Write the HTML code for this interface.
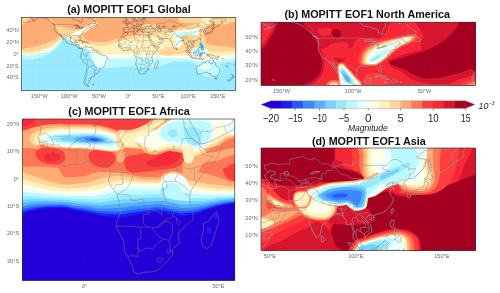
<!DOCTYPE html><html><head><meta charset="utf-8"><title>MOPITT EOF1</title>
<style>html,body{margin:0;padding:0;background:#fff}svg{display:block}text{font-family:'Liberation Sans', sans-serif}</style></head><body>
<svg width="500" height="293" viewBox="0 0 500 293">
<rect width="500" height="293" fill="#fff"/>
<defs>
<clipPath id="cpa"><rect x="21.5" y="17.5" width="214.3" height="72.9"/></clipPath>
<clipPath id="cpb"><rect x="261.0" y="22.2" width="214.6" height="63.1"/></clipPath>
<clipPath id="cpc"><rect x="22.4" y="119.0" width="212.4" height="161.3"/></clipPath>
<clipPath id="cpd"><rect x="261.0" y="148.0" width="214.6" height="102.4"/></clipPath>
</defs>
<g clip-path="url(#cpa)">
<rect x="19" y="15" width="219" height="78" fill="#99eaff"/>
<path d="M18.4 66.2C20.3 60.9 25.3 63.3 29.6 63C33.9 62.8 39.5 63.8 44 64.6C48.6 65.4 52.9 66.2 56.9 67.8C60.9 69.4 64.9 71.8 68.1 74.2C71.3 76.6 74 78.8 76.1 82.3C78.2 85.7 90.5 92.9 80.9 95.1C71.3 97.2 28.8 99.9 18.4 95.1C8 90.3 16.5 71.6 18.4 66.2Z" fill="#99eaff" />
<path d="M114 77.4C116.7 74 123.4 74.6 130.1 74.2C136.7 73.8 146.9 74.5 154.1 75C161.3 75.6 170.1 74.1 173.3 77.4C176.5 80.8 183.2 92.1 173.3 95.1C163.5 98 123.9 98 114 95.1C104.2 92.1 111.4 80.9 114 77.4Z" fill="#99eaff" />
<path d="M160 67.8C162.1 63 168.5 66.1 172.8 66.2C177.1 66.4 182.2 67.3 185.6 68.6C189.1 70 191.8 72 193.7 74.2C195.5 76.5 194.5 80.4 196.9 82.3C199.3 84.1 203 85.2 208.1 85.5C213.2 85.7 222.5 84.9 227.3 83.9C232.1 82.8 235.3 77.2 236.9 79.1C238.5 80.9 249.7 92.4 236.9 95.1C224.1 97.7 172.8 99.6 160 95.1C147.2 90.5 157.9 72.6 160 67.8Z" fill="#99eaff" />
<path d="M18.5 10C-18.2 18.2 18 50.8 18.5 59C19 67.2 19.6 58.9 21.5 59C23.4 59.1 26.9 59.7 30 59.5C33.1 59.3 36.7 59 40 58C43.3 57 47 55.4 50 53.5C53 51.6 55.8 48.9 58 46.5C60.2 44.1 61.9 40.8 63 39C64.1 37.2 63.6 35.5 64.4 35.5C65.2 35.5 66.7 37.9 68 39C69.3 40.1 70.7 40.9 72 42C73.3 43.1 74.5 44.5 76 45.5C77.5 46.5 79.3 47.2 81 48C82.7 48.8 84.5 48.7 86 50C87.5 51.3 88.5 53.5 90 56C91.5 58.5 93.3 63 95 65C96.7 67 97.5 67.5 100 68C102.5 68.5 106.7 68.2 110 68C113.3 67.8 116.7 67.2 120 67C123.3 66.8 126.7 66.5 130 66.5C133.3 66.5 136.7 66.8 140 67C143.3 67.2 146.7 68.2 150 68C153.3 67.8 156.7 66.9 160 66C163.3 65.1 166.7 63.2 170 62.5C173.3 61.8 176.7 61.6 180 61.5C183.3 61.4 186.7 61.5 190 62C193.3 62.5 196.7 64.1 200 64.5C203.3 64.9 206.7 64.7 210 64.5C213.3 64.3 216.7 63.9 220 63.5C223.3 63.1 227.3 62.4 230 62C232.7 61.6 234.5 61.2 236 61C237.5 60.8 238.5 69.5 239 61C239.5 52.5 275.8 18.5 239 10C202.2 1.5 55.2 1.8 18.5 10Z" fill="#bcf9ff" />
<path d="M18.5 10C-18.2 17.4 18 47.2 18.5 54.6C19 62 19.6 54.4 21.5 54.6C23.4 54.8 26.9 55.8 30 55.6C33.1 55.4 36.7 54.4 40 53.6C43.3 52.8 47 52.5 50 51C53 49.5 55.8 46.4 58 44.3C60.2 42.2 61.9 39.9 63 38.4C64.1 36.9 63.6 35 64.4 35C65.2 35 66.7 37.2 68 38.2C69.3 39.2 70.7 40.1 72 41.2C73.3 42.3 74.5 43.7 76 44.7C77.5 45.7 79.3 46.3 81 47C82.7 47.7 84.5 48.1 86 49C87.5 49.9 88.5 51.2 90 52.5C91.5 53.8 93.3 56.1 95 57C96.7 57.9 97.5 57.8 100 58C102.5 58.2 106.7 58.4 110 58.5C113.3 58.6 116.7 58.5 120 58.5C123.3 58.5 126.7 58.4 130 58.5C133.3 58.6 136.7 58.9 140 59C143.3 59.1 146.7 59.1 150 59C153.3 58.9 156.7 58.6 160 58.5C163.3 58.4 166.7 58.5 170 58.5C173.3 58.5 176.7 58.3 180 58.5C183.3 58.7 186.7 58.9 190 59.5C193.3 60.1 196.7 61.5 200 62C203.3 62.5 206.7 62.7 210 62.5C213.3 62.3 216.7 61.6 220 61C223.3 60.4 227.3 59.5 230 59C232.7 58.5 234.5 58.2 236 58C237.5 57.8 238.5 66 239 58C239.5 50 275.8 18 239 10C202.2 2 55.2 2.6 18.5 10Z" fill="#eaffff" />
<path d="M18.5 10C-18.2 17.4 18 46.8 18.5 54.1C19 61.5 19.6 53.9 21.5 54.1C23.4 54.3 26.9 55.3 30 55.1C33.1 54.9 36.7 53.9 40 53.1C43.3 52.3 47 51.8 50 50.3C53 48.8 55.8 45.8 58 43.8C60.2 41.8 61.9 39.5 63 38C64.1 36.5 63.6 34.8 64.4 34.7C65.2 34.6 66.7 36.6 68 37.6C69.3 38.6 70.7 39.5 72 40.6C73.3 41.7 74.5 43.1 76 44C77.5 44.9 79.3 45.5 81 46.2C82.7 46.9 84.5 47.3 86 48C87.5 48.7 88.5 49.4 90 50.5C91.5 51.6 93.3 53.6 95 54.5C96.7 55.4 97.5 55.7 100 56C102.5 56.3 106.7 56.4 110 56.5C113.3 56.6 116.7 56.6 120 56.5C123.3 56.4 126.7 56 130 56C133.3 56 136.7 56.7 140 56.8C143.3 56.9 146.7 56.8 150 56.8C153.3 56.8 156.7 56.5 160 56.5C163.3 56.5 166.7 56.9 170 57C173.3 57.1 176.7 57 180 57.2C183.3 57.4 186.7 57.5 190 58C193.3 58.5 196.7 59.6 200 60C203.3 60.4 206.7 60.8 210 60.5C213.3 60.2 216.7 59.1 220 58.5C223.3 57.9 227.3 57.4 230 57C232.7 56.6 234.5 56.2 236 56C237.5 55.8 238.5 63.7 239 56C239.5 48.3 275.8 17.7 239 10C202.2 2.3 55.2 2.6 18.5 10Z" fill="#ffffea" />
<path d="M18.5 10C-18.2 17.3 18 46.6 18.5 53.9C19 61.2 19.6 53.8 21.5 53.9C23.4 54 26.4 54.6 29.6 54.3C32.8 54 37.3 52.9 40.8 51.9C44.3 50.9 47.4 49.8 50.4 48.3C53.4 46.8 56.4 44.8 58.5 43C60.6 41.2 62 39.1 63 37.6C64 36.1 63.6 34.4 64.4 34.3C65.2 34.2 66.7 36 68 37C69.3 38 70.7 39 72 40C73.3 41 74.5 42.2 76 43C77.5 43.8 79.3 44.4 81 45C82.7 45.6 84.5 46 86 46.5C87.5 47 88.5 47.1 90 48C91.5 48.9 93.3 51 95 52C96.7 53 97.5 53.6 100 54C102.5 54.4 106.7 54.4 110 54.5C113.3 54.6 116.7 54.6 120 54.5C123.3 54.4 126.7 54 130 54C133.3 54 136.7 54.4 140 54.5C143.3 54.6 146.7 54.4 150 54.5C153.3 54.6 156.7 54.8 160 55C163.3 55.2 166.7 55.8 170 56C173.3 56.2 176.7 56.3 180 56.4C183.3 56.5 186.7 56.2 190 56.5C193.3 56.8 196.7 57.8 200 58C203.3 58.2 206.7 57.8 210 57.5C213.3 57.2 216.7 56.3 220 56C223.3 55.7 227.3 55.7 230 55.5C232.7 55.3 234.5 55.1 236 55C237.5 54.9 238.5 62.5 239 55C239.5 47.5 275.8 17.5 239 10C202.2 2.5 55.2 2.7 18.5 10Z" fill="#fff1bc" />
<path d="M18.5 10C-18.2 16.9 18 44.6 18.5 51.5C19 58.4 19.6 51.4 21.5 51.5C23.4 51.6 26.7 52.5 29.6 52.2C32.6 51.9 36 50.8 39.2 49.9C42.4 49 45.8 48.3 48.8 47C51.8 45.7 54.7 43.6 56.9 42C59.1 40.4 60.8 38.8 62 37.5C63.2 36.2 63.2 34.2 64 34C64.8 33.8 65.8 35.2 67 36C68.2 36.8 69.7 38.1 71 39C72.3 39.9 73.5 40.8 75 41.5C76.5 42.2 78.2 42.7 80 43C81.8 43.3 84.3 43.2 86 43.5C87.7 43.8 87.7 44.1 90 44.6C92.3 45.1 96.4 46.3 99.6 46.3C102.8 46.3 106 45.4 109.2 44.6C112.4 43.8 115.6 42.2 118.8 41.4C122 40.5 125.3 40.1 128.5 39.5C131.7 38.9 135.1 38.2 138 38C140.9 37.8 143.2 37.7 146 38C148.8 38.3 152.3 39 155 40C157.7 41 160.2 42.3 162 44C163.8 45.7 164.7 48.4 166 50C167.3 51.6 167.7 52.8 170 53.5C172.3 54.2 176.7 54.1 180 54C183.3 53.9 187 53.3 190 53C193 52.7 195.5 52.3 198 52C200.5 51.7 202.2 51.1 205 51C207.8 50.9 211.7 51.4 215 51.5C218.3 51.6 221.5 51.8 225 51.8C228.5 51.8 233.7 51.5 236 51.5C238.3 51.5 238.5 58.4 239 51.5C239.5 44.6 275.8 16.9 239 10C202.2 3.1 55.2 3.1 18.5 10Z" fill="#ffd699" />
<path d="M18.4 13.4C24.1 7.9 46.9 11.9 52.9 13.4C58.8 14.9 53.5 20.3 54 22.2C54.4 24.1 55 23.7 55.6 24.6C56.2 25.6 56.9 26.8 57.7 27.8C58.4 28.9 59.4 30 60.1 31C60.7 32.1 61.7 33.2 61.3 34.2C60.9 35.3 59.2 36.4 57.7 37.4C56.1 38.5 54.1 39.6 52.1 40.6C50 41.7 47.8 42.7 45.6 43.5C43.5 44.3 41.4 44.9 39.2 45.4C37.1 46 35 46.7 32.8 47.1C30.7 47.5 28.8 48 26.4 47.9C24 47.7 19.7 52 18.4 46.2C17.1 40.5 12.7 18.9 18.4 13.4Z" fill="#ffac75" />
<path d="M18.4 13.4C20.3 11.5 28 12.2 29.6 13.4C31.2 14.6 28.9 18.9 28 20.6C27.1 22.3 25.6 23.1 24 23.8C22.4 24.5 19.3 26.4 18.4 24.6C17.5 22.9 16.5 15.3 18.4 13.4Z" fill="#ffd699" />
<path d="M50 16.6C51.8 15.5 61.2 15.7 63.2 16.6C65.2 17.5 63 20.7 62 22C61 23.3 58.8 24.2 57.2 24.4C55.6 24.6 53.6 24.5 52.4 23.2C51.2 21.9 48.2 17.7 50 16.6Z" fill="#ffd699" />
<path d="M52 14C59.3 12.3 92.5 12.7 100 14C107.5 15.3 98.7 20.1 97 22C95.3 23.9 92.2 24.4 90 25.5C87.8 26.6 86 27.5 84 28.5C82 29.5 79.7 30.6 78 31.5C76.3 32.4 75.7 34.2 74 34C72.3 33.8 70.3 31 68 30C65.7 29 62 29 60 28C58 27 57.3 26.3 56 24C54.7 21.7 44.7 15.7 52 14Z" fill="#ffac75" />
<path d="M97 14C111 12.3 166.8 12.7 180 14C193.2 15.3 177.7 20.2 176 22C174.3 23.8 172.1 23.8 170 24.6C167.9 25.4 165.5 26.9 163.7 27C161.8 27.1 160.5 25.5 158.9 25.4C157.3 25.3 155.3 25.7 154 26.2C152.7 26.7 152.2 27.9 150.9 28.6C149.6 29.3 147.6 29.5 146 30.2C144.4 30.9 143.2 31.8 141.3 32.6C139.5 33.4 137.3 34.3 134.9 35C132.5 35.7 129.5 36.1 126.9 36.6C124.3 37.1 121.4 37.3 119.3 37.8C117.2 38.3 116.4 38.8 114.5 39.4C112.6 40 110.4 41 108 41.4C105.6 41.8 102.7 42 100 42C97.3 42 94.3 41.9 92 41.5C89.7 41.1 87.5 40.3 86 39.5C84.5 38.7 83.8 37.6 83 36.5C82.2 35.4 80.8 34 81 33C81.2 32 82.5 31.4 84 30.5C85.5 29.6 88 28.6 90 27.5C92 26.4 94.8 26.2 96 24C97.2 21.8 83 15.7 97 14Z" fill="#ffac75" />
<path d="M56 25.6C57.4 25.5 61.4 26.8 64.4 27.4C67.4 28 71.8 28.7 74 29.2C76.3 29.7 78.2 29.4 77.9 30.4C77.6 31.4 74.6 34.3 72.2 35.4C69.8 36.6 65.5 37.5 63.4 37.1C61.4 36.7 61 34.5 59.8 33C58.6 31.6 56.9 29.5 56.2 28.2C55.6 27 54.6 25.7 56 25.6Z" fill="#ffd699" />
<path d="M72.6 35.4C73.3 34.6 76.1 34 77.6 34C79.1 34 80.8 34.5 81.5 35.4C82.1 36.4 82.2 38.9 81.5 39.8C80.7 40.6 78.4 40.7 77 40.6C75.7 40.5 74.1 39.9 73.4 39C72.7 38.2 71.9 36.3 72.6 35.4Z" fill="#ffd699" />
<path d="M70.6 34.6C71.1 33.2 74.8 31.6 77 30.3C79.3 29 82.6 27.8 84.2 26.9C85.9 26.1 85.1 25.9 86.9 25C88.8 24.1 93.6 21.8 95.3 21.8C97.1 21.8 98.2 23.8 97.3 24.9C96.5 26 92 27.5 90.2 28.5C88.5 29.6 88.3 30.3 86.7 31.4C85.1 32.5 82.7 33.9 80.6 35C78.5 36.2 75.9 38.6 74.2 38.6C72.5 38.5 70.1 36 70.6 34.6Z" fill="#ffd699" />
<path d="M71.1 34.9C71.6 33.7 75.1 32.1 77.3 30.8C79.6 29.6 82.9 28.4 84.5 27.5C86.2 26.6 85.4 26.4 87.2 25.5C89 24.7 93.9 22.6 95.5 22.4C97.1 22.2 97.9 23.5 96.9 24.4C96 25.3 91.7 27 89.9 28C88.2 29.1 88 29.8 86.4 30.9C84.7 32 82.4 33.3 80.3 34.5C78.3 35.7 75.6 37.9 74.1 38C72.6 38 70.6 36.1 71.1 34.9Z" fill="#fff1bc" />
<path d="M71.6 35.2C72.2 34.2 75.4 32.6 77.6 31.4C79.8 30.2 83.2 28.9 84.8 28C86.5 27.1 85.7 26.9 87.5 26.1C89.3 25.2 94.1 23.3 95.6 23C97.1 22.6 97.6 23.2 96.6 23.9C95.6 24.7 91.4 26.4 89.6 27.5C87.9 28.6 87.6 29.3 86 30.4C84.4 31.5 82 32.8 80 34C78 35.2 75.4 37.2 74 37.4C72.6 37.6 71 36.2 71.6 35.2Z" fill="#ffffea" />
<path d="M73.4 35C74.1 34.2 76.9 32.8 78.8 31.8C80.7 30.8 83.5 29.6 84.8 29C86.1 28.3 86.5 27.9 86.6 28C86.8 28.1 86.9 28.8 85.8 29.7C84.7 30.5 81.9 32 80 33C78.2 34.1 75.7 35.8 74.6 36.2C73.5 36.5 72.7 35.7 73.4 35Z" fill="#eaffff" />
<path d="M142.9 24.6C144.4 23.8 148.5 23.8 150.9 23.8C153.3 23.9 156.1 23.7 157.3 24.9C158.5 26.1 158.9 29.7 158.1 31C157.3 32.4 154.6 32.7 152.5 32.9C150.4 33.2 147 33 145.3 32.3C143.6 31.6 142.5 29.9 142.1 28.6C141.7 27.3 141.4 25.4 142.9 24.6Z" fill="#ffd699" />
<path d="M156.8 13.4C163.6 11 191 12.1 197.7 13.4C204.3 14.7 197.8 19.5 196.9 21.4C195.9 23.3 194.2 24 192.1 24.9C189.9 25.9 187 26.4 184 27C181.1 27.6 177.6 28.4 174.4 28.6C171.2 28.9 167.7 28.8 164.8 28.6C161.9 28.5 158.1 30.4 156.8 27.8C155.5 25.3 150 15.8 156.8 13.4Z" fill="#ffac75" />
<path d="M161 12.8C167.6 10.6 194.4 11.7 200.6 12.8C206.8 13.9 200.2 17.6 198.4 19.4C196.6 21.2 193.3 22.8 189.6 23.8C185.9 24.8 181.2 25.2 176.4 25.6C171.6 25.9 163.6 28.1 161 26C158.4 23.9 154.4 15 161 12.8Z" fill="#ffac75" />
<path d="M200.1 15.8C201.5 15 206.2 15.1 208.1 15.8C210 16.5 211.6 18.3 211.6 19.8C211.6 21.3 209.7 24.1 208.1 24.9C206.5 25.8 203.5 25.7 202 24.9C200.5 24.2 199.6 22.1 199.3 20.6C198.9 19.1 198.6 16.6 200.1 15.8Z" fill="#fff1bc" />
<path d="M179.2 15.8C182.4 14.7 196.7 14.6 200.1 15.8C203.4 17 200.9 21.6 199.3 23C197.7 24.4 193.5 24.3 190.4 24.3C187.4 24.2 182.7 24.1 180.8 22.7C179 21.3 176 16.9 179.2 15.8Z" fill="#ffd699" />
<path d="M212.9 13.4C216.6 11.7 232.9 11.7 236.9 13.4C240.9 15.1 239.1 21.9 236.9 23.8C234.8 25.7 227.8 24.9 224.1 24.9C220.4 24.9 216.4 25.7 214.5 23.8C212.6 21.9 209.1 15.1 212.9 13.4Z" fill="#ffd699" />
<path d="M204.9 31C205.7 28.9 206.5 27.4 208.1 26.2C209.7 25 211.8 24.1 214.5 23.8C217.2 23.5 220.4 24.8 224.1 24.6C227.8 24.4 234.8 19.2 236.9 22.7C239.1 26.2 238.5 41.8 236.9 45.8C235.3 49.7 230.5 46.4 227.3 46.4C224.1 46.4 220.9 46.1 217.7 45.8C214.5 45.4 210.5 45.3 208.1 44.2C205.7 43 203.8 41.2 203.3 39C202.7 36.8 204.1 33.2 204.9 31Z" fill="#ffac75" />
<path d="M168.5 34.1C170 32 176.9 30.8 180.5 30C184.2 29.2 187.4 29.6 190.2 29.2C193 28.8 195.3 27.2 197.2 27.6C199.2 28 202 30.1 201.8 31.4C201.7 32.8 198.5 34.8 196.2 35.9C193.9 37.1 190.6 37.6 188 38.4C185.3 39.2 182.2 39.6 180.3 40.7C178.4 41.8 177.9 44.7 176.5 45C175 45.2 172.6 44.2 171.3 42.3C170 40.5 166.9 36.1 168.5 34.1Z" fill="#fff1bc" />
<path d="M169 34.5C170.5 32.7 177.1 31.5 180.7 30.7C184.2 30 187.6 30.3 190.3 29.9C193.1 29.5 195.4 28.1 197.2 28.3C199 28.5 201.4 30.1 201.2 31.3C200.9 32.4 198.1 34.2 195.9 35.3C193.7 36.4 190.5 36.9 187.8 37.7C185.1 38.5 181.9 39 179.9 40.1C178 41.1 177.6 44 176.3 44.3C174.9 44.6 173.1 43.6 171.9 41.9C170.7 40.3 167.5 36.4 169 34.5Z" fill="#ffffea" />
<path d="M169.6 35C171 33.4 177.4 32.2 180.8 31.5C184.3 30.8 187.7 31.1 190.4 30.7C193.2 30.3 195.5 29 197.2 29.1C198.8 29.2 200.7 30.1 200.4 31C200.1 31.9 197.7 33.6 195.6 34.6C193.4 35.5 190.2 36.2 187.6 37C184.9 37.8 181.5 38.3 179.6 39.4C177.6 40.5 177.2 43.2 176 43.5C174.9 43.9 173.6 42.9 172.5 41.4C171.4 40 168.2 36.7 169.6 35Z" fill="#eaffff" />
<path d="M173.6 35.5C174.9 34.3 178.8 33.3 181.6 32.6C184.4 32 188 32 190.4 31.7C192.9 31.3 195.3 30.4 196.5 30.4C197.8 30.3 198.5 30.8 198.1 31.3C197.8 31.9 196.3 33.1 194.5 33.9C192.6 34.7 189.5 35.3 186.9 36C184.4 36.7 181 37.3 179.2 38.2C177.4 39.1 176.9 41.2 176 41.4C175.2 41.7 174.5 40.8 174.1 39.8C173.7 38.9 172.4 36.7 173.6 35.5Z" fill="#bcf9ff" />
<path d="M168.8 36.6C169.7 35.2 173.9 35.4 176 35.8C178.2 36.2 180.8 37.3 181.6 39C182.4 40.8 181.8 44.8 180.8 46.2C179.9 47.7 177.8 48.1 176 47.9C174.3 47.6 171.6 46.5 170.4 44.6C169.2 42.8 167.9 38.1 168.8 36.6Z" fill="#ffffea" />
<path d="M170.9 37.4C171.6 36.3 174.5 36.5 176 36.8C177.5 37.1 179.5 38.1 180 39.4C180.6 40.7 179.9 43.5 179.2 44.6C178.6 45.8 177.2 46.4 176 46.2C174.8 46.1 172.9 45 172 43.5C171.2 42.1 170.2 38.6 170.9 37.4Z" fill="#eaffff" />
<path d="M148.9 41.4C149.8 40.1 152.8 38.2 156.6 37C160.5 35.8 168.9 34.4 172 34.4C175.1 34.4 175.7 35.9 175.3 37C174.9 38.1 172.6 39.9 169.8 41C167.1 42 161.9 42.5 158.8 43.2C155.7 43.8 152.8 45 151.1 44.7C149.5 44.4 148 42.7 148.9 41.4Z" fill="#fff1bc" />
<path d="M150 36C151.5 34.5 156.7 34 160 34C163.3 34 167.3 35 170 36C172.7 37 175.3 38.4 176 40C176.7 41.6 175.7 44.3 174 45.5C172.3 46.7 168.7 46.9 166 47C163.3 47.1 160.5 46.7 158 46C155.5 45.3 152.3 44.7 151 43C149.7 41.3 148.5 37.5 150 36Z" fill="#fff1bc" />
<path d="M140 42C141.3 40.3 145.8 39.7 148 40C150.2 40.3 152.3 42.3 153 44C153.7 45.7 153.2 48.5 152 50C150.8 51.5 148 53 146 53C144 53 141 51.8 140 50C139 48.2 138.7 43.7 140 42Z" fill="#ffffea" />
<path d="M127 44.5C127.8 43.5 131.4 43.2 133 43.5C134.6 43.8 136.2 45 136.5 46C136.8 47 136.4 48.9 135 49.5C133.6 50.1 129.3 50.3 128 49.5C126.7 48.7 126.2 45.5 127 44.5Z" fill="#eaffff" />
<path d="M184 35C185.9 33.6 191.8 34.6 195.3 35C198.7 35.4 203.1 35.4 204.9 37.4C206.6 39.4 206.7 44.9 205.7 47.1C204.6 49.2 201.3 50.1 198.5 50.6C195.7 51.1 191.2 51.1 188.8 49.9C186.4 48.8 184.8 46.3 184 43.8C183.2 41.4 182.2 36.5 184 35Z" fill="#ffd699" />
<path d="M191.5 50C192.1 48.8 194.2 48 196 47.5C197.8 47 200.2 46.7 202 47C203.8 47.3 206 48.4 207 49.5C208 50.6 208.5 52.3 208 53.5C207.5 54.7 205.8 56 204 56.5C202.2 57 198.9 57.1 197 56.8C195.1 56.5 193.4 55.6 192.5 54.5C191.6 53.4 190.9 51.2 191.5 50Z" fill="#eaffff" />
<path d="M193 50.5C193.5 49.5 195.5 48.8 197 48.5C198.5 48.2 200.7 48.1 202 48.5C203.3 48.9 204.6 50 205 51C205.4 52 205.5 53.7 204.5 54.5C203.5 55.3 200.8 56 199 56C197.2 56 195 55.4 194 54.5C193 53.6 192.5 51.5 193 50.5Z" fill="#bcf9ff" />
<path d="M199.4 43C199.9 42.2 201.7 41.9 202.5 42.3C203.3 42.7 203.8 44.4 204 45.5C204.2 46.6 204.1 48.5 203.6 49.2C203.1 50 201.7 50.4 201 50C200.3 49.6 199.7 48.2 199.4 47C199.1 45.8 198.9 43.8 199.4 43Z" fill="#99eaff" />
<path d="M200.4 44.3C200.7 43.6 202.1 43.7 202.5 44.2C202.9 44.8 203.2 46.9 202.9 47.6C202.6 48.3 201.2 48.8 200.8 48.2C200.4 47.7 200.1 45 200.4 44.3Z" fill="#75d3ff" />
<path d="M119.6 41C121.5 39.3 127.5 39.7 131.7 39.4C135.8 39 140.7 38.6 144.5 39C148.2 39.5 152.4 40 154.1 42.2C155.8 44.5 156.8 50.7 154.9 52.7C153 54.7 147 54.1 142.9 54.3C138.7 54.4 133.8 54.3 130.1 53.5C126.3 52.7 122.2 51.5 120.4 49.5C118.7 47.4 117.8 42.6 119.6 41Z" fill="#fff1bc" />
<path d="M122.1 44.3C124.3 43.8 133.9 43.5 136.5 43.8C139 44.2 139.5 45.9 137.3 46.4C135 46.9 125.4 47.1 122.9 46.7C120.3 46.4 119.8 44.8 122.1 44.3Z" fill="#ffffea" />
<path d="M159.7 49.9C161.8 48.8 171.1 47 173.3 47.9C175.6 48.7 175.5 53.9 173.3 55.1C171.2 56.2 162.8 55.6 160.5 54.7C158.2 53.9 157.6 51.1 159.7 49.9Z" fill="#ffd699" />
<path d="M93 55C94.1 54.1 97.7 54.2 100 54.5C102.3 54.8 105.8 55.6 107 57C108.2 58.4 108.2 61.2 107.5 63C106.8 64.8 104.8 67 103 67.5C101.2 68 98.6 67.2 97 66C95.4 64.8 94.2 61.8 93.5 60C92.8 58.2 91.9 55.9 93 55Z" fill="#eaffff" />
<path d="M138.1 57.6C140.4 56.6 150.1 56.2 152.5 57.3C154.9 58.3 153.5 62.3 152.2 63.8C150.8 65.4 146.8 66.7 144.5 66.6C142.2 66.4 139.5 64.5 138.4 63C137.3 61.5 135.7 58.5 138.1 57.6Z" fill="#bcf9ff" />
<path d="M196.9 63.8C198.8 62.6 204.3 61.4 208.1 61.4C211.8 61.4 217.4 61.7 219.3 63.8C221.2 66 221 72 219.6 74.2C218.3 76.5 214.5 77.4 211.3 77.4C208 77.4 202.5 75.7 200.1 74.2C197.6 72.8 197.1 70.4 196.5 68.6C196 66.9 194.9 65 196.9 63.8Z" fill="#bcf9ff" />
<path d="M200.1 65.4C201.3 64.7 206.2 64 208.1 64.3C209.9 64.6 211.5 66.2 211.3 67C211 67.9 208.2 69.2 206.5 69.4C204.7 69.7 201.9 69.3 200.9 68.6C199.8 68 198.9 66.2 200.1 65.4Z" fill="#eaffff" />
<path d="M29.8 13.1L32.2 15.5L30.4 16.7L31 17.9L32.2 18.8L34.6 19.7L32.2 20.9L34.6 20.3L37 19.1L38.2 17.6L40.5 17.6L42.9 17.9L45.3 18.1L47.7 19.1L49.5 20.3L50.7 21.5L52.4 23L54.5 24.7L54.8 26.2L54.6 28L54.8 29.8L55.7 31.3L56.6 32.8L58.1 33.4L59 34.3L60.2 35.8L60.8 36.9L62 38.1L63.1 39.9L63.4 39.8L62.6 38.1L61.4 36.3L60.4 34.9L61.4 35.2L62 36.3L63.1 37.5L63.7 38.4L64.9 39.3L65.8 40.8L66.1 42L67.9 43L70.3 44.1L72.1 44.1L73.3 44.7L74.5 45.3L76.2 45.9L76.8 46.2L77.6 47.1L78.6 47.9L79.2 48.7L80.4 49.1L81 49.1L81.3 48.2L82.2 48.5L82.6 48.8L82.6 48.5L81.6 47.9L80.4 48.2L79.2 47.4L78.9 45.9L79 44.7L77.4 44.2L75.9 44.2L76.2 42.9L76.5 41.1L75 41.1L74.5 42.3L72.7 42.7L71.5 42L70.6 40.5L70.6 38.7L70.9 37.2L72.1 36.2L73.3 35.9L75 36.2L75.6 35.6L77.4 35.6L78.6 35.8L79.4 36.9L79.9 38.1L80.4 38.6L80.9 38.4L81 37.5L80.2 35.5L81 34.3L82.5 33.1L83.6 32.6L83.4 31.6L83.7 31L84.6 29.8L85.8 29.2L86.9 28.8L86.7 28L88.7 26.8L89.9 27.7L92.3 26.5L90.5 25.9L89.9 25L88.1 24.4L90.5 23.9L93.5 23.6L95.3 22.7L95.6 21.8L94.1 21.2L92.3 20L91.7 18.8L90.2 17.6L88.1 18.5L86.9 17.3L85.2 16.7L82.2 16.4L82.2 17.9L82.8 19.4L81.6 20.9L81.3 23L79.8 22.4L79.5 20.9L77.4 20.4L75.6 19.7L73.6 19.4L72.4 18.5L72.7 16.7M93.5 25.3L95.3 25.8L97.1 25.8L97.1 24.7L95.6 23.9L95 23L94.1 24.1L93.5 25.3M100 16.7L101.8 17.9L103 17.9L103.6 16.7M78 40.5L79.8 39.9L81.6 40.1L83.4 41.1L84.5 41.6L82.5 41.8L81.9 40.9L79.8 40.3L78.6 40.6L78 40.5M84.3 42.7L85.5 41.8L86.9 41.8L87.9 42.5L86.7 42.8L85.8 42.9L84.3 42.7M82 42.7L83.2 42.8L82.5 43L82 42.7M88.6 42.7L89.5 42.7L89 42.9L88.6 42.7M52.3 23.4L54.2 23.9L55.1 24.7L53.9 24.6L52.3 23.4M73.9 25.8L76.2 24.7L78 25.3L78.2 25.9L76.8 25.9L75 25.8L73.9 25.8M76.4 28.7L77.1 28.6L77.7 26.8L78.3 26.3L79.5 26.5L80.1 27.1L79.2 27.7L78.9 26.9L77.1 26.3L76.4 27.4L76.4 28.7M79 28.7L81.6 28.1L81.6 27.7L83.2 27.5L82.8 27.9L81 28.4L79 28.7M82.6 48.8L83.7 47.2L85.2 46.9L86.1 46.3L86.4 47.4L87.5 46.8L89.3 47.4L91.1 47.2L92.3 47.9L93.5 48.8L94.7 50L96.5 50.1L98 50.9L98.8 52.7L98.8 53.6L100 54.2L101.8 54.8L103.6 55.3L105.4 55.7L106.6 56.6L107.8 57.2L107.8 59L106.6 60.4L105.4 61.9L105.4 64.3L104.2 66.7L102.4 67.3L100.6 68.2L99.7 69.7L98.8 71.5L97.4 73.2L96.5 74.2L94.7 74.1L93.8 73.8L94.7 75.3L94.1 76.5L91.7 76.8L91.4 78L89.9 78L90.5 79.2L89.6 80.4L88.4 81.3L89.3 82.2L88.1 83.6L87.5 84.5L87.8 85.1L89.3 86.2L88.1 86.6L86.4 86L84.6 84.8L83.7 82.8L84.3 80.4L85.2 78.6L84.7 76.8L84.9 75.6L86.1 73.2L86.1 70.9L86.7 68.5L86.8 65.5L86.7 64.3L85.5 63.4L83.4 61.9L82.7 60.7L81.6 58.7L80.4 57.2L80.3 56.2L81 55.4L80.5 54.5L81 53.3L81.6 52.7L82.5 51.2L82.5 49.4L82.6 48.8M92.3 84.2L94.1 84.1L93.5 84.7L92.3 84.2M125 32.3L127.4 32.7L129.2 31.9L131.6 31.7L134.5 31.5L135.1 32.8L134.5 33.4L135.1 33.8L137.5 34.4L139.9 35.5L140.5 34.6L142.3 34.1L143.5 34.7L145.9 35.2L147.6 35L148.8 35L147.9 35.9L148.8 37.2L149.7 39.3L150.6 41.1L150.8 42.6L151.8 44.4L153 45.3L154.2 46.2L154.4 46.8L155.4 47.4L157.2 46.9L158.9 46.5L159.1 47.4L157.8 49.4L156.9 50.9L154.8 52.7L153.3 54.7L152.4 56L151.8 57.5L152.1 59L152.7 60.7L152.7 62.5L150.6 64.2L149.4 65.5L149.7 67.6L148.2 68.8L148.1 70.3L147 71.5L145.3 73.2L143.8 73.8L141.7 73.9L140.5 74.3L139.5 73.8L139.3 72.6L138.4 70.9L137.5 69.4L137.2 67L135.7 64.3L135.7 63.1L136.6 61L136.3 59L135.7 56.9L134.5 55.4L134 54.1L134.3 52.7L134.4 51.5L133.7 50.9L132.5 51L131.3 49.9L129.8 49.9L128 50.5L126.8 50.6L125.6 50.6L124.1 51L122.9 50L121.5 49L120.7 48.1L119.7 47.1L118.6 46.2L118.6 45L118.2 44.9L118.8 43.8L119 42.3L118.5 41.1L119.1 39.6L120 38.1L120.9 37.1L122.1 36.5L122.8 35.8L122.9 34.6L123.8 33.7L124.7 33.1L125 32.3M157.9 60.7L158.5 62.8L158.1 64L157.5 65.8L156.7 68.2L155.7 68.8L154.8 68.2L154.5 66.7L155 65.2L155.1 63.3L156.3 62.8L157.2 61.6L157.9 60.7M123.2 28L123.4 29.2L122.9 30.6L123.4 31.6L124.9 31.9L125.4 32.2L127.4 31.8L128.6 30.6L128.4 30.1L129.1 29.2L130.5 28.6L131 27.7L132.2 28L133.7 27.2L134.7 27.5L135.9 28.8L136.9 29.3L138 29.8L138.1 31L138.8 30.4L138.5 29.6L139.6 29.7L138.1 28.7L136.7 27.7L135.9 27.2L136 26.5L136.8 26.5L137.5 27L138.7 28L140.1 28.7L140.2 29.6L141.1 30.7L141.7 31.8L142.3 31.9L142.4 31L142.9 31L142.2 29.8L142.9 29.5L144.1 29.3L144.2 29.8L144.7 31.3L145.3 31.8L146.7 31.9L147.9 32.2L150 31.8L150 32.8L149.7 34L149.1 34.9L148.8 35M147.9 35.9L149.4 36L149.4 36.9L150.6 38.7L151.8 40.8L153 42.9L154 44.7L154.4 46L155.4 46L157.2 45.3L159.5 44.1L161.3 43.2L162.5 42.3L164.2 40.2L163.5 39.5L162.2 39L162.1 38L161 39.2L159.3 39.3L159.2 38.1L158.5 37.8L157.5 36L158.6 35.8L158.9 36.9L160.1 37.7L161.9 37.5L162.5 38.4L165.2 38.6L168.2 38.5L168.8 39.3L169.4 39.8L170.2 41.1L171.7 41.1L171.9 42.3L172.2 44.1L172.9 45.9L173.8 47.7L174.7 48.8L175.1 48.2L175.7 47.5L176.2 45.6L176.3 44.4L177.6 43.7L179.2 42L180.4 40.8L181.6 40.5L182.4 40.2L183 40.2L183.5 41.2L184.7 42.6L184.7 44.1L185.4 44.2L186.6 43.8L186.8 45L187.2 46.5L187.1 48.2L187.1 48.8L188.3 50L188.9 51.8L190.1 52.8L190.6 52.7L190.1 51.2L189.4 49.9L188.2 48.5L188.1 46.2L188.6 45.7L189.6 46.5L191 47.4L191.2 48.4L192.1 47.5L193.5 46.8L193.6 45.6L193.3 44.4L192.3 43.2L191.5 42.3L192.1 41.2L193 40.7L194.1 40.9L194.2 41.5L194.4 40.9L196.1 40.3L197.6 39.9L199.1 38.8L200 37.5L201.1 36L201.1 35.2L200.3 34.3L199.7 32.9L200.3 32.1L201.5 31.6L200.6 31.2L199.4 31.5L198.7 30.5L199.5 30.1L200.9 29.3L200.7 30.4L201.4 29.8L202.6 29.8L203.1 31L203.9 31.6L203.7 33.1L204.8 32.9L205.6 32.2L205.6 31.3L204.8 30.4L204.5 29.8L205.8 28.9L206.4 28.3L207.7 28.1L209.2 27.1L210.7 25.6L212.1 23.9L212.2 22.7L212.7 21.9L211.3 21.5L210.1 21.5L209.1 21L210.4 20L211.9 18.8L213.7 18.3L215.5 18.3L217.8 18.2L219 18.5L220.2 18.2L221.7 17L223.8 16.8L225.6 16.4L225.8 17L226.2 17.9L225 19.1L225.6 20.3L225 21L223.8 21.9L222.7 22.4L221.8 23.3L221.3 21.5L221.2 20L222 19.1L223.8 17.6L226.2 16.4L229.8 17.9L232.7 16.7L235.7 14.9M123.2 28L125.6 27.7L127.5 27.8L127.9 26.2L127.1 25.3L125.8 24.8L127.7 24.6L127.8 24L128.7 24.1L129.6 23.4L130.7 23L131.3 22.4L131.6 21.9L132.8 21.7L133.8 21.6L133.5 20.6L133.5 19.7L134.8 19.3L134.8 20.3L134.4 20.9L135.1 21.5L136 21.2L137 21.5L139.3 21L140.4 21.2L141.1 20.6L141.1 19.7L142.6 19.7L143.1 18.9L142.6 18.3L144.7 18.2L146.2 17.9L145.3 17.6L142.9 17.9L141.7 17.6L141.4 16.7M131.6 16.7L131.6 18.5L131.9 18.8L132.8 19.1L133.7 18.9L134.8 18.3L135.3 18.8L136 20.1L136.3 20.6L137.1 20.6L138.1 20.1L138.5 19.3L139.6 18.2L139 17.3L139.3 16.4M125.3 23.9L126.8 23.4L129.4 23.1L128.9 23L129.6 22.2L128.8 22.1L128.5 21.5L127.7 20.9L127.4 20.3L126.5 20.3L127.4 19.3L126.2 19.3L126.8 18.7L125.6 18.7L125 19.5L125.3 20.3L125.7 20.9L126.8 21.5L126.8 21.9L125.9 21.9L126.1 22.2L125.5 22.8L126.8 23L126.1 23.1L125.3 23.9M125 22.7L125 21.5L124.9 20.8L123.7 20.9L122.6 21.5L122.8 22.7L123.5 23L125 22.7M145.3 29.1L145.9 29.1L147 29.1L148.2 28.6L149.4 28.6L150.3 29L151.5 29.2L153.3 28.9L153.3 28.2L152.1 27.5L150.9 26.8L150.5 26.6L151.5 25.6L149.4 26.1L148.5 26.2L148.5 27.1L147.9 26.6L147 25.9L146.4 26.5L145.7 27.4L145.3 28.3L145.3 29.1M157.8 25.9L158.9 25.6L160.1 25.9L160.1 26.8L158.9 27.1L158.5 28L159.5 28.3L160.1 29.2L160 29.8L160.7 30.4L160.6 31.6L159.2 31.8L158.1 31.3L157.8 30.4L158.1 29.5L156.9 28L156.6 27.1L157.8 25.9M163.4 25.9L164.6 25.9L164.9 26.8L164 27.5L163.3 27.1L163.4 25.9M172.3 26.5L173.8 25.9L175.6 25.9L174.4 26.2L172.9 26.8L172.3 26.5M136 31L137.8 30.9L137.6 31.7L136 31.2L136 31M133.5 29.2L134.4 29.2L134.3 30.3L133.7 30.4L133.5 29.2M133.8 28.3L134.3 28.1L134.1 28.9L133.8 28.6L133.8 28.3M142.6 32.5L144.2 32.7L143.2 32.8L142.6 32.5M147.8 32.8L149.1 32.4L148.5 33L147.8 32.8M206.1 35L206.8 34.9L207.1 33.7L208.3 33L209.2 33L209.4 33.7L210.1 33L211.3 32.8L212.4 32.4L212.5 31L213.1 30.1L212.7 29L212.1 29.2L211.9 29.9L211.6 30.9L210.2 31.6L209.5 32.2L207.7 32.5L206.5 33.2L205.9 33.8L206.1 35M211.9 28.9L212.8 28.3L214 28.6L215.2 27.8L214.5 27.4L213.1 26.5L212.8 27.7L212 28L211.9 28.9M213.1 26.2L213.9 25.9L213.7 24.4L214.6 24.4L213.7 22.7L213.7 21.3L213.2 21.8L213.1 23.9L213.1 26.2M200.1 39.9L200.6 38.6L201.1 38.7L200.9 39.6L200.5 40.5L200.1 39.9M193.3 42.2L194.1 41.6L194.6 41.9L194.2 42.6L193.5 42.7L193.3 42.2M176.1 47.8L176.8 48.4L177.3 49.4L176.8 50L176.2 49.9L176.1 48.8L176.1 47.8M200.3 42.6L201.3 42.6L201.2 43.8L200.9 44.7L201.5 45.3L202.4 45.9L202.1 46.1L201.2 45.4L200.5 45.3L200.2 44.7L200 44L200.3 42.6M201.2 49.4L202.1 48.5L203 47.8L203.7 48.5L203.7 49.7L203.3 50.1L202.4 49.7L201.8 49.1L201.2 49.4M202.7 46.2L203.3 46.5L203.4 47.1L203 47.5L202.7 47.1L202.7 46.2M198.3 48.5L199.7 47.4L199.7 46.9L198.8 47.9L198.3 48.5M201.2 46.6L201.8 46.8L202 47.9L201.5 47.9L201.2 47.4L201.2 46.6M193.5 52.5L194.6 52.6L195.8 51.7L197 50.6L198 49.4L198.8 50L199.4 50.6L198.8 51.2L198.7 52.4L199.3 53L198.5 53.6L197.9 54.8L197.6 56L196.7 56L195.8 55.5L194.9 55.4L194.1 54.5L193.5 53.6L193.5 52.5M185.3 50.3L186.6 50.5L188.1 52.1L189 52.6L190.2 53.6L190.8 54.8L191.7 55.4L191.6 57.1L190.8 57.1L189.3 56L188.4 54.8L187.5 53.3L186.6 52.1L185.3 50.3M191.2 57.6L192 57.2L193.2 57.5L194.6 57.5L195.8 57.8L196.7 58.2L196.6 58.8L194.6 58.5L192.9 58.2L192 57.9L191.2 57.6M199.7 54.1L200 53.1L200.6 52.8L201.8 53.1L203 52.6L202.7 53.4L200.6 53.4L200.2 54.1L200.9 54.2L202 54.1L201.2 54.7L201.1 55.4L201.5 56.3L200.9 56.5L200.5 55.4L200.2 55.4L200.2 56.9L199.7 56.9L199.7 55.7L199.3 55.3L199.7 54.1M206.5 54.1L208.3 54.1L208.9 55.6L210.4 54.6L212.5 55.1L214.6 56L215.5 56.9L216.4 57.2L216.2 57.8L217.3 59L218.1 59.8L216.7 59.7L215.8 58.8L214.3 58.2L213.7 59L212.5 59.1L211.3 58.4L210.7 58.6L211 57.6L210.4 56.7L208.9 56.2L207.7 56L207.1 55.3L208.2 55L207.1 54.8L206.5 54.1M202.1 59.7L203 59L204.2 58.6L203.3 59.3L202.1 59.7M197.6 58.7L198.8 58.5L200 58.7L201.8 58.5L200 58.9L198.2 59L197.6 58.7M204.5 52.4L204.8 53L205.2 53.4L204.6 53.9L204.5 52.4M217 56.9L218.1 56.9L219 56.1L219.2 56.6L218.4 57.3L217.3 57.3L217 56.9M196.1 66.7L196.5 69.1L196.1 69.4L197 71.5L197.4 72.6L197 74L198.8 74.4L200 73.8L202.1 73.8L203.6 72.8L205.4 72.5L206.8 72.3L208.3 73.1L209.2 74.3L209.5 73.8L210.4 73.2L210.6 74.7L211.6 75L212.5 76.3L214.3 76.5L215.6 76.8L216.7 76.1L217.8 75.8L218.4 73.8L219.3 72.9L219.9 70.9L219.8 69.1L218.4 67.8L217.6 66.9L216.7 65.5L215.6 64.9L215.2 62.5L214.1 62.1L213.4 60L212.9 61.3L212.8 62.8L212.2 64L210.7 63.4L209.5 62.8L209.2 62.2L209.9 60.9L208.9 60.7L207.7 60.4L206.5 60.9L205.8 62.4L204.9 62.4L204 61.9L203 62.8L202.1 63.9L201.3 64.3L200.6 65.2L198.8 65.7L197.3 66.3L196.1 66.7M214.7 77.8L215.8 78L216.8 77.9L216.7 79.2L215.8 79.5L215.1 78.9L214.7 77.8M231.4 74.1L232.3 74.7L233 75.3L233.3 76L234.5 76L234.7 76.5L233.9 77.1L233.4 78L232.7 78.3L232.6 77.4L232 77L232.5 76.2L232.4 75.3L231.5 74.4L231.4 74.1M231.4 77.7L232.1 78.3L231.4 79.5L230.5 80L230.2 80.9L229.2 81.3L228.3 81.1L227.7 80.8L228.6 79.9L230 79.2L230.6 78.5L231.4 77.7M226.2 65.6L227.7 66.7L228 66.9L226.8 66.3L226.2 65.6M35.8 41.6L36.4 41.8L36.1 42.3L35.8 42L35.8 41.6M22.7 22.8L25.1 22.5L27.5 22.2L29.2 21.8L31 21.1M215.5 27.1L216.7 26.5L217.8 26.1L219 25.3L220.2 24.4L221.4 23.6M234.1 64L234.9 64L234.7 64.4L234.1 64.3L234.1 64M221.4 57.8L222.6 58.4L223.8 59.1L224.7 59.7M227.7 62.5L228.1 62.8L228.3 63.4L228.7 64.1" fill="none" stroke="#3d3d3d" stroke-width="0.42" stroke-opacity="0.85" stroke-linejoin="round"/>
<path d="M55.4 24.4L72.1 24.4L75.6 25L78.3 25.9L79.5 26.6L79.5 28.6L81.6 28L83.1 27.4L84 26.8L86.1 26.8L87.5 25.5L88.3 25.6L88.7 26.8M44.7 17.9L44.7 12.5M59 34.3L60.4 34.3L62.6 35L64.3 34.9L65.2 34.7L66.4 36L67.3 36.3L68.2 35.9L69.4 37.2L70.8 38.2M73.7 45L74.5 44.1L74.5 43L75.6 42.9L76.1 42.6M76.1 44.3L75.5 45L76.4 45.6L76.8 45.9M76.5 45.9L78 45L79.1 44.7M77.6 47L78.8 47.1M79.3 48.8L79.5 47.9M127.4 32.7L127.7 34.3L126.5 35.2L125.3 35.9L123.4 36.5L123.4 37.4M120.9 37.1L123.4 37.1L123.4 38.1L121.5 38.1L121.5 39.6L120.9 39.9L120.9 40.9L118.5 40.9M123.4 37.4L125.7 38.7L124.7 38.7L125.3 43.8L125.4 44.4L122.9 44.4L121.8 44.4L121.3 44.8L120 43.7L118.8 44M125.7 38.7L129.3 41.1L130.5 41.8L130.5 42.3L131.1 42.2L131.1 43.8L130.7 44.4L128.9 44.7L128.3 44.7L127.4 45.2L126.5 45.7L126 46L125.4 46.6L125.3 47.4L123.8 47.5L123.4 47.1L122.9 46.3L121.8 46.3L121.3 44.8M130.5 41.8L132.2 42L133.1 41.2L135.7 39.6M133.7 31.6L133.5 33.1L133.1 33.5L134 34.6L134.3 35.6L134.5 37.5L134.3 38.1L134.5 39L135.7 39.6L137 40.2L137.5 39.9L142.9 42L142.9 41.7L143.5 41.7L143.5 34.8M143.5 40.5L147.3 40.5L148.4 40.5L150.6 40.5M137.5 39.9L137.8 41.1L137.9 42.6L137.8 43.5L136.7 45L136.6 45.4L137 45.9L137 46.2M142.9 42L142.9 44.3L142.2 44.4L141.9 45.9L142.2 47.1L142 47.1M130.7 46.6L131 45.6L132.5 45.4L133.4 45.7L134.5 45.7L136 45.7L136.7 45.4M125.3 47.4L126.9 47.9L126.9 47.1L128.3 47.1L129.1 47.1L129.5 46.8L130 46.5L129.9 46.1L129.1 45.7L128.7 44.7M126.9 47.9L126.7 49.6L126.9 50.6M129.1 47.1L128.9 48.5L129.3 50M130.7 46.6L130.3 48.2L130.2 49.8M123.8 47.5L123.7 49.1L124.1 50L124.1 51M120.7 48.2L122.1 47.7L122.5 48.5L121.8 49.5M118.6 45.5L119.7 45.4L120.4 45.6L119.7 45.7L118.6 45.8M118.7 46.2L120.4 46L121.8 46.3M119.7 47.1L120.4 46.6L120.4 46M133.7 50.8L134.1 49.7L135.1 49.6L135.9 48.5L136.8 47.1L137 46.2L137.3 46M137.3 46L137.5 47.7L136.9 47.8L137.8 49.1L137.2 50L137.3 50.9L138.2 52.3M134.4 52.2L136.5 52.3L138.2 52.3M135.2 55.9L135.6 55L137.2 54.8L136.9 52.8L136.5 52.3M135.9 57.1L136.9 56.5L138.1 55.7L139.1 53.9L139.7 51.5L139.6 50.9L140.2 50.6L142 51.2L143.5 50.6L144.9 50.6M137.8 49.1L139.6 48.8L141.1 47.9L142 47.1L142.6 48.2L143.2 48.5L144.9 50.6M143.2 48.5L144.1 47.5L145.3 48L147 47.8L148.2 47.2L148.4 46.5L148.8 47.9L148.2 49L150 50.9M144.9 50.6L146.4 51.3L147 51.5L148.8 51.1L150 50.9M150.3 45.1L150.1 46.2L149.4 47.2L148.8 47.9M150.3 45.1L151.2 44.8L152.4 45L153.8 46.2L154.2 46M154.2 46.8L154.1 47.1L154.8 48.2L156.6 48.8L157.2 48.8L155.4 50.6L153.6 51.1L153 51.3M150 50.9L150.3 51L151.2 51.5L152.1 51.5L153 51.3L153 54.1L153.3 54.6M148.8 54.2L151 55.4L151.9 56.4M147 51.5L147.2 52.3L146.3 53.1L146.2 54.4L146.7 54.3L148.8 54.2L148.8 53.5L149.4 52.5L148.8 51.1M146.2 54.4L145.9 55.2L146 56.2L146.9 55.6L146.9 55L146.7 54.3M146 56.2L146.3 57.5L146.9 58.5L148.2 59.2L148.8 59.3L149.2 60.4L151.1 60.4L152.6 59.8M148.2 59.2L148.4 61L148.1 61.7L149.1 62.2L149.9 63.1L149.5 63.8L149.1 63.1L149.1 62.2M146.9 58.5L145.6 58.7L145.6 60.1L145.9 61.6L144.8 60.6L143.7 60.4L142.9 60.1L142.9 61.3L141.7 61.3L141.7 63.2L142.5 64.1L143.7 64.2L144.7 64.3L145.8 63.1L146.7 62.9L146.6 62.4L148.4 61.9M135.9 57.1L136.3 57.1L138.5 57.1L139.1 58.4L140.1 58.4L141.6 57.9L141.7 60.1L142.9 60.1M135.6 63.9L136.9 64L139.6 64L141.1 64.3L142.5 64.1M141.1 64.3L141.1 66.7L140.5 66.7L140.5 70.5L138.7 70.3L138.4 70.6M143.7 64.2L144.2 65.3L145.1 66.2L146.1 66.8L144.7 67.6L143.8 68.8L142.3 68.7L141 69.5L140.5 68.4M144.7 64.3L146.7 62.9L148.2 63.5L148.1 65.2L147.9 66.3L147.2 66.9L146.1 66.8M147.2 66.9L147.6 68.2L147.6 69L147.7 69.5L148.2 69.6M144.7 71.2L145.4 70.7L146.1 71.1L145.5 71.8L144.9 71.6L144.7 71.2M147 69.1L147.6 69.1L147.7 69.5L147.2 69.8L146.9 69.5L147 69.1M150 31.8L151.2 31.7L153.8 31.5L155.3 31.5L154.9 30.2L154.5 29.1L153.3 28.9M153.8 31.5L153 33.1L151.7 33.7L151.9 34.4L153.6 35.1L155.2 36.2L156.3 36.3L157.2 35.8L157.5 35.8M155.3 31.5L156 32.3L155.7 33.4L157 34.7L157.2 35.8M149.9 33.8L150.5 34.4L151.7 33.7M149.4 36.1L150 36.2L150.9 35.8L151.2 34.9L150.6 34.9L151.9 34.4M154.1 43.8L154.8 43.2L156.6 43.5L157.8 42.5L159.5 42.3L160.2 43.7M159.5 42.3L161.3 41.7L161.7 40.5L161.4 40.1L162.1 38.8M159.3 39.2L159.9 40L161.4 40.1M165.2 38.6L166.2 37.4L164.9 35.9L164.8 33.7L165 32.4L164.6 31.8L162.6 30.9L160.7 31.3M164.9 35.9L168 35.8L169.8 34.6L170.2 33.4L171.1 31.9L173.2 31.5M165 32.4L167 32L168.2 31.3L170 31.3L171.2 30.8L171.1 31.7L173.2 31.5M169.2 39.4L170.8 39L170 37.5L171.7 36.3L172.9 35.2L172.7 34L174.9 32.5L173.2 31.5M174.9 32.5L175.6 34.3L176.8 35.6L176.3 36.5M176.3 36.5L178 37.2L181 37.9L181 37L179.5 36.8L177.4 35.6L176.8 35.6M181.5 37.4L182 37.7L183.3 37.7L183.2 37.1L182.1 36.8L181.5 37.4M181 37L181.5 37.4M183.2 37.1L184.8 36.2L185.8 36.1L186.5 36.8M181 37.9L181.1 39L181.6 40.5L183.5 41.2L183.5 39.5L182.9 39.3L183.6 38.7L182 38.5L182 37.9L181 37.9M183.5 41.2L184.1 39.3L185.1 37.8L186.5 36.8L187.3 37.2L187.3 38.7L186.7 39.3L187.8 40L188.8 40.8L188.2 41.5L186.9 41.9L186.8 42.9L187.3 43.9L187 44.7L187.6 46.2L187.3 47.5M188.8 40.8L189.3 40.3L189.9 41.1L190.8 41.5L190.4 42.1L191.5 43.1L192.6 44.7L192.6 45L191.7 45.1L191.2 45.1L191.4 44.3L190.9 43.2L189.3 42.8L188.7 43.2L188.8 42L188.2 41.5M191.2 45.1L189.6 45.2L189.8 46.6M192.6 45L192.6 46.3L191.6 46.7L190.8 47.4M189.3 40.3L191 40L192.1 40L192.9 40.8M188.2 49.8L188.8 50.2L189.3 49.9M193.8 52.4L195.1 53L196.7 52.8L197.5 51L198.5 51.1M212.5 55.1L212.5 59M180.8 24.3L182.7 26.7L185.4 27.3L186 28.2L189 28.3L191.1 28.8L194.1 28.2L195.2 27.6L195.1 26.8L197.4 26.6L198 26.1L199.9 25.8L198.7 25.2L197.3 25.1L198 24M180.8 24.3L183.3 23.4L186.9 23.9L187.1 22.8L189.4 23.1L189.5 23.6L192.3 23.9L196.6 23.7L198 24M198 24L199.9 22.7L200.5 21.9L202.1 21.8L203.6 22.3L204.5 24L206.4 24.5L206.3 25.2L208.7 24.8L207.8 26.8L206.7 26.9L206.7 27.7L206.4 28.3M202.6 29.8L204.1 28.7L204.9 29L205.8 28.4L206.4 28.3M203.6 31.2L205 30.6M157.8 25.9L157.2 25.2L156.3 24.8L156.6 24.3L156.6 23.7L159.2 23L161.3 23.4L163.5 23.3L165.2 23.3L165.2 21.8L167.9 21.1L169.7 20.7L170.8 21.4L172.3 21.8L174.1 21.4L176.2 23.3L178.3 23.3L179.5 24.1L180.5 24.3L180.8 24.3M180.5 24.3L179.6 25.5L178 25.5L177.6 26.5L176.1 26.9L176.4 28.5L175.3 28.9L174.4 29.2L172.5 30.1L172.5 30.6L173.2 31.5M159.8 28.7L161.9 29L161.9 26.8L163.5 26.5L164.9 27.2L166.7 27.7L167.9 28.4L168.2 29.1L169.7 29L170.8 28.5L172.3 28.3L172.8 27.9L174.4 28.1L176.4 28.5M160.1 28.7L161.1 28.6L161.9 29L162.5 29L163.5 28.2L164.3 28.5L165.4 29.1L167 30.5L168.2 31.3M168.2 29.1L169.1 29.7L170.5 29.7L170.6 30L168.7 30.2L169.3 30.9L169.1 31.6M170.6 30L172.5 30.1M170.8 28.5L170.4 29L172 29.3L171.2 29.7L170.5 29.7M145.3 17.6L145 19.4L145.4 20.2L147 20.9L147 22.1L147.9 22.5L149 22.8L149.7 23.6L151.2 23.9L152.4 24.1L152.2 25.2L151.3 25.6M152.4 27.7L154.2 28.3L156.3 28.7L157.5 28.7M156.3 28.7L155.4 29.1L154.5 29.1L155.3 30L156.3 30.5L157.7 30.8M123.4 28.7L124.9 28.8L124.4 30L124.2 31.5M127.5 27.8L129 28.2L130.5 28.4M130.1 23.2L131.1 23.9L132.3 24.1L133.5 24.4L133.1 25.3L132.2 26.1L132.8 26.3L132.5 26.8L133.1 27.5M132.8 21.9L132.8 22.7L132.2 23.3L132.3 24.1M133.1 25.3L134.3 25.3L134.8 25.7L135.8 25.6L136.8 25.9L138.2 25.7L138.8 25L137.5 24.4L136.3 24.7L136.3 25.3L134.7 25.4M132.8 26.3L133.7 26L134.8 25.7M137 21.5L137.3 23.3L135.9 23.7L136.8 24.6M137.3 23.3L138.7 23.7L139.9 24.1L142 24.4L142.9 23.4L142.6 22.3L142.6 21.5L140.4 21.2M138.7 24.6L139.8 24.1L142 24.4L141.8 24.8L139.8 25.2L138.8 25M141.8 24.8L141.1 26.1L140.7 26.2L139.8 26.3L138.4 25.9M141.8 24.8L143.4 25.2L144.4 24.9L145.4 25.9L145.4 26.5L146.3 26.7M142.1 27.3L143.8 27.6L144.8 27.4L145.6 27.6M136.8 26.5L137.7 26.5L138.4 25.9M139.8 26.3L139.9 26.9L140.2 27.7L140.7 28.1L141.6 28.4L141.9 28.4L142.1 27.3L141.3 26.9L140.7 26.2M140.5 30L141.1 29.3L142.3 29L144.1 29L144.3 28.8L145.3 28.6M142.6 22.9L145 23L146.7 23.1L147.5 22.6M142.9 23.4L142 24.4M141.1 20.2L143.5 20.1L144.4 20.5L145.4 20.2M143.1 19.1L144.1 19.2L145 19.4M142.6 21.5L143.8 21.3L144.4 20.5M135.4 18.5L136 17.3L135.9 16.7M133.7 31.6L133.5 33.1L133.1 33.5L134 34.6L134.3 35.6L135.4 33.8M86.2 46.6L85.3 47.9L85.8 49.4L88.4 49.9L88.6 52.4L88.8 52.9M88.8 52.9L90.5 52.4L90.2 51.2L92.5 50.5M92.9 48.5L92.1 50L92.5 50.5L93 52.8L94.1 52.7L95 52.5M94.6 50.1L94.5 51.6L95 52.5L96.5 52.3L96.2 50.3M96.5 52.3L97.4 52.3L97.8 51.2M88.8 52.9L86.9 53.6L87 56.1M81.7 52.8L83.7 53.6L83.9 53.7L85.2 55L86.9 55.2L87 56.1M80.8 55.6L81.6 56.6L82 55.6L83.7 54.5L83.9 53.7M87 56.1L85.2 56.9L84.6 58.1L85.3 59.3L86.7 59.3L86.6 60.1L87.2 60.1M87.2 60.1L87.7 61L87.5 62.8L87.2 64L88 64.9L88.7 67.2L89.9 66.7L91.4 66.9L91.7 65.5L94 65.4L94.4 64.3L92.9 63.2L92.6 61.8L89.9 60.7L89.7 59.4L87.2 60.1M88.7 67.2L87.8 69.4L86.9 71.5L86.9 73.8L86.4 76.2L85.9 78.6L85.9 81L85.3 83.3L85.8 84.5L87.8 84.8M91.4 66.9L93.8 69.8L95.3 69.8L96.1 68.8L96.3 67.9L95.4 66.9L94.1 66.7L94 65.4M94 73.4L94.3 71.6L95.6 72L96.8 73.7M94.3 71.6L95.3 70.5L96.6 69.7L96.1 68.8" fill="none" stroke="#3d3d3d" stroke-width="0.3" stroke-opacity="0.7" stroke-linejoin="round"/>
<path d="M39.3 17.5V90.4M69.1 17.5V90.4M98.8 17.5V90.4M128.6 17.5V90.4M158.3 17.5V90.4M188.1 17.5V90.4M217.8 17.5V90.4M21.5 29.8H235.8M21.5 41.7H235.8M21.5 53.6H235.8M21.5 65.5H235.8M21.5 77.4H235.8" fill="none" stroke="#888" stroke-opacity="0.3" stroke-width="0.35" stroke-dasharray="0.5 0.9"/>
</g>
<rect x="21.5" y="17.5" width="214.3" height="72.9" fill="none" stroke="#222" stroke-width="0.6"/>
<g clip-path="url(#cpb)">
<rect x="259" y="20" width="219" height="68" fill="#f72735"/>
<path d="M309.6 18.4C321.4 16.5 370.5 16.5 383.3 18.4C396.2 20.3 386.9 26.4 386.5 29.6C386.1 32.8 383.6 36 380.9 37.6C378.3 39.3 373.9 39.3 370.5 39.6C367.2 39.8 363.6 38.6 360.9 38.9C358.2 39.3 356.1 40.2 354.5 41.6C352.9 43.1 353.7 46.3 351.3 47.6C348.9 48.8 343.8 49.2 340.1 49.2C336.3 49.2 332.1 47.7 328.8 47.6C325.6 47.5 322.8 49.1 320.8 48.5C318.8 47.9 317.6 45.9 316.8 44C316 42.2 316.7 40 316 37.6C315.4 35.2 313.9 32.8 312.8 29.6C311.8 26.4 297.9 20.3 309.6 18.4Z" fill="#d8152f" />
<path d="M334.5 54.5C335.5 53.1 339.8 52.5 341.7 52.9C343.5 53.3 345.7 55.3 345.7 56.9C345.7 58.4 343.3 61.3 341.7 62C340 62.7 336.8 62.1 335.6 60.9C334.4 59.6 333.4 55.8 334.5 54.5Z" fill="#d8152f" />
<path d="M417.9 17.7C425.4 15.7 459.1 15.7 465.5 17.7C471.9 19.6 459.3 25.6 456.2 29.3C453.1 33 450.4 36.8 446.9 39.7C443.4 42.6 439.2 44.6 435.3 46.7C431.4 48.7 426.1 52.6 423.7 52C421.3 51.4 421 45.8 420.9 43.2C420.8 40.6 423.3 38.6 423.2 36.2C423.1 33.9 421.1 32.4 420.2 29.3C419.3 26.2 410.4 19.6 417.9 17.7Z" fill="#d8152f" />
<path d="M318.4 28.8C320.2 27.9 327.5 27.2 329.6 28C331.8 28.8 332.2 32.3 331.2 33.6C330.3 35 326.1 36 324 36C322 36 319.8 34.8 318.9 33.6C318 32.4 316.6 29.7 318.4 28.8Z" fill="#f72735" />
<path d="M331.2 44C334.7 42.7 343.7 41.1 346.5 42.4C349.3 43.8 348.6 49.4 348.1 52.1C347.5 54.7 345.7 57.5 343.3 58.5C340.9 59.4 336.9 57.1 333.7 57.7C330.4 58.2 326 62.2 324 61.7C322 61.1 321.4 56.3 321.6 54.5C321.9 52.6 324 52.2 325.6 50.4C327.2 48.7 327.8 45.4 331.2 44Z" fill="#f72735" />
<path d="M355.3 40.8C357.3 38.4 363.4 37.9 367.3 37.6C371.2 37.4 376.4 37.6 378.5 39.2C380.6 40.8 381.8 45.1 380 47.2C378.1 49.4 370.5 50.2 367.3 52.1C364.1 53.9 362.9 58.5 360.9 58.5C358.9 58.5 356.2 55 355.3 52.1C354.4 49.1 353.3 43.2 355.3 40.8Z" fill="#f72735" />
<path d="M332.1 30.4C333 29.4 337.8 29.1 339.3 29.9C340.7 30.7 341.1 33.9 340.9 35.2C340.6 36.6 338.9 37.8 337.7 37.9C336.4 38.1 334.3 37.3 333.3 36C332.4 34.8 331.1 31.4 332.1 30.4Z" fill="#a50021" />
<path d="M276.9 15.6C272.1 17.9 274.1 25.5 272.6 29C271.1 32.5 269.6 33.9 267.8 36.6C266.1 39.3 264.3 42.7 262.1 45.2C259.9 47.7 255.6 43.5 254.4 51.6C253.3 59.7 248 86.7 255.2 93.8C262.3 101 289.1 95.6 297.4 94.6C305.6 93.5 302.2 89.2 304.5 87.6C306.9 86 308.9 86.2 311.3 84.7C313.8 83.2 316.9 81.2 319 78.7C321.1 76.2 323.2 72.8 324 69.7C324.9 66.5 324.4 62.7 324.1 59.7C323.8 56.6 322.7 54.1 322 51.4C321.3 48.6 320.9 45.7 319.9 43.1C319 40.5 317.7 38.1 316.2 35.7C314.7 33.2 312.7 30.6 311.1 28.4C309.4 26.2 307.7 24.7 306.2 22.6C304.6 20.4 306.5 16.6 301.6 15.5C296.7 14.3 281.7 13.4 276.9 15.6Z" fill="#d8152f" />
<path d="M278 18C273.7 20 276.3 26.7 275 30C273.7 33.3 271.8 35.2 270 38C268.2 40.8 266.2 44.7 264 47C261.8 49.3 258.2 44.5 257 52C255.8 59.5 250.3 85.3 257 92C263.7 98.7 289.3 93.1 297 92C304.7 90.9 300.8 87.1 303 85.5C305.2 83.9 307.7 83.9 310 82.5C312.3 81.1 315.1 79.2 317 77C318.9 74.8 320.8 71.8 321.5 69C322.2 66.2 321.8 62.8 321.5 60C321.2 57.2 320.2 54.7 319.5 52C318.8 49.3 318.4 46.5 317.5 44C316.6 41.5 315.4 39.3 314 37C312.6 34.7 310.7 32.2 309 30C307.3 27.8 305.3 26 304 24C302.7 22 305.3 19 301 18C296.7 17 282.3 16 278 18Z" fill="#a50021" />
<path d="M388.5 60.4C390.1 58.4 397.8 56.8 402.1 55.3C406.3 53.9 409.9 53 413.7 51.8C417.6 50.7 421.7 49.7 425.1 48.4C428.5 47.1 431.1 45.6 434.1 43.9C437.1 42.2 440.5 40.4 443.1 38.3C445.7 36.2 447.1 33.2 449.8 31.6C452.5 29.9 457.6 30.8 459.3 28.3C461.1 25.8 456.7 18.3 460.5 16.6C464.2 14.9 478.1 9 481.7 18C485.2 27 483.6 61.7 481.8 70.6C479.9 79.4 473.8 70.7 470.4 71.3C467 72 465.3 73.6 461.5 74.7C457.7 75.9 451.8 77.3 447.4 78.3C443.1 79.3 439.6 80.2 435.5 80.6C431.5 81 427 81.2 423.3 80.6C419.6 80 417 78.5 413.4 77C409.9 75.4 405.3 72.7 401.8 71.2C398.3 69.6 394.6 69.4 392.4 67.6C390.2 65.8 386.9 62.5 388.5 60.4Z" fill="#d8152f" />
<path d="M396 64C395 66.7 401 71.3 404 74C407 76.7 409.7 78.3 414 80C418.3 81.7 424.3 83.3 430 84C435.7 84.7 442.7 84.2 448 84C453.3 83.8 458.3 83.2 462 82.5C465.7 81.8 467.3 81.1 470 80C472.7 78.9 476.7 78.3 478 76C479.3 73.7 484.3 68.7 478 66C471.7 63.3 451.3 61.3 440 60C428.7 58.7 417.3 57.3 410 58C402.7 58.7 397 61.3 396 64Z" fill="#d8152f" />
<path d="M390 62.2C391.6 60.9 398.7 58.9 402.8 57.6C406.9 56.2 410.5 55.3 414.4 54.1C418.3 53 422.5 52 426 50.6C429.5 49.3 432.2 47.7 435.3 46C438.4 44.3 441.9 42.3 444.6 40.2C447.3 38.1 449.4 35.4 451.5 33.2C453.7 31 455.7 29.4 457.3 27C459 24.6 457.6 20.2 461.3 18.8C465 17.5 476.4 10.3 479.4 18.8C482.4 27.4 480.9 61.8 479.4 70.1C477.8 78.5 473.2 68.6 470.1 69C467 69.4 464.7 71.3 460.8 72.4C457 73.6 451.2 75 446.9 75.9C442.6 76.9 439.2 77.9 435.3 78.3C431.4 78.6 427.2 78.8 423.7 78.3C420.2 77.7 417.9 76.3 414.4 74.8C410.9 73.2 406.3 70.5 402.8 69C399.3 67.4 395.7 66.6 393.5 65.5C391.4 64.4 388.5 63.6 390 62.2Z" fill="#a50021" />
<path d="M444.6 89.6C440.7 88.2 452.3 82.9 456.2 80.8C460.1 78.7 463.9 77.9 467.8 76.9C471.7 75.8 477.5 72.4 479.4 74.5C481.3 76.7 485.2 87.1 479.4 89.6C473.6 92.1 448.5 91.1 444.6 89.6Z" fill="#f72735" />
<path d="M453.9 89.6C451.2 88.4 460.2 83.9 463.1 82.2C466.1 80.5 468.6 80.1 471.3 79.4C474 78.7 478 76.3 479.4 78C480.7 79.7 483.6 87.7 479.4 89.6C475.1 91.6 456.6 90.9 453.9 89.6Z" fill="#ff3d3d" />
<path d="M462 89.6C460.1 88.7 465.9 85.1 467.8 83.8C469.7 82.5 471.7 82.2 473.6 81.7C475.5 81.2 478.4 79.5 479.4 80.8C480.4 82.1 482.3 88.2 479.4 89.6C476.5 91.1 463.9 90.6 462 89.6Z" fill="#ff7856" />
<path d="M467.8 89.6C466.4 88.8 470 86.1 471.3 85C472.5 83.9 473.9 83.5 475.2 83.1C476.6 82.7 478.7 81.6 479.4 82.7C480.1 83.7 481.3 88.5 479.4 89.6C477.5 90.8 469.1 90.4 467.8 89.6Z" fill="#ffac75" />
<path d="M365.7 74.5C367.6 71.8 373.8 73 377.3 73.4C380.8 73.8 384.6 74.2 386.6 76.9C388.5 79.6 392.4 87.5 388.9 89.6C385.4 91.7 369.5 92.1 365.7 89.6C361.8 87.1 363.7 77.2 365.7 74.5Z" fill="#ff3d3d" />
<path d="M357.6 62.1C357.9 59.8 359 53.9 360.8 50.8C362.7 47.8 365.6 45.5 368.8 43.6C372.1 41.8 376.1 40.7 380.1 39.6C384.1 38.5 388.9 38 392.9 37.2C396.9 36.4 400.6 35.3 404.1 34.8C407.6 34.3 411.3 33.7 413.7 34C416.1 34.3 418.3 35.2 418.5 36.4C418.8 37.6 417.2 39.9 415.3 41.2C413.5 42.6 409.7 43.4 407.3 44.4C404.9 45.5 403 46.3 400.9 47.6C398.8 49 396.6 50.7 394.5 52.4C392.4 54.2 390.2 56.3 388.1 58C385.9 59.8 383.8 61.5 381.7 62.9C379.5 64.2 377.9 65.5 375.3 66.1C372.6 66.6 368.3 66.3 365.6 66.1C363 65.8 360.6 65.1 359.2 64.5C357.9 63.8 357.4 64.3 357.6 62.1Z" fill="#ff3d3d" />
<path d="M360.5 61.7C360.8 59.8 361.6 54.8 363.2 52.1C364.9 49.4 367.6 47.4 370.4 45.7C373.3 44 376.5 43 380.1 41.9C383.7 40.7 388.2 39.9 392.1 39C396 38.1 400 37.1 403.3 36.4C406.6 35.8 410 35.1 412.1 35.1C414.2 35.2 415.8 35.8 416 36.7C416.1 37.7 414.7 39.7 413.1 40.9C411.4 42.1 408.3 43 406 44.1C403.8 45.2 401.7 46 399.6 47.3C397.6 48.6 395.7 50.1 393.7 51.8C391.7 53.5 389.8 55.5 387.8 57.2C385.7 59 383.5 60.7 381.3 62.1C379.2 63.4 377.5 64.7 375.1 65.3C372.7 65.8 369.2 65.5 366.9 65.3C364.7 65 362.7 64.6 361.6 64C360.6 63.4 360.2 63.7 360.5 61.7Z" fill="#ff7856" />
<path d="M362.4 61.2C362.7 59.4 363.5 55.1 365 52.8C366.5 50.4 368.9 48.6 371.4 47C373.9 45.4 376.8 44.3 380.1 43.1C383.3 42 387.4 41.1 391 40.1C394.6 39.1 398.4 37.9 401.7 37.2C405 36.5 408.5 36 410.5 35.9C412.6 35.9 413.9 36.3 414 37.1C414.2 37.8 413 39.4 411.5 40.6C409.9 41.8 406.9 43 404.7 44.1C402.6 45.2 400.3 46.1 398.3 47.3C396.4 48.5 394.7 49.8 392.9 51.3C391.1 52.9 389.4 54.9 387.4 56.6C385.5 58.3 383.3 60.2 381.2 61.6C379.1 62.9 377.2 64.2 374.9 64.8C372.7 65.3 369.8 65 367.9 64.8C366 64.6 364.3 64.2 363.4 63.7C362.5 63.1 362.2 63.1 362.4 61.2Z" fill="#ffac75" />
<path d="M364 60.8C364.3 59.1 365.1 55.5 366.4 53.4C367.8 51.3 369.8 49.6 372.1 48.1C374.3 46.6 377.1 45.6 380.1 44.4C383.1 43.2 386.7 42.1 390 41.1C393.3 40 397 38.8 400.1 38C403.2 37.2 406.5 36.5 408.6 36.4C410.6 36.3 412.2 36.7 412.4 37.4C412.6 38.1 411.4 39.4 409.9 40.6C408.4 41.7 405.7 43 403.5 44.3C401.2 45.5 398.5 46.7 396.4 47.9C394.3 49.2 392.5 50.5 391 51.8C389.4 53.1 388.6 54.4 387 56C385.3 57.5 383 59.7 381 61.1C379 62.5 377 63.8 374.9 64.3C372.9 64.8 370.2 64.5 368.5 64.3C366.8 64.1 365.6 63.8 364.8 63.2C364.1 62.6 363.8 62.4 364 60.8Z" fill="#ffd699" />
<path d="M365.6 60.4C365.9 59 366.5 55.9 367.7 54C368.9 52.2 370.8 50.6 372.9 49.2C374.9 47.8 377.3 46.9 380.1 45.7C382.9 44.5 386.5 43.3 389.7 42.2C392.9 41.1 396.4 39.8 399.3 39C402.2 38.1 405.3 37.2 407.3 37.1C409.3 36.9 410.9 37.3 411.2 37.9C411.4 38.4 410.1 39.5 408.6 40.6C407.1 41.7 404.4 43.1 402.2 44.4C399.9 45.8 397.3 47.3 395.1 48.8C393 50.2 390.8 51.8 389.4 52.9C387.9 54 388.1 54.1 386.6 55.3C385.2 56.6 382.8 59 380.9 60.4C378.9 61.9 376.8 63.3 374.8 63.8C372.8 64.4 370.4 64 369 63.8C367.6 63.6 366.7 63.3 366.1 62.7C365.6 62.1 365.4 61.9 365.6 60.4Z" fill="#fff1bc" />
<path d="M366.9 60C367.2 58.7 368 56 369.2 54.4C370.3 52.7 371.8 51.4 373.7 50.2C375.5 49 377.5 48.1 380.1 47C382.6 45.9 385.9 44.6 388.9 43.5C391.8 42.3 395.2 41.1 397.7 40.3C400.2 39.4 402.5 38.7 404.1 38.3C405.7 38 407.2 37.9 407.3 38.3C407.4 38.8 406.2 40.3 404.9 41.2C403.6 42.2 401.5 42.9 399.6 44.1C397.7 45.3 395.6 47 393.7 48.6C391.8 50.1 390.3 51.5 388.1 53.4C385.9 55.3 382.8 58.3 380.5 60C378.3 61.7 376.5 62.9 374.6 63.5C372.7 64.1 370.6 63.7 369.3 63.5C368.1 63.3 367.6 62.6 367.2 62.1C366.8 61.5 366.6 61.2 366.9 60Z" fill="#ffffea" />
<path d="M368 59.6C368.4 58.1 370 55.8 372.1 54C374.1 52.3 377.4 50.7 380.1 49.2C382.7 47.8 385.4 46.4 388.1 45.2C390.7 44 393.8 42.9 396.1 42C398.3 41.1 400.9 39.7 401.5 39.9C402.2 40.2 401.4 42.2 399.9 43.6C398.5 45 395.1 46.7 392.9 48.4C390.6 50.2 388.6 52.2 386.5 54C384.3 55.9 382.1 58.1 380.1 59.6C378.1 61.2 376.2 62.6 374.5 63.2C372.7 63.8 370.7 63.8 369.6 63.2C368.6 62.6 367.6 61.2 368 59.6Z" fill="#eaffff" />
<path d="M370.1 59C371.1 57.9 374.1 56.1 376.5 54.7C379 53.3 382.8 51.4 384.9 50.5C386.9 49.7 388.5 49 388.7 49.6C388.9 50.1 387.6 52.6 386.2 54C384.7 55.5 382 56.9 380.1 58.2C378.1 59.5 376.1 61 374.5 61.6C372.9 62.1 371.2 62 370.4 61.6C369.7 61.1 369.1 60.2 370.1 59Z" fill="#bcf9ff" />
<path d="M371.4 59.2C372.2 58.4 374.5 57.2 376.1 56.4C377.6 55.6 380.5 54.1 380.9 54.4C381.3 54.6 379.6 57 378.5 58C377.3 59.1 375.1 60.3 374 60.8C372.8 61.2 372 61 371.6 60.8C371.1 60.5 370.7 59.9 371.4 59.2Z" fill="#99eaff" />
<path d="M337.5 65C338.5 63.6 341.7 62.5 343.3 62.8C344.9 63.1 346 65.5 347.3 66.8C348.6 68.1 350 69.4 351.2 70.7C352.4 72 353.5 73.5 354.5 74.7C355.6 75.9 356.2 76.7 357.2 77.9C358.3 79 360.2 79.8 360.7 81.5C361.2 83.3 364.1 87.2 360.5 88.4C356.8 89.5 342.5 89.6 338.8 88.4C335.2 87.2 338.5 83 338.4 81.2C338.2 79.3 338.3 78.9 338.1 77.3C337.9 75.7 337.4 73.6 337.3 71.6C337.1 69.5 336.5 66.5 337.5 65Z" fill="#ff3d3d" />
<path d="M337.9 65.2C338.8 63.8 341.6 63 343 63.4C344.5 63.7 345.6 65.9 346.9 67.2C348.2 68.5 349.6 69.8 350.8 71.1C352 72.4 353.1 73.8 354.1 75C355.1 76.2 355.8 77.1 356.8 78.3C357.9 79.4 359.7 80.2 360.3 81.8C360.9 83.5 363.9 87.1 360.4 88.1C356.8 89.1 342.5 89.2 338.9 88.1C335.3 86.9 338.9 83 338.8 81.2C338.8 79.4 338.7 78.8 338.5 77.2C338.3 75.6 337.8 73.6 337.7 71.6C337.6 69.6 337 66.6 337.9 65.2Z" fill="#ff7856" />
<path d="M338.4 65.4C339.2 64.1 341.4 63.5 342.8 63.9C344.1 64.2 345.2 66.3 346.5 67.6C347.7 68.8 349.2 70.2 350.4 71.5C351.6 72.8 352.7 74.2 353.7 75.4C354.7 76.6 355.4 77.5 356.4 78.6C357.4 79.8 359.2 80.6 359.8 82.1C360.5 83.7 363.8 86.9 360.3 87.8C356.9 88.7 342.5 88.9 339 87.8C335.5 86.7 339.3 83 339.3 81.3C339.3 79.5 339.1 78.8 339 77.2C338.8 75.5 338.2 73.5 338.1 71.6C338 69.6 337.6 66.7 338.4 65.4Z" fill="#ffac75" />
<path d="M338.9 65.6C339.5 64.4 341.3 64 342.5 64.4C343.7 64.8 344.8 66.7 346.1 68C347.3 69.2 348.8 70.6 350 71.9C351.2 73.1 352.3 74.6 353.3 75.7C354.3 76.9 355 77.9 356 79C357 80.1 358.7 81 359.4 82.4C360.1 83.9 363.7 86.7 360.3 87.5C356.9 88.3 342.5 88.5 339.1 87.5C335.7 86.5 339.7 83 339.8 81.3C339.8 79.6 339.6 78.7 339.4 77.1C339.2 75.5 338.7 73.5 338.6 71.5C338.5 69.6 338.2 66.8 338.9 65.6Z" fill="#ffd699" />
<path d="M339.3 65.8C339.9 64.7 341.2 64.5 342.3 64.9C343.3 65.4 344.5 67.1 345.7 68.4C346.9 69.6 348.4 70.9 349.6 72.2C350.8 73.5 351.9 74.9 352.9 76.1C353.9 77.3 354.6 78.3 355.6 79.4C356.6 80.5 358.2 81.4 358.9 82.7C359.7 84.1 363.5 86.5 360.2 87.2C356.9 87.9 342.5 88.2 339.2 87.2C335.8 86.2 340.1 83 340.2 81.4C340.3 79.7 340 78.7 339.8 77.1C339.6 75.4 339.1 73.4 339 71.5C338.9 69.6 338.8 66.9 339.3 65.8Z" fill="#fff1bc" />
<path d="M339.8 66C340.2 65 341.1 65 342 65.5C342.9 65.9 344.1 67.6 345.3 68.8C346.5 69.9 348 71.3 349.2 72.6C350.3 73.9 351.4 75.3 352.5 76.5C353.5 77.6 354.2 78.7 355.2 79.8C356.2 80.9 357.7 81.9 358.5 83.1C359.3 84.2 363.4 86.3 360.2 86.9C356.9 87.5 342.5 87.8 339.3 86.9C336 86 340.5 83.1 340.7 81.4C340.8 79.8 340.4 78.7 340.2 77C340 75.4 339.5 73.3 339.5 71.5C339.4 69.7 339.4 67 339.8 66Z" fill="#eaffff" />
<path d="M340.5 67.7C340.7 66.9 341.4 66.9 342.2 67.3C343.1 67.8 344.3 69.2 345.5 70.4C346.7 71.6 348.2 73.1 349.3 74.4C350.4 75.6 351.3 77 352.1 78.1C353 79.2 354.2 80.2 354.3 81.2C354.5 82.1 354.1 83.4 353 83.8C351.9 84.3 349.1 84.2 347.5 83.8C345.9 83.4 344.6 82.5 343.7 81.4C342.7 80.3 342.3 78.6 341.8 77C341.3 75.4 340.9 73.6 340.7 72.1C340.5 70.5 340.2 68.4 340.5 67.7Z" fill="#bcf9ff" />
<path d="M341.1 68.8C341.4 68.3 342.2 68.4 343.1 69.1C344 69.7 345.3 71.3 346.4 72.6C347.5 73.9 349 75.5 349.9 76.8C350.8 78.1 351.9 79.5 351.9 80.5C351.9 81.5 350.8 82.7 349.9 82.9C349 83.2 347.4 82.7 346.4 82C345.4 81.2 344.6 79.8 344 78.7C343.3 77.5 342.9 76 342.4 74.8C342 73.6 341.6 72.5 341.3 71.5C341.1 70.5 340.8 69.2 341.1 68.8Z" fill="#99eaff" />
<path d="M341.8 70.4C341.9 69.8 342.7 70.3 343.5 70.8C344.3 71.4 345.6 72.8 346.6 73.9C347.7 75.1 349.2 76.5 349.9 77.7C350.7 78.8 351.3 79.9 351.2 80.7C351.2 81.5 350.3 82.4 349.5 82.5C348.7 82.6 347.3 82.1 346.4 81.4C345.5 80.7 344.6 79.2 344 78.1C343.3 77 342.9 75.9 342.6 74.6C342.2 73.3 341.6 71 341.8 70.4Z" fill="#75d3ff" />
<path d="M344.4 74.6C344.7 74.2 346.1 75 347 75.7C347.8 76.4 349.1 77.8 349.5 78.7C349.9 79.5 349.8 80.7 349.5 81C349.1 81.3 348 81 347.3 80.5C346.6 80 345.8 79.1 345.3 78.1C344.8 77.1 344.1 75 344.4 74.6Z" fill="#56b0ff" />
<path d="M325.3 89.6C323.4 88.4 326.1 83.8 327.6 82.2C329.2 80.6 332.6 79.9 334.6 79.9C336.6 79.9 338.9 80.6 339.7 82.2C340.5 83.8 341.6 88.4 339.2 89.6C336.8 90.9 327.2 90.9 325.3 89.6Z" fill="#ff7856" />
<path d="M328.8 89.6C327.6 88.6 329.4 84.8 330.4 83.6C331.5 82.4 333.8 82.1 335 82.2C336.3 82.3 337.6 82.8 338.1 84.1C338.5 85.3 339.1 88.7 337.6 89.6C336.1 90.6 330 90.6 328.8 89.6Z" fill="#ffd699" />
<path d="M258.6 11L264.3 16.7L260.1 19.5L261.5 22.4L264.3 24.5L270.1 26.7L264.3 29.6L270.1 28.1L275.8 25.3L278.6 21.7L284.4 21.7L290.1 22.4L295.8 22.8L301.5 25.3L305.8 28.1L308.7 31L313 34.6L318 38.8L318.7 42.4L318.3 46.7L318.7 51L320.8 54.6L323 58.2L326.5 59.6L328.7 61.7L331.6 65.3L333 68.2L335.8 71L338.7 75.3L339.4 75L337.3 71L334.4 66.7L332 63.2L334.4 63.9L335.8 66.7L338.7 69.6L340.1 71.7L343 73.9L345.1 77.5L345.9 80.3L350.1 82.7L355.9 85.3L360.1 85.3L363 86.8L365.9 88.2L370.2 89.6L371.6 90.3L373.4 92.5M377.3 93.2L376.6 89.6L376.9 86.8L373 85.6L369.4 85.6L370.2 82.5L370.9 78.2L367.3 78.2L365.9 81L361.6 82L358.7 80.3L356.6 76.7L356.6 72.5L357.3 68.9L360.1 66.4L363 65.7L367.3 66.4L368.7 65L373 64.9L375.9 65.3L377.7 68.2L379 71L380.2 72.2L381.3 71.7L381.6 69.6L379.7 64.6L381.6 61.7L385.2 58.9L387.9 57.7L387.3 55.3L388 53.9L390.2 51L393 49.6L395.9 48.6L395.2 46.7L400.2 43.9L403.1 46L408.8 43.1L404.5 41.7L403.1 39.6L398.8 38.1L404.5 36.7L411.6 36L415.9 33.8L416.6 31.7L413.1 30.3L408.8 27.4L407.3 24.5L403.8 21.7L398.8 23.8L395.9 21L391.6 19.5L384.5 18.8L384.5 22.4L385.9 26L383 29.6L382.3 34.6L378.7 33.1L378 29.6L373 28.4L368.7 26.7L363.7 26L360.9 23.8L361.6 19.5M411.6 40.1L415.9 41.3L420.2 41.4L420.2 38.8L416.6 36.7L415.2 34.6L413.1 37.4L411.6 40.1M427.4 19.5L431.6 22.4L434.5 22.4L435.9 19.5M374.4 76.7L378.7 75.3L383 75.7L387.3 78.2L389.9 79.3L385.2 79.7L383.7 77.7L378.7 76.3L375.9 77L374.4 76.7M389.6 81.9L392.3 79.9L395.9 79.9L398.2 81.6L395.2 82.2L393 82.5L389.6 81.9M384 82L386.9 82.3L385.2 82.7L384 82M399.9 81.9L402 82L400.9 82.6L399.9 81.9M312.5 35.7L317.2 36.7L319.4 38.8L316.5 38.4L312.5 35.7M364.4 41.3L370.2 38.8L374.4 40.3L374.9 41.7L371.6 41.7L367.3 41.3L364.4 41.3M370.4 48.4L372.3 48.1L373.7 43.9L375.2 42.7L378 43.1L379.5 44.6L377.3 46L376.6 44.1L372.3 42.7L370.4 45.3L370.4 48.4M376.9 48.4L383 47L383 46L386.9 45.6L385.9 46.4L381.6 47.7L376.9 48.4M391.6 92L393.8 90.6L394.5 93.2M474.6 92.5L472 90.3L472 87.5L471 87.2L472.4 84.6L472.8 81L471.7 78.2L473.1 74.6L475.3 71L477.4 68.4L480.3 67L482 65.3M272.9 79.3L274.4 79.9L273.6 81L272.9 80.3L272.9 79.3M252.9 32.7L257.2 31.7L261.5 30.1" fill="none" stroke="#979797" stroke-width="0.7" stroke-linejoin="round"/>
<path d="M320.1 38.1L360.1 38.1L368.7 39.6L375.2 41.7L378 43.4L378 48.1L383 46.7L386.6 45.3L388.8 43.9L393.8 43.9L397.3 40.6L399 41L400.2 43.9M294.4 22.4L294.4 9.5M328.7 61.7L332 61.7L337.3 63.4L341.6 63.2L343.7 62.7L346.6 66L348.7 66.7L350.9 65.6L353.7 68.9L357 71.2M364.2 87.5L365.9 85.3L365.9 82.7L368.7 82.6L369.7 81.7M369.7 85.7L368.3 87.6L370.6 89L371.6 89.6M370.9 89.6L374.4 87.5L377 86.8M477.4 68.6L483.6 68.6L483.6 71L478.8 71L478.8 74.6L477.4 75.3L477.4 77.7L471.7 77.7M482.4 86.2L479.6 86L478.6 87L475.3 84.5L472.4 85.2M482.4 90.8L479.7 90.8L478.6 87M472 88.8L474.6 88.5L476.3 89L474.6 89.3L472 89.5M472.1 90.5L476.4 90L479.7 90.8M476.4 91.5L476.4 90" fill="none" stroke="#979797" stroke-width="0.5" stroke-linejoin="round"/>
<path d="M281.5 22.2V85.3M353 22.2V85.3M424.5 22.2V85.3M261.0 36.7H475.6M261.0 51H475.6M261.0 65.3H475.6M261.0 79.6H475.6" fill="none" stroke="#888" stroke-opacity="0.3" stroke-width="0.35" stroke-dasharray="0.5 0.9"/>
</g>
<rect x="261.0" y="22.2" width="214.6" height="63.1" fill="none" stroke="#222" stroke-width="0.6"/>
<g clip-path="url(#cpc)">
<rect x="20" y="117" width="217" height="166" fill="#ff7856"/>
<path d="M35.4 153.4C35.5 151.4 38 149.4 40.9 148.6C43.8 147.7 49.3 147.7 53 148.1C56.7 148.6 60.9 149.4 62.9 151.2C64.9 153 65.7 156.8 65.1 158.9C64.5 161 61.9 163.1 59.2 164C56.4 164.8 51.8 164.5 48.6 164C45.4 163.4 42.4 162.4 40.2 160.7C38 158.9 35.3 155.4 35.4 153.4Z" fill="#ff3d3d" />
<path d="M44.2 155.6C45 154.3 48.4 152.6 50.8 152.3C53.2 152 57 152.7 58.5 153.8C60 154.9 61 157.6 60 158.9C59.1 160.2 55.4 161.6 53 161.8C50.7 161.9 47.4 161 46 160C44.5 159 43.4 156.9 44.2 155.6Z" fill="#f72735" />
<path d="M88.6 154.5C89.5 152.5 92 150.3 95.2 149.7C98.5 149 104.7 149.8 108 150.8C111.3 151.7 114 153.2 115 155.2C116.1 157.1 115.5 160.6 114.2 162.6C112.8 164.7 110 167.1 107.1 167.7C104.3 168.3 99.8 167.2 97 166.2C94.2 165.1 91.8 163.5 90.4 161.5C89 159.6 87.8 156.5 88.6 154.5Z" fill="#ff3d3d" />
<path d="M20 116C38.3 113.7 112 116 130 116C148 116 124.7 116 128 116C131.3 116 146.5 115.1 150 116C153.5 116.9 150 119.9 148.9 121.5C147.8 123.2 145.8 124.6 143.4 125.9C141 127.2 137.9 128.3 134.6 129.2C131.3 130.1 126.7 131.4 123.4 131.4C120.1 131.4 117.9 130.1 114.6 129.2C111.3 128.3 108.4 126.8 103.6 125.9C98.8 125 92.6 124.3 86 123.9C79.4 123.6 70.6 123.6 64 123.7C57.4 123.8 51.5 124.1 46.4 124.8C41.3 125.5 37.6 127.3 33.2 128.1C28.8 128.9 22.2 131.7 20 129.6C17.8 127.6 1.7 118.3 20 116Z" fill="#ff3d3d" />
<path d="M20 116C22.6 114.2 33.2 115.1 35.4 116C37.6 116.9 34.7 120 33.2 121.5C31.7 123 28.8 124.4 26.6 125.2C24.4 126.1 21.1 128.1 20 126.6C18.9 125 17.4 117.8 20 116Z" fill="#f72735" />
<path d="M125.5 158C126.4 156.8 127.9 156.1 130 155.5C132.1 154.9 135 155.1 138 154.5C141 153.9 144.7 153 148 152C151.3 151 155 149.4 158 148.5C161 147.6 163.5 147 166 146.5C168.5 146 170.7 145.6 173 145.5C175.3 145.4 178.2 145.2 180 146C181.8 146.8 182.8 148.2 183.5 150C184.2 151.8 184.2 154.8 184 157C183.8 159.2 183.2 161.3 182 163C180.8 164.7 179.3 166 177 167C174.7 168 171.7 168.4 168 169C164.3 169.6 159.3 170 155 170.5C150.7 171 145.8 171.7 142 172C138.2 172.3 134.6 173 132 172.5C129.4 172 127.8 170.6 126.5 169C125.2 167.4 124.7 164.8 124.5 163C124.3 161.2 124.6 159.2 125.5 158Z" fill="#ff3d3d" />
<path d="M146 162C147 160.6 152.7 159.7 156 158C159.3 156.3 163.3 153.5 166 152C168.7 150.5 170.2 149.4 172 149C173.8 148.6 175.7 148.7 177 149.5C178.3 150.3 179.8 152.2 180 154C180.2 155.8 179.3 158.3 178 160C176.7 161.7 175 162.9 172 164C169 165.1 163.7 166.1 160 166.5C156.3 166.9 152.3 167.2 150 166.5C147.7 165.8 145 163.4 146 162Z" fill="#f72735" />
<path d="M117 151C118.1 149.3 122.7 150 124 151C125.3 152 125.3 155.2 125 157C124.7 158.8 123.2 161.3 122 162C120.8 162.7 118.3 162.8 117.5 161C116.7 159.2 115.9 152.7 117 151Z" fill="#ffac75" />
<path d="M223.7 168.2C225.7 167.2 234.7 166.2 236.9 168.2C239.1 170.3 238.3 178.7 236.9 180.6C235.6 182.4 230.8 180.3 228.8 179.2C226.8 178.2 225.7 176.2 224.8 174.4C224 172.6 221.7 169.3 223.7 168.2Z" fill="#ff3d3d" />
<path d="M35.8 137.6C35.8 135.4 39.3 132.5 41.4 130.8C43.5 129 44.8 128.2 48.5 127.3C52.2 126.5 58.1 126 63.6 125.6C69.2 125.3 76 125.1 81.6 125.2C87.3 125.2 93.1 125.3 97.8 125.9C102.4 126.5 106.1 127.7 109.7 128.8C113.3 129.9 116.6 131 119.4 132.6C122.2 134.2 125.6 135.8 126.6 138.3C127.7 140.8 127.4 145.4 125.8 147.6C124.3 149.8 120.3 150.8 117.3 151.4C114.3 152 111.6 151.7 107.8 151.4C104.1 151.1 99 150.2 94.6 149.9C90.2 149.5 85.9 149.4 81.5 149.2C77.1 149 72.3 148.8 68.3 148.5C64.2 148.3 60.5 148 57.2 147.7C53.8 147.3 50.7 147.1 48.1 146.5C45.5 146 43.6 145.7 41.6 144.2C39.5 142.7 35.8 139.9 35.8 137.6Z" fill="#ffac75" />
<path d="M37.1 137.9C37.1 136 40.2 133.7 42.2 132.2C44.1 130.7 45.2 129.8 48.8 129C52.4 128.2 58.3 127.7 63.7 127.3C69.2 127 76 126.8 81.6 126.9C87.3 126.9 92.9 127 97.5 127.6C102.1 128.2 105.7 129.3 109.2 130.4C112.8 131.5 116 132.6 118.7 134.1C121.4 135.5 124.4 137.1 125.5 139.3C126.6 141.5 126.5 145.2 125.1 147.1C123.8 149 120 150.1 117.2 150.7C114.3 151.3 111.6 151 107.9 150.7C104.1 150.4 99.1 149.5 94.7 149.2C90.3 148.8 85.9 148.7 81.5 148.5C77.1 148.3 72.3 148.1 68.3 147.8C64.2 147.6 60.6 147.3 57.2 147C53.9 146.6 50.7 146.4 48.2 145.9C45.7 145.3 43.9 144.9 42 143.6C40.2 142.2 37 139.8 37.1 137.9Z" fill="#ffd699" />
<path d="M38.2 138.1C38.3 136.5 41.1 134.8 42.9 133.5C44.8 132.3 45.7 131.3 49.1 130.5C52.6 129.8 58.4 129.3 63.8 128.9C69.2 128.6 76 128.4 81.6 128.5C87.2 128.5 92.8 128.6 97.3 129.2C101.9 129.7 105.3 130.9 108.8 131.9C112.2 133 115.4 134.1 118 135.4C120.6 136.8 123.3 138.3 124.4 140.2C125.5 142.1 125.8 145 124.6 146.6C123.4 148.3 119.8 149.6 117.1 150.2C114.3 150.8 111.7 150.5 107.9 150.2C104.2 149.9 99.1 149 94.7 148.7C90.3 148.3 85.9 148.2 81.5 148C77.1 147.8 72.4 147.6 68.3 147.3C64.3 147.1 60.6 146.8 57.3 146.5C54 146.1 50.8 145.9 48.3 145.4C45.8 144.8 44 144.3 42.4 143.1C40.7 141.8 38.1 139.7 38.2 138.1Z" fill="#fff1bc" />
<path d="M20.6 133C21.8 130.1 25 130.6 27.6 129.5C30.2 128.5 33 127.5 36 126.7C39 125.9 42.1 125.3 45.8 124.9C49.5 124.5 55.4 124.3 58.4 124.3C61.4 124.4 63.1 124.8 64 125.3C65 125.8 66.4 126.7 64 127.1C61.7 127.5 53.5 127.2 50 127.7C46.5 128.2 45.1 129.1 43 130.2C40.9 131.3 38.8 132.8 37.4 134.4C36 136 34.8 138.1 34.6 140C34.4 141.9 35.1 144.3 36 145.6C36.9 146.9 40.2 147.1 40.2 147.7C40.2 148.3 37.9 149.1 36 149.1C34.1 149.1 31.6 148.1 29 147.7C26.4 147.4 22 149.5 20.6 147C19.2 144.6 19.4 135.9 20.6 133Z" fill="#ffac75" />
<path d="M29.7 140C29.6 138.4 30.5 135.9 31.8 134.4C33.1 132.9 35.3 131.9 37.4 130.9C39.5 129.9 41.6 129.1 44.4 128.5C47.2 127.9 50.9 127.6 54.2 127.4C57.5 127.2 62.4 126.9 64 127.1C65.7 127.4 65.9 128.5 64 128.8C62.1 129.1 55.8 128.7 52.8 129.1C49.8 129.4 47.8 130.1 45.8 130.9C43.8 131.7 42.2 132.5 40.9 133.7C39.6 134.9 38.6 136.5 38.1 137.9C37.6 139.3 37.6 140.9 38.1 142.1C38.6 143.3 41 144.3 40.9 144.9C40.8 145.5 38.8 146 37.4 145.9C36 145.8 33.8 145.2 32.5 144.2C31.2 143.2 29.8 141.6 29.7 140Z" fill="#ffd699" />
<path d="M34.3 140C34.4 138.7 35 136.7 36 135.5C37 134.3 38.6 133.6 40.2 132.7C41.8 131.9 43.5 131.1 45.8 130.5C48.1 129.9 51.2 129.4 54.2 129.1C57.2 128.8 62.4 128.6 64 128.8C65.7 129 65.7 130.2 64 130.5C62.4 130.8 57 130.4 54.2 130.6C51.4 130.9 49.1 131.3 47.2 131.9C45.3 132.5 44.1 133.2 43 134.1C41.9 135 41 136 40.5 137.2C40 138.4 39.8 140.2 40.2 141.4C40.6 142.6 43.1 143.6 43 144.2C42.9 144.8 40.7 145.1 39.5 144.9C38.3 144.7 36.6 143.9 35.7 143.1C34.9 142.3 34.3 141.3 34.3 140Z" fill="#fff1bc" />
<path d="M39.4 138.3C39.5 137 42 135.9 43.7 134.9C45.4 133.8 46.1 132.8 49.5 132.1C52.9 131.4 58.6 130.9 63.9 130.5C69.3 130.2 76.1 130 81.6 130.1C87.1 130.1 92.7 130.2 97.1 130.8C101.6 131.3 105 132.4 108.3 133.4C111.7 134.4 114.8 135.5 117.3 136.8C119.8 138.1 122.2 139.5 123.3 141.1C124.4 142.6 125 144.7 124 146.1C122.9 147.5 119.6 149 116.9 149.6C114.3 150.2 111.7 149.9 108 149.6C104.3 149.3 99.2 148.4 94.8 148.1C90.4 147.7 86 147.6 81.6 147.4C77.2 147.2 72.4 147 68.4 146.7C64.3 146.5 60.7 146.2 57.3 145.9C54 145.5 50.9 145.3 48.5 144.8C46 144.2 44.3 143.6 42.7 142.5C41.2 141.4 39.2 139.6 39.4 138.3Z" fill="#ffffea" />
<path d="M40.2 138.4C40.4 137.4 42.6 136.7 44.2 135.8C45.8 134.9 46.4 133.9 49.7 133.2C53 132.5 58.7 132 64 131.6C69.3 131.3 76.1 131.1 81.6 131.2C87.1 131.2 92.6 131.3 97 131.8C101.4 132.4 104.7 133.5 108 134.5C111.3 135.5 114.4 136.6 116.8 137.8C119.2 139 121.4 140.4 122.5 141.7C123.6 143.1 124.4 144.5 123.4 145.7C122.5 146.9 119.4 148.5 116.8 149C114.2 149.6 111.7 149.3 108 149C104.3 148.7 99.2 147.8 94.8 147.5C90.4 147.1 86 147 81.6 146.8C77.2 146.6 72.4 146.4 68.4 146.1C64.4 145.9 60.7 145.6 57.4 145.3C54.1 144.9 51 144.7 48.6 144.2C46.2 143.6 44.5 142.9 43.1 142C41.7 141 40.1 139.5 40.2 138.4Z" fill="#eaffff" />
<path d="M47.5 137.6C48.1 136.6 49.5 135.8 54.1 135.1C58.7 134.4 67.9 133.6 75 133.4C82.2 133.2 91.1 133.2 97 133.8C102.9 134.5 106.9 136 110.2 137.3C113.5 138.7 116.4 140.3 116.8 141.7C117.2 143.1 115.7 145.2 112.4 145.7C109.1 146.3 103.2 145.3 97 145C90.8 144.8 81.2 144.5 75 144.2C68.8 143.8 63.7 143.4 59.6 142.8C55.5 142.3 52.4 141.5 50.4 140.6C48.3 139.8 46.9 138.5 47.5 137.6Z" fill="#bcf9ff" />
<path d="M52.6 138C54.3 137.3 58.4 136 64 135.4C69.6 134.7 79.8 134 86 134C92.2 134 97.4 134.5 101.4 135.4C105.4 136.2 108.6 137.7 110.2 139.1C111.9 140.5 113.5 142.7 111.3 143.5C109.1 144.3 103.1 144.3 97 144.2C91 144.1 81.2 143.3 75 142.8C68.8 142.4 63.2 142 59.6 141.5C56 141 54.6 140.3 53.4 139.8C52.3 139.2 50.8 138.7 52.6 138Z" fill="#99eaff" />
<path d="M60.7 138C62.5 137.4 67.9 136.6 72.8 136.2C77.8 135.8 85.3 135.4 90.4 135.6C95.5 135.8 100.7 136.6 103.6 137.6C106.5 138.5 108.4 140.1 108 141.1C107.6 142 105.1 143 101.4 143.3C97.7 143.6 90.8 143.1 86 142.8C81.2 142.6 76.8 142.2 72.8 141.7C68.8 141.3 63.8 140.6 61.8 140C59.8 139.4 58.9 138.6 60.7 138Z" fill="#75d3ff" />
<path d="M75 138C76.4 137.5 80.5 137.1 83.8 136.9C87.1 136.7 91.5 136.4 94.8 136.7C98.1 137 102.3 138 103.6 138.9C104.9 139.8 104.7 141.4 102.5 142C100.3 142.5 94.3 142.5 90.4 142.4C86.6 142.3 81.9 142 79.4 141.5C76.9 141.1 76.2 140.3 75.4 139.8C74.7 139.2 73.6 138.5 75 138Z" fill="#56b0ff" />
<path d="M84.9 138.2C85.7 137.8 88.4 137.6 90.4 137.6C92.4 137.5 95.1 137.6 97 138C98.9 138.4 101.7 139.1 101.8 139.8C102 140.4 100.4 141.5 98.1 141.7C95.8 142 90.3 141.6 88.2 141.3C86.1 141 85.9 140.5 85.3 140C84.8 139.5 84.1 138.6 84.9 138.2Z" fill="#3d87ff" />
<path d="M90.8 138.7C91.7 138.4 94.5 138.3 95.9 138.4C97.3 138.6 99.4 139.3 99.2 139.8C99 140.2 96.2 141 94.8 141.1C93.4 141.1 91.5 140.4 90.8 140C90.2 139.6 90 138.9 90.8 138.7Z" fill="#2857ff" />
<path d="M183 150C184.3 148.7 189.2 151.5 192 152C194.8 152.5 196.2 153 200 153C203.8 153 208.7 153 215 152C221.3 151 234.2 146.8 238 147C241.8 147.2 239.7 151.4 238 153C236.3 154.6 231.3 155.1 228 156.4C224.7 157.7 221.5 159.7 218 160.6C214.5 161.5 209.8 161.1 207 162C204.2 162.9 202.7 164.5 201.4 166.2C200.1 167.9 199.2 169.4 199 172C198.8 174.6 201.5 180.3 200 182C198.5 183.7 192.7 183 190 182C187.3 181 185.3 178.3 184 176C182.7 173.7 182 170.7 182 168C182 165.3 183.8 163 184 160C184.2 157 181.7 151.3 183 150Z" fill="#ffac75" />
<path d="M228.5 166C230 163.8 236.4 162 238 164C239.6 166 239.5 175.8 238 178C236.5 180.2 230.6 179 229 177C227.4 175 227 168.2 228.5 166Z" fill="#ff3d3d" />
<path d="M118 131C120.2 128.3 126.3 130.7 130 130C133.7 129.3 136.7 128.3 140 127C143.3 125.7 147 123.3 150 122C153 120.7 155.5 119.5 158 119C160.5 118.5 164.7 116.3 165 119C165.3 121.7 161.7 130.2 160 135C158.3 139.8 158.3 145.2 155 147.5C151.7 149.8 145 148.5 140 148.5C135 148.5 128.8 147.9 125 147.5C121.2 147.1 118.2 148.8 117 146C115.8 143.2 115.8 133.7 118 131Z" fill="#ffd699" />
<path d="M120 134C121.3 131.9 128.3 133.7 132 133C135.7 132.3 138.7 131.3 142 130C145.3 128.7 149 126.5 152 125C155 123.5 158.2 121.2 160 121C161.8 120.8 163.3 121.5 163 124C162.7 126.5 159.8 132.4 158 136C156.2 139.6 155.3 143.8 152 145.5C148.7 147.2 142.7 146.5 138 146.5C133.3 146.5 127 147.6 124 145.5C121 143.4 118.7 136.1 120 134Z" fill="#fff1bc" />
<path d="M136.5 140.9C136.9 137.5 143.8 135.7 147.5 133.1C151.1 130.5 154.7 127.9 158.5 125.4C162.2 122.9 166.1 120.3 169.7 118.2C173.4 116.2 176.3 114.4 180.3 112.9C184.3 111.5 183.2 110 193.8 109.4C204.3 108.8 234.8 105.8 243.7 109.5C252.5 113.3 249.7 127.1 247 132.1C244.3 137.2 232.1 137.6 227.5 139.9C222.8 142.1 222.3 144 219.1 145.8C215.9 147.5 210.8 149 208.3 150.5C205.7 152 206.7 153.5 203.8 154.9C201 156.3 194.8 159.3 191.3 158.9C187.8 158.6 185.1 154.1 182.9 153C180.6 151.9 180.1 152.7 177.7 152.3C175.2 152 171.6 150.7 168.3 151.1C164.9 151.4 161.2 154.3 157.4 154.6C153.6 154.9 148.8 155.2 145.4 153C141.9 150.7 136.2 144.2 136.5 140.9Z" fill="#ffac75" />
<path d="M138.2 141.2C138.5 138.4 144.8 136.7 148.3 134.3C151.8 131.9 155.6 129.1 159.3 126.6C163 124.1 166.9 121.5 170.5 119.5C174 117.4 176.9 115.7 180.8 114.3C184.7 112.8 183.4 111.4 193.8 110.8C204.3 110.2 234.7 107.6 243.3 110.9C251.9 114.2 248.3 126.3 245.6 130.8C242.8 135.3 231.2 135.8 226.6 138C222 140.2 221.3 142.2 218.1 144C214.9 145.8 209.8 147.2 207.2 148.7C204.7 150.3 205.4 151.8 202.8 153.2C200.2 154.5 194.8 157.2 191.6 156.9C188.4 156.5 186 152.2 183.8 151.1C181.5 150 180.6 150.6 178 150.3C175.3 149.9 171.5 148.6 168 149C164.6 149.3 160.8 152.1 157.1 152.5C153.5 152.8 149.3 152.9 146.1 151C143 149.2 137.8 144 138.2 141.2Z" fill="#ffd699" />
<path d="M139.8 141.6C140.1 139.3 145.7 137.8 149.1 135.5C152.5 133.2 156.4 130.3 160.1 127.8C163.8 125.4 167.6 122.8 171.2 120.7C174.7 118.7 177.5 117 181.3 115.6C185.1 114.2 183.7 112.8 193.9 112.2C204.2 111.6 234.5 109.4 242.9 112.2C251.2 115.1 247 125.6 244.1 129.6C241.3 133.6 230.3 134.1 225.8 136.2C221.3 138.3 220.4 140.4 217.1 142.3C213.9 144.1 208.8 145.5 206.2 147.1C203.7 148.6 204.2 150.2 201.8 151.5C199.4 152.8 194.8 155.2 191.9 154.9C189 154.5 186.9 150.5 184.6 149.4C182.3 148.3 181.1 148.7 178.3 148.3C175.5 147.9 171.4 146.6 167.8 147C164.3 147.4 160.4 150.1 156.9 150.5C153.4 150.9 149.8 150.7 146.9 149.2C144 147.7 139.4 143.8 139.8 141.6Z" fill="#fff1bc" />
<path d="M141.6 142C142 140.3 146.8 139 150 136.9C153.2 134.8 157.3 131.7 161 129.2C164.7 126.7 168.5 124.2 172 122.2C175.5 120.1 178.2 118.5 181.9 117.1C185.6 115.7 183.9 114.3 194 113.8C204.1 113.2 234.3 111.4 242.4 113.8C250.5 116.2 245.3 124.7 242.4 128.1C239.5 131.5 229.2 132 224.8 134C220.4 136.1 219.3 138.4 216 140.2C212.7 142 207.6 143.5 205 145C202.4 146.6 202.7 148.2 200.6 149.4C198.5 150.7 194.7 152.9 192.2 152.5C189.8 152.2 187.9 148.3 185.6 147.2C183.4 146.1 181.6 146.4 178.6 145.9C175.6 145.5 171.3 144.2 167.6 144.6C163.9 145 159.9 147.7 156.6 148.1C153.3 148.5 150.3 148 147.8 147C145.3 146 141.3 143.6 141.6 142Z" fill="#ffffea" />
<path d="M135 138C135.8 136.3 141.7 135.3 145 134C148.3 132.7 152.8 129.8 155 130C157.2 130.2 158.3 132.8 158 135C157.7 137.2 156 141.5 153 143C150 144.5 143 144.8 140 144C137 143.2 134.2 139.7 135 138Z" fill="#ffffea" />
<path d="M158 130C159.2 127.8 162.7 125.7 165 124C167.3 122.3 169.5 121.2 172 120C174.5 118.8 175.3 117.5 180 117C184.7 116.5 194.7 116.2 200 117C205.3 117.8 209.7 119.8 212 122C214.3 124.2 214.2 127 214 130C213.8 133 212.5 137.2 211 140C209.5 142.8 207.2 145.1 205 146.5C202.8 147.9 200.5 148.5 198 148.5C195.5 148.5 192.7 147.2 190 146.5C187.3 145.8 185 145 182 144.5C179 144 175.2 144.1 172 143.5C168.8 142.9 165.3 142.1 163 141C160.7 139.9 158.8 138.8 158 137C157.2 135.2 156.8 132.2 158 130Z" fill="#eaffff" />
<path d="M226 124.6C227.8 122.9 236 121.4 238 123C240 124.6 239.8 132.3 238 134C236.2 135.7 229 134.6 227 133C225 131.4 224.2 126.3 226 124.6Z" fill="#eaffff" />
<path d="M160 131C160.7 128.8 163.5 126.5 166 125C168.5 123.5 171 122.7 175 122C179 121.3 185.3 121.2 190 121C194.7 120.8 199.7 120.5 203 121C206.3 121.5 208.6 122.3 210 124C211.4 125.7 211.7 128.5 211.5 131C211.3 133.5 210.4 136.7 209 139C207.6 141.3 205.2 143.8 203 145C200.8 146.2 198.5 146.7 196 146.5C193.5 146.3 190.7 144.8 188 144C185.3 143.2 183 142.5 180 142C177 141.5 173 141.7 170 141C167 140.3 163.7 139.7 162 138C160.3 136.3 159.3 133.2 160 131Z" fill="#bcf9ff" />
<path d="M168.8 131C169.6 130.1 171.6 129.4 173 129.5C174.4 129.6 176.8 130.4 177.5 131.5C178.2 132.6 177.9 135 177 136C176.1 137 173.4 137.7 172 137.5C170.6 137.3 169 136.1 168.5 135C168 133.9 168.1 131.9 168.8 131Z" fill="#99eaff" />
<path d="M184 129C185.2 127.3 189.5 127 192 127C194.5 127 197.3 127.7 199 129C200.7 130.3 201.8 132.8 202 135C202.2 137.2 201.2 140.2 200 142C198.8 143.8 196.8 145.3 195 145.5C193.2 145.7 190.7 144.4 189 143C187.3 141.6 185.8 139.3 185 137C184.2 134.7 182.8 130.7 184 129Z" fill="#99eaff" />
<path d="M183 147C184.6 145.3 191.2 145.7 193 147C194.8 148.3 194.2 152.5 194 155C193.8 157.5 193.3 160.7 192 162C190.7 163.3 187.4 163.8 186 163C184.6 162.2 184 159.7 183.5 157C183 154.3 181.4 148.7 183 147Z" fill="#fff1bc" />
<path d="M19 285C-17.7 265.2 18.5 186.2 19 166.5C19.5 146.8 21 166.5 22 166.5C23 166.5 24 166.5 25 166.5C26 166.5 27 166.5 28 166.5C29 166.5 30 166.5 31 166.5C32 166.5 33 166.5 34 166.5C35 166.5 36 166.5 37 166.5C38 166.6 39 166.6 40 166.7C41 166.7 42 166.8 43 166.8C44 166.8 45 166.9 46 166.9C47 167 48 167 49 167.1C50 167.2 51 167.3 52 167.4C53 167.5 54 167.6 55 167.7C56 167.8 57 167.2 58 168C59 168.8 60 171 61 172.5C62 174 63 176.2 64 177C65 177.8 66 177 67 177C68 177 69 177 70 177C71 177 72 177 73 177C74 177 75 177 76 176.9C77 176.9 78 176.8 79 176.8C80 176.7 81 176.7 82 176.6C83 176.5 84 176.4 85 176C86 175.7 87 175 88 174.7C89 174.3 90 174 91 173.8C92 173.5 93 173.4 94 173.1C95 172.9 96 172.7 97 172.5C98 172.3 99 172.2 100 172.1C101 172 102 172.1 103 172.1C104 172.1 105 172.1 106 172.1C107 172.1 108 172.1 109 172.1C110 172.1 111 172.1 112 172.1C113 172.1 114 172.1 115 172.1C116 172.1 117 172.1 118 172.1C119 172.1 120 172.2 121 172.3C122 172.5 123 172.8 124 173C125 173.3 126 173.5 127 173.7C128 174 129 174.2 130 174.4C131 174.7 132 174.9 133 175.1C134 175.4 135 175.6 136 175.8C137 176.1 138 176.3 139 176.5C140 176.7 141 176.9 142 177C143 177.1 144 177 145 177C146 177 147 177 148 177C149 177 150 177 151 177C152 177 153 177 154 177C155 177 156 177 157 177C158 177 159 176.9 160 176.8C161 176.7 162 176.5 163 176.3C164 176.1 165 175.9 166 175.7C167 175.5 168 175.3 169 175.2C170 175.1 171 175 172 175C173 175 174 175 175 175C176 175 177 175 178 175C179 175 180 175 181 175C182 175 183 175 184 174.9C185 174.8 186 174.6 187 174.4C188 174.3 189 174.1 190 174C191 173.9 192 173.7 193 173.6C194 173.4 195 173.2 196 173.1C197 173 198 173 199 172.9C200 172.9 201 172.8 202 172.9C203 172.9 204 172.9 205 173.1C206 173.3 207 173.7 208 174C209 174.3 210 174.6 211 174.9C212 175.2 213 175.5 214 175.8C215 176.1 216 176.4 217 176.7C218 177 219 177.4 220 177.8C221 178.1 222 178.5 223 178.9C224 179.3 225 179.7 226 180.1C227 180.4 228 181 229 181.2C230 181.4 231 181.4 232 181.5C233 181.7 234.3 181.8 235 181.9C235.7 182 235.3 182 236 182C236.7 182 238.5 164.8 239 182C239.5 199.2 275.7 267.8 239 285C202.3 302.2 55.7 304.8 19 285Z" fill="#ffac75" />
<path d="M158.9 182.4C159.2 180.2 159.7 178.5 160.9 176.8C162.1 175.2 163.8 173.5 165.8 172.6C167.9 171.7 170.6 171.3 173 171.3C175.4 171.3 177.9 171.7 180.1 172.6C182.2 173.4 184.3 174.8 185.9 176.4C187.5 177.9 188.7 179.9 189.7 181.7C190.6 183.6 191.4 185.5 191.6 187.5C191.8 189.4 192.1 192.1 191 193.6C190 195.1 187.8 196 185.1 196.5C182.4 197 178.3 196.8 174.9 196.5C171.6 196.2 167.5 195.6 164.8 194.6C162.1 193.5 159.7 192.5 158.7 190.5C157.7 188.5 158.5 184.7 158.9 182.4Z" fill="#ffac75" />
<path d="M19 285C-17.7 266.2 18.5 190.9 19 172.1C19.5 153.3 20.7 171.8 22 172.1C23.3 172.4 25.3 173.3 27 173.8C28.7 174.4 30.3 175 32 175.6C33.7 176.2 35.3 176.8 37 177.3C38.7 177.9 40.3 178.4 42 179C43.7 179.6 45.3 180.2 47 180.7C48.7 181.2 50.3 181.5 52 181.9C53.7 182.3 55.3 182.7 57 183.1C58.7 183.5 60.3 184 62 184.2C63.7 184.5 65.3 184.5 67 184.5C68.7 184.5 70.3 184.3 72 184.2C73.7 184.1 75.3 183.9 77 183.8C78.7 183.7 80.3 183.5 82 183.3C83.7 183.1 85.3 183.1 87 182.8C88.7 182.5 90.3 181.9 92 181.3C93.7 180.7 95.3 179.8 97 179.2C98.7 178.7 100.3 178.3 102 178C103.7 177.7 105.3 177.6 107 177.3C108.7 177.1 110.3 176.9 112 176.7C113.7 176.4 115.3 176.1 117 176C118.7 175.9 120.3 175.8 122 175.9C123.7 176.1 125.3 176.5 127 176.8C128.7 177 130.3 177.3 132 177.6C133.7 177.9 135.3 178.2 137 178.4C138.7 178.7 140.3 179 142 179.1C143.7 179.3 145.3 179.3 147 179.3C148.7 179.4 150.3 179.5 152 179.5C153.7 179.6 155.3 179.7 157 179.7C158.7 179.7 160.3 179.7 162 179.6C163.7 179.5 165.3 179.3 167 179.2C168.7 179.1 170.3 179.1 172 179.2C173.7 179.2 175.3 179.4 177 179.5C178.7 179.7 180.3 179.8 182 179.9C183.7 180.1 185.3 180.3 187 180.4C188.7 180.6 190.3 180.8 192 181C193.7 181.1 195.3 181.2 197 181.5C198.7 181.8 200.3 182.4 202 182.8C203.7 183.1 205.3 183.4 207 183.7C208.7 183.9 210.3 184.1 212 184.3C213.7 184.5 215.3 184.7 217 184.9C218.7 185.1 220.3 185.2 222 185.4C223.7 185.6 225.3 185.8 227 185.9C228.7 186 230.5 186.2 232 186.3C233.5 186.4 234.8 186.5 236 186.5C237.2 186.5 238.5 170.1 239 186.5C239.5 202.9 275.7 268.6 239 285C202.3 301.4 55.7 303.8 19 285Z" fill="#ffd699" />
<path d="M159.7 182.7C160.1 180.5 160.6 178.9 161.7 177.4C162.8 176 164.4 174.5 166.3 173.7C168.2 172.9 170.8 172.5 173 172.5C175.2 172.5 177.6 172.9 179.7 173.7C181.7 174.4 183.6 175.7 185.2 177.2C186.7 178.6 187.9 180.5 188.9 182.2C189.8 184 190.5 185.8 190.8 187.7C191.1 189.5 191.6 191.9 190.6 193.4C189.7 194.8 187.7 195.8 185.1 196.3C182.5 196.8 178.3 196.6 175 196.3C171.6 196 167.5 195.3 164.9 194.3C162.2 193.3 160.1 192.2 159.2 190.3C158.3 188.3 159.3 184.8 159.7 182.7Z" fill="#ffd699" />
<path d="M19 285C-17.7 267.3 18.5 196.7 19 179C19.5 161.4 20.7 178.8 22 179C23.3 179.2 25.3 179.9 27 180.4C28.7 180.8 30.3 181.3 32 181.7C33.7 182.2 35.3 182.6 37 183.1C38.7 183.5 40.3 183.9 42 184.4C43.7 184.8 45.3 185.3 47 185.7C48.7 186.1 50.3 186.3 52 186.6C53.7 186.9 55.3 187.2 57 187.4C58.7 187.7 60.3 188.1 62 188.3C63.7 188.5 65.3 188.5 67 188.5C68.7 188.5 70.3 188.3 72 188.2C73.7 188.1 75.3 188.1 77 187.9C78.7 187.8 80.3 187.7 82 187.6C83.7 187.5 85.3 187.5 87 187.3C88.7 187 90.3 186.7 92 186.3C93.7 185.9 95.3 185.4 97 185C98.7 184.5 100.3 184.1 102 183.8C103.7 183.4 105.3 183 107 182.7C108.7 182.3 110.3 181.9 112 181.6C113.7 181.2 115.3 180.7 117 180.5C118.7 180.2 120.3 180 122 180C123.7 180 125.3 180.3 127 180.5C128.7 180.6 130.3 180.8 132 181C133.7 181.1 135.3 181.3 137 181.4C138.7 181.6 140.3 181.7 142 181.8C143.7 181.9 145.3 182 147 182C148.7 182.1 150.3 182.1 152 182.2C153.7 182.3 155.3 182.4 157 182.4C158.7 182.4 160.3 182.4 162 182.5C163.7 182.5 165.3 182.4 167 182.4C168.7 182.5 170.3 182.5 172 182.7C173.7 182.8 175.3 183 177 183.2C178.7 183.4 180.3 183.6 182 183.8C183.7 184 185.3 184.2 187 184.4C188.7 184.6 190.3 184.8 192 185C193.7 185.2 195.3 185.3 197 185.6C198.7 185.9 200.3 186.4 202 186.7C203.7 187.1 205.3 187.3 207 187.5C208.7 187.7 210.3 187.8 212 187.9C213.7 188.1 215.3 188.2 217 188.4C218.7 188.5 220.3 188.6 222 188.7C223.7 188.8 225.3 188.9 227 189C228.7 189.1 230.5 189.2 232 189.2C233.5 189.3 234.8 189.4 236 189.4C237.2 189.4 238.5 173.4 239 189.4C239.5 205.3 275.7 269.1 239 285C202.3 300.9 55.7 302.7 19 285Z" fill="#fff1bc" />
<path d="M160.3 182.8C160.8 180.8 161.3 179.3 162.3 178C163.4 176.6 164.9 175.3 166.6 174.6C168.4 173.9 170.9 173.5 173 173.5C175.1 173.5 177.4 173.9 179.3 174.6C181.3 175.3 183.1 176.5 184.6 177.8C186.1 179.2 187.3 180.9 188.2 182.6C189.1 184.3 189.8 186.1 190.2 187.8C190.5 189.6 191.2 191.8 190.4 193.2C189.5 194.6 187.6 195.7 185 196.2C182.5 196.7 178.3 196.5 175 196.2C171.6 195.9 167.5 195.2 164.9 194.2C162.3 193.2 160.3 192.1 159.6 190.2C158.8 188.3 159.9 184.9 160.3 182.8Z" fill="#fff1bc" />
<path d="M19 285C-17.7 268.2 18.5 201.1 19 184.3C19.5 167.6 20.7 184.2 22 184.3C23.3 184.5 25.3 185 27 185.4C28.7 185.7 30.3 186.1 32 186.4C33.7 186.8 35.3 187.1 37 187.5C38.7 187.8 40.3 188.2 42 188.5C43.7 188.8 45.3 189.2 47 189.5C48.7 189.8 50.3 190 52 190.2C53.7 190.4 55.3 190.6 57 190.8C58.7 191 60.3 191.3 62 191.4C63.7 191.5 65.3 191.5 67 191.5C68.7 191.5 70.3 191.4 72 191.3C73.7 191.3 75.3 191.2 77 191.1C78.7 191.1 80.3 191 82 190.9C83.7 190.8 85.3 190.8 87 190.7C88.7 190.5 90.3 190.3 92 190.1C93.7 189.9 95.3 189.7 97 189.3C98.7 189 100.3 188.6 102 188.2C103.7 187.8 105.3 187.2 107 186.8C108.7 186.3 110.3 185.8 112 185.3C113.7 184.9 115.3 184.3 117 183.9C118.7 183.5 120.3 183.2 122 183.1C123.7 183 125.3 183.3 127 183.3C128.7 183.4 130.3 183.5 132 183.5C133.7 183.6 135.3 183.7 137 183.7C138.7 183.8 140.3 183.9 142 183.9C143.7 184 145.3 184 147 184.1C148.7 184.2 150.3 184.2 152 184.3C153.7 184.3 155.3 184.4 157 184.4C158.7 184.5 160.3 184.6 162 184.7C163.7 184.7 165.3 184.8 167 184.9C168.7 185 170.3 185.2 172 185.4C173.7 185.5 175.3 185.8 177 186C178.7 186.3 180.3 186.5 182 186.7C183.7 186.9 185.3 187.2 187 187.4C188.7 187.6 190.3 187.8 192 188C193.7 188.3 195.3 188.4 197 188.7C198.7 189 200.3 189.5 202 189.8C203.7 190.1 205.3 190.2 207 190.4C208.7 190.6 210.3 190.6 212 190.7C213.7 190.8 215.3 190.9 217 191C218.7 191.1 220.3 191.1 222 191.2C223.7 191.3 225.3 191.3 227 191.4C228.7 191.4 230.5 191.5 232 191.5C233.5 191.5 234.8 191.6 236 191.6C237.2 191.6 238.5 176 239 191.6C239.5 207.2 275.7 269.4 239 285C202.3 300.6 55.7 301.8 19 285Z" fill="#ffffea" />
<path d="M160.7 182.9C161.2 181 161.7 179.6 162.7 178.3C163.8 177 165.1 175.8 166.9 175.1C168.6 174.4 171 174.1 173 174.1C175 174.1 177.3 174.4 179.1 175.1C181 175.8 182.8 176.9 184.2 178.2C185.7 179.5 186.9 181.2 187.8 182.8C188.7 184.5 189.4 186.2 189.8 187.9C190.2 189.6 190.9 191.7 190.2 193.1C189.4 194.4 187.5 195.6 185 196.1C182.5 196.6 178.3 196.4 175 196.1C171.6 195.8 167.5 195.1 165 194.1C162.4 193.1 160.5 191.9 159.8 190.1C159.1 188.2 160.2 184.9 160.7 182.9Z" fill="#ffffea" />
<path d="M19 285C-17.7 268.9 18.5 204.3 19 188.2C19.5 172.1 20.7 188.1 22 188.2C23.3 188.3 25.3 188.7 27 189C28.7 189.3 30.3 189.6 32 189.8C33.7 190.1 35.3 190.4 37 190.7C38.7 190.9 40.3 191.2 42 191.5C43.7 191.8 45.3 192.1 47 192.3C48.7 192.6 50.3 192.7 52 192.8C53.7 193 55.3 193.1 57 193.2C58.7 193.4 60.3 193.6 62 193.6C63.7 193.7 65.3 193.7 67 193.7C68.7 193.7 70.3 193.6 72 193.6C73.7 193.5 75.3 193.5 77 193.4C78.7 193.4 80.3 193.3 82 193.3C83.7 193.3 85.3 193.2 87 193.2C88.7 193.1 90.3 193 92 192.9C93.7 192.8 95.3 192.8 97 192.5C98.7 192.3 100.3 191.9 102 191.4C103.7 190.9 105.3 190.3 107 189.7C108.7 189.2 110.3 188.6 112 188.1C113.7 187.5 115.3 186.8 117 186.4C118.7 186 120.3 185.6 122 185.4C123.7 185.2 125.3 185.4 127 185.4C128.7 185.4 130.3 185.4 132 185.4C133.7 185.4 135.3 185.4 137 185.4C138.7 185.4 140.3 185.4 142 185.4C143.7 185.5 145.3 185.5 147 185.6C148.7 185.7 150.3 185.7 152 185.8C153.7 185.8 155.3 185.8 157 185.9C158.7 186 160.3 186.1 162 186.3C163.7 186.4 165.3 186.6 167 186.7C168.7 186.9 170.3 187.1 172 187.3C173.7 187.5 175.3 187.8 177 188.1C178.7 188.3 180.3 188.6 182 188.8C183.7 189.1 185.3 189.3 187 189.6C188.7 189.8 190.3 190 192 190.3C193.7 190.5 195.3 190.7 197 191C198.7 191.3 200.3 191.7 202 192C203.7 192.3 205.3 192.4 207 192.5C208.7 192.7 210.3 192.7 212 192.7C213.7 192.8 215.3 192.9 217 193C218.7 193 220.3 193 222 193C223.7 193.1 225.3 193.1 227 193.1C228.7 193.1 230.5 193.1 232 193.1C233.5 193.2 234.8 193.2 236 193.2C237.2 193.2 238.5 177.9 239 193.2C239.5 208.5 275.7 269.7 239 285C202.3 300.3 55.7 301.1 19 285Z" fill="#eaffff" />
<path d="M161 183C161.5 181.1 162 179.8 163 178.5C164 177.2 165.3 176.2 167 175.5C168.7 174.8 171 174.5 173 174.5C175 174.5 177.2 174.8 179 175.5C180.8 176.2 182.6 177.2 184 178.5C185.4 179.8 186.6 181.4 187.5 183C188.4 184.6 189.1 186.3 189.5 188C189.9 189.7 190.8 191.7 190 193C189.2 194.3 187.5 195.5 185 196C182.5 196.5 178.3 196.3 175 196C171.7 195.7 167.5 195 165 194C162.5 193 160.7 191.8 160 190C159.3 188.2 160.5 184.9 161 183Z" fill="#eaffff" />
<path d="M19 285C-17.7 269.5 18.5 207.3 19 191.8C19.5 176.3 20.7 191.7 22 191.8C23.3 191.9 25.3 192.1 27 192.3C28.7 192.5 30.3 192.7 32 192.8C33.7 193 35.3 193.2 37 193.4C38.7 193.5 40.3 193.8 42 194C43.7 194.2 45.3 194.4 47 194.6C48.7 194.8 50.3 194.9 52 195C53.7 195.1 55.3 195.2 57 195.3C58.7 195.4 60.3 195.6 62 195.7C63.7 195.7 65.3 195.8 67 195.8C68.7 195.9 70.3 195.9 72 195.9C73.7 195.9 75.3 195.9 77 195.9C78.7 195.9 80.3 195.9 82 195.9C83.7 195.9 85.3 195.9 87 195.9C88.7 195.9 90.3 195.8 92 195.8C93.7 195.8 95.3 195.9 97 195.7C98.7 195.5 100.3 195.2 102 194.8C103.7 194.5 105.3 193.9 107 193.5C108.7 193 110.3 192.6 112 192.1C113.7 191.6 115.3 191.1 117 190.7C118.7 190.4 120.3 190 122 189.9C123.7 189.7 125.3 189.8 127 189.8C128.7 189.7 130.3 189.7 132 189.6C133.7 189.6 135.3 189.6 137 189.5C138.7 189.5 140.3 189.4 142 189.4C143.7 189.4 145.3 189.5 147 189.5C148.7 189.5 150.3 189.5 152 189.6C153.7 189.6 155.3 189.6 157 189.6C158.7 189.7 160.3 189.8 162 190C163.7 190.1 165.3 190.3 167 190.5C168.7 190.7 170.3 190.9 172 191.1C173.7 191.3 175.3 191.6 177 191.9C178.7 192.1 180.3 192.4 182 192.7C183.7 192.9 185.3 193 187 193.2C188.7 193.4 190.3 193.6 192 193.7C193.7 193.9 195.3 194 197 194.2C198.7 194.4 200.3 194.7 202 194.8C203.7 195 205.3 195 207 195C208.7 195 210.3 195 212 195C213.7 194.9 215.3 194.9 217 194.9C218.7 194.9 220.3 194.8 222 194.8C223.7 194.8 225.3 194.7 227 194.7C228.7 194.7 230.5 194.7 232 194.7C233.5 194.7 234.8 194.6 236 194.6C237.2 194.6 238.5 179.6 239 194.6C239.5 209.7 275.7 269.9 239 285C202.3 300.1 55.7 300.5 19 285Z" fill="#bcf9ff" />
<path d="M19 285C-17.7 270.2 18.5 211 19 196.2C19.5 181.4 20.7 196.2 22 196.2C23.3 196.2 25.3 196.3 27 196.3C28.7 196.4 30.3 196.4 32 196.4C33.7 196.5 35.3 196.5 37 196.6C38.7 196.7 40.3 196.9 42 197C43.7 197.1 45.3 197.3 47 197.4C48.7 197.5 50.3 197.6 52 197.6C53.7 197.7 55.3 197.8 57 197.9C58.7 198 60.3 198 62 198.1C63.7 198.2 65.3 198.3 67 198.4C68.7 198.5 70.3 198.6 72 198.7C73.7 198.7 75.3 198.8 77 198.9C78.7 199 80.3 199 82 199.1C83.7 199.1 85.3 199.2 87 199.2C88.7 199.3 90.3 199.3 92 199.4C93.7 199.4 95.3 199.6 97 199.5C98.7 199.5 100.3 199.2 102 199C103.7 198.7 105.3 198.3 107 198C108.7 197.7 110.3 197.3 112 197C113.7 196.7 115.3 196.3 117 196C118.7 195.7 120.3 195.5 122 195.3C123.7 195.1 125.3 195.1 127 195.1C128.7 195 130.3 194.9 132 194.8C133.7 194.7 135.3 194.6 137 194.5C138.7 194.5 140.3 194.4 142 194.3C143.7 194.3 145.3 194.3 147 194.2C148.7 194.2 150.3 194.2 152 194.2C153.7 194.1 155.3 194 157 194.1C158.7 194.1 160.3 194.3 162 194.4C163.7 194.6 165.3 194.8 167 195C168.7 195.2 170.3 195.4 172 195.7C173.7 195.9 175.3 196.2 177 196.5C178.7 196.8 180.3 197.1 182 197.3C183.7 197.5 185.3 197.6 187 197.7C188.7 197.8 190.3 197.8 192 197.9C193.7 198 195.3 198.1 197 198.1C198.7 198.2 200.3 198.3 202 198.2C203.7 198.2 205.3 198.2 207 198.1C208.7 198 210.3 197.8 212 197.7C213.7 197.5 215.3 197.4 217 197.3C218.7 197.1 220.3 197.1 222 197C223.7 196.9 225.3 196.8 227 196.7C228.7 196.6 230.5 196.6 232 196.5C233.5 196.5 234.8 196.4 236 196.4C237.2 196.4 238.5 181.6 239 196.4C239.5 211.2 275.7 270.2 239 285C202.3 299.8 55.7 299.8 19 285Z" fill="#99eaff" />
<path d="M168.8 195.5C169.6 193.6 173.3 193.2 175.8 192.7C178.4 192.2 181.8 192.3 184.2 192.7C186.5 193.1 188.7 193.8 189.9 195.1C191.1 196.4 191.8 198.7 191.2 200.4C190.7 202.2 188.8 204.6 186.5 205.7C184.3 206.7 180.5 207 177.9 206.8C175.3 206.6 172.5 206.2 171 204.3C169.5 202.5 168 197.4 168.8 195.5Z" fill="#99eaff" />
<path d="M161 189C161.7 186.9 163.7 187.3 165 187.5C166.3 187.7 168.1 188.8 169 190C169.9 191.2 170.7 193.3 170.5 195C170.3 196.7 169.6 199.2 168 200C166.4 200.8 162.2 201.8 161 200C159.8 198.2 160.3 191.1 161 189Z" fill="#99eaff" />
<path d="M165 186C165.7 184.2 167.3 183.9 169 183.5C170.7 183.1 173.2 183.1 175 183.5C176.8 183.9 178.9 184.8 180 186C181.1 187.2 180.8 189.7 181.5 191C182.2 192.3 182.8 193.2 184 194C185.2 194.8 188 195 189 196C190 197 190.5 198.6 190 200C189.5 201.4 188 203.6 186 204.5C184 205.4 180.3 205.7 178 205.5C175.7 205.3 173.5 204.8 172 203.5C170.5 202.2 170.2 199.6 169 198C167.8 196.4 165.7 196 165 194C164.3 192 164.3 187.8 165 186Z" fill="#bcf9ff" />
<path d="M174.6 200C175 199.3 177 199.2 178 199.5C179 199.8 180.3 200.8 180.5 201.5C180.7 202.2 179.8 203.6 179 204C178.2 204.4 176.2 204.5 175.5 203.8C174.8 203.1 174.2 200.7 174.6 200Z" fill="#eaffff" />
<path d="M19 285C-17.7 270.8 18.5 213.8 19 199.6C19.5 185.3 20.7 199.6 22 199.6C23.3 199.5 25.3 199.4 27 199.4C28.7 199.3 30.3 199.3 32 199.2C33.7 199.2 35.3 199.1 37 199.1C38.7 199.1 40.3 199.2 42 199.3C43.7 199.4 45.3 199.4 47 199.5C48.7 199.6 50.3 199.6 52 199.7C53.7 199.7 55.3 199.8 57 199.8C58.7 199.9 60.3 199.9 62 200C63.7 200.1 65.3 200.2 67 200.3C68.7 200.5 70.3 200.6 72 200.8C73.7 200.9 75.3 201.1 77 201.2C78.7 201.3 80.3 201.4 82 201.5C83.7 201.6 85.3 201.6 87 201.7C88.7 201.8 90.3 202 92 202.1C93.7 202.2 95.3 202.4 97 202.5C98.7 202.5 100.3 202.3 102 202.2C103.7 202 105.3 201.7 107 201.5C108.7 201.2 110.3 201 112 200.8C113.7 200.5 115.3 200.3 117 200C118.7 199.8 120.3 199.6 122 199.5C123.7 199.3 125.3 199.2 127 199.1C128.7 199 130.3 198.9 132 198.7C133.7 198.6 135.3 198.5 137 198.4C138.7 198.2 140.3 198.1 142 198C143.7 198 145.3 197.9 147 197.9C148.7 197.8 150.3 197.7 152 197.7C153.7 197.6 155.3 197.5 157 197.5C158.7 197.5 160.3 197.7 162 197.8C163.7 198 165.3 198.3 167 198.5C168.7 198.7 170.3 199 172 199.2C173.7 199.5 175.3 199.8 177 200C178.7 200.3 180.3 200.7 182 200.8C183.7 201 185.3 201 187 201C188.7 201.1 190.3 201.1 192 201.1C193.7 201.1 195.3 201.2 197 201.1C198.7 201.1 200.3 201 202 200.9C203.7 200.7 205.3 200.6 207 200.4C208.7 200.2 210.3 199.9 212 199.7C213.7 199.5 215.3 199.3 217 199.1C218.7 198.9 220.3 198.8 222 198.6C223.7 198.5 225.3 198.3 227 198.2C228.7 198.1 230.5 198 232 197.9C233.5 197.8 234.8 197.8 236 197.7C237.2 197.7 238.5 183.2 239 197.7C239.5 212.3 275.7 270.5 239 285C202.3 299.5 55.7 299.2 19 285Z" fill="#75d3ff" />
<path d="M19 285C-17.7 271.3 18.5 216.6 19 202.9C19.5 189.2 20.7 203 22 202.9C23.3 202.8 25.3 202.6 27 202.4C28.7 202.3 30.3 202.1 32 202C33.7 201.8 35.3 201.7 37 201.6C38.7 201.6 40.3 201.6 42 201.6C43.7 201.6 45.3 201.6 47 201.6C48.7 201.6 50.3 201.7 52 201.7C53.7 201.7 55.3 201.7 57 201.8C58.7 201.8 60.3 201.8 62 201.9C63.7 201.9 65.3 202.1 67 202.3C68.7 202.5 70.3 202.7 72 202.9C73.7 203.1 75.3 203.3 77 203.5C78.7 203.6 80.3 203.7 82 203.9C83.7 204 85.3 204.1 87 204.3C88.7 204.4 90.3 204.6 92 204.8C93.7 205 95.3 205.3 97 205.4C98.7 205.5 100.3 205.4 102 205.4C103.7 205.3 105.3 205.1 107 204.9C108.7 204.8 110.3 204.6 112 204.5C113.7 204.4 115.3 204.2 117 204.1C118.7 203.9 120.3 203.8 122 203.6C123.7 203.5 125.3 203.3 127 203.1C128.7 203 130.3 202.8 132 202.7C133.7 202.5 135.3 202.3 137 202.2C138.7 202 140.3 201.9 142 201.8C143.7 201.6 145.3 201.6 147 201.5C148.7 201.4 150.3 201.3 152 201.2C153.7 201.1 155.3 200.9 157 200.9C158.7 200.9 160.3 201.1 162 201.2C163.7 201.4 165.3 201.7 167 202C168.7 202.2 170.3 202.5 172 202.7C173.7 203 175.3 203.3 177 203.6C178.7 203.8 180.3 204.2 182 204.4C183.7 204.5 185.3 204.5 187 204.4C188.7 204.4 190.3 204.3 192 204.3C193.7 204.2 195.3 204.2 197 204.1C198.7 204 200.3 203.7 202 203.5C203.7 203.2 205.3 203 207 202.7C208.7 202.4 210.3 202.1 212 201.8C213.7 201.5 215.3 201.1 217 200.9C218.7 200.6 220.3 200.5 222 200.3C223.7 200.1 225.3 199.9 227 199.8C228.7 199.6 230.5 199.5 232 199.3C233.5 199.2 234.8 199.1 236 199.1C237.2 199 238.5 184.7 239 199.1C239.5 213.4 275.7 270.7 239 285C202.3 299.3 55.7 298.7 19 285Z" fill="#56b0ff" />
<path d="M19 285C-17.7 271.9 18.5 219.4 19 206.3C19.5 193.1 20.7 206.4 22 206.3C23.3 206.1 25.3 205.8 27 205.5C28.7 205.3 30.3 205 32 204.8C33.7 204.5 35.3 204.3 37 204.1C38.7 204 40.3 204 42 203.9C43.7 203.9 45.3 203.8 47 203.7C48.7 203.7 50.3 203.7 52 203.7C53.7 203.7 55.3 203.7 57 203.7C58.7 203.7 60.3 203.7 62 203.7C63.7 203.8 65.3 204 67 204.2C68.7 204.4 70.3 204.8 72 205C73.7 205.3 75.3 205.5 77 205.8C78.7 206 80.3 206.1 82 206.3C83.7 206.5 85.3 206.6 87 206.8C88.7 207 90.3 207.3 92 207.5C93.7 207.8 95.3 208.1 97 208.3C98.7 208.5 100.3 208.5 102 208.6C103.7 208.6 105.3 208.4 107 208.4C108.7 208.3 110.3 208.3 112 208.2C113.7 208.2 115.3 208.2 117 208.1C118.7 208 120.3 207.9 122 207.8C123.7 207.6 125.3 207.4 127 207.2C128.7 207 130.3 206.8 132 206.6C133.7 206.4 135.3 206.2 137 206C138.7 205.8 140.3 205.6 142 205.5C143.7 205.3 145.3 205.2 147 205.1C148.7 205 150.3 204.9 152 204.7C153.7 204.6 155.3 204.4 157 204.4C158.7 204.3 160.3 204.5 162 204.7C163.7 204.8 165.3 205.2 167 205.4C168.7 205.7 170.3 206 172 206.2C173.7 206.5 175.3 206.8 177 207.1C178.7 207.4 180.3 207.8 182 207.9C183.7 208.1 185.3 207.9 187 207.8C188.7 207.7 190.3 207.6 192 207.5C193.7 207.3 195.3 207.3 197 207.1C198.7 206.9 200.3 206.4 202 206.1C203.7 205.8 205.3 205.4 207 205C208.7 204.6 210.3 204.2 212 203.8C213.7 203.5 215.3 203 217 202.7C218.7 202.4 220.3 202.2 222 201.9C223.7 201.7 225.3 201.5 227 201.3C228.7 201.1 230.5 200.9 232 200.8C233.5 200.6 234.8 200.5 236 200.4C237.2 200.4 238.5 186.3 239 200.4C239.5 214.5 275.7 270.9 239 285C202.3 299.1 55.7 298.1 19 285Z" fill="#3d87ff" />
<path d="M19 285C-17.7 272.3 18.5 221.7 19 209.1C19.5 196.4 20.7 209.3 22 209.1C23.3 208.9 25.3 208.4 27 208.1C28.7 207.8 30.3 207.4 32 207.1C33.7 206.8 35.3 206.4 37 206.2C38.7 206 40.3 206 42 205.9C43.7 205.8 45.3 205.6 47 205.5C48.7 205.5 50.3 205.4 52 205.4C53.7 205.4 55.3 205.4 57 205.4C58.7 205.4 60.3 205.2 62 205.3C63.7 205.4 65.3 205.6 67 205.9C68.7 206.1 70.3 206.6 72 206.9C73.7 207.2 75.3 207.4 77 207.7C78.7 207.9 80.3 208.1 82 208.3C83.7 208.5 85.3 208.7 87 209C88.7 209.2 90.3 209.5 92 209.8C93.7 210.1 95.3 210.6 97 210.8C98.7 211 100.3 211.2 102 211.2C103.7 211.3 105.3 211.3 107 211.3C108.7 211.4 110.3 211.4 112 211.4C113.7 211.5 115.3 211.5 117 211.5C118.7 211.5 120.3 211.4 122 211.3C123.7 211.1 125.3 210.8 127 210.6C128.7 210.4 130.3 210.2 132 209.9C133.7 209.7 135.3 209.5 137 209.3C138.7 209.1 140.3 208.8 142 208.6C143.7 208.5 145.3 208.3 147 208.2C148.7 208 150.3 207.9 152 207.7C153.7 207.6 155.3 207.3 157 207.2C158.7 207.2 160.3 207.4 162 207.6C163.7 207.7 165.3 208.1 167 208.4C168.7 208.7 170.3 208.9 172 209.2C173.7 209.5 175.3 209.8 177 210.1C178.7 210.4 180.3 210.8 182 210.9C183.7 211 185.3 210.8 187 210.7C188.7 210.6 190.3 210.3 192 210.2C193.7 210 195.3 209.9 197 209.6C198.7 209.3 200.3 208.8 202 208.3C203.7 207.9 205.3 207.4 207 207C208.7 206.5 210.3 206 212 205.6C213.7 205.1 215.3 204.6 217 204.2C218.7 203.8 220.3 203.6 222 203.3C223.7 203 225.3 202.8 227 202.6C228.7 202.3 230.5 202.1 232 201.9C233.5 201.8 234.8 201.6 236 201.5C237.2 201.5 238.5 187.6 239 201.5C239.5 215.5 275.7 271.1 239 285C202.3 298.9 55.7 297.7 19 285Z" fill="#2857ff" />
<path d="M19 285C-17.7 272.7 18.5 223.7 19 211.4C19.5 199.2 20.7 211.6 22 211.4C23.3 211.2 25.3 210.6 27 210.2C28.7 209.8 30.3 209.4 32 209C33.7 208.6 35.3 208.2 37 208C38.7 207.7 40.3 207.6 42 207.5C43.7 207.3 45.3 207.1 47 207C48.7 206.9 50.3 206.9 52 206.8C53.7 206.8 55.3 206.8 57 206.7C58.7 206.7 60.3 206.5 62 206.6C63.7 206.7 65.3 207 67 207.2C68.7 207.5 70.3 208 72 208.3C73.7 208.7 75.3 209 77 209.3C78.7 209.5 80.3 209.8 82 210C83.7 210.2 85.3 210.4 87 210.7C88.7 211 90.3 211.3 92 211.7C93.7 212 95.3 212.5 97 212.8C98.7 213.1 100.3 213.3 102 213.4C103.7 213.6 105.3 213.6 107 213.7C108.7 213.8 110.3 213.9 112 214C113.7 214.1 115.3 214.3 117 214.3C118.7 214.3 120.3 214.3 122 214.2C123.7 214 125.3 213.7 127 213.4C128.7 213.2 130.3 212.9 132 212.7C133.7 212.4 135.3 212.2 137 211.9C138.7 211.7 140.3 211.4 142 211.2C143.7 211 145.3 210.9 147 210.7C148.7 210.5 150.3 210.3 152 210.1C153.7 210 155.3 209.7 157 209.6C158.7 209.6 160.3 209.7 162 209.9C163.7 210.1 165.3 210.5 167 210.8C168.7 211.1 170.3 211.4 172 211.6C173.7 211.9 175.3 212.2 177 212.5C178.7 212.8 180.3 213.3 182 213.4C183.7 213.5 185.3 213.2 187 213C188.7 212.9 190.3 212.6 192 212.4C193.7 212.1 195.3 212.1 197 211.7C198.7 211.3 200.3 210.7 202 210.1C203.7 209.6 205.3 209.1 207 208.6C208.7 208 210.3 207.5 212 207C213.7 206.5 215.3 205.9 217 205.5C218.7 205 220.3 204.8 222 204.5C223.7 204.2 225.3 203.9 227 203.6C228.7 203.4 230.5 203.1 232 202.9C233.5 202.7 234.8 202.5 236 202.5C237.2 202.4 238.5 188.7 239 202.5C239.5 216.2 275.7 271.2 239 285C202.3 298.8 55.7 297.3 19 285Z" fill="#181cf7" />
<path d="M19 285C-17.7 273.2 18.5 225.8 19 214C19.5 202.2 20.7 214.2 22 214C23.3 213.8 25.3 213 27 212.6C28.7 212.1 30.3 211.6 32 211.1C33.7 210.7 35.3 210.2 37 209.9C38.7 209.6 40.3 209.5 42 209.2C43.7 209 45.3 208.8 47 208.6C48.7 208.5 50.3 208.4 52 208.4C53.7 208.3 55.3 208.3 57 208.2C58.7 208.2 60.3 208 62 208.1C63.7 208.1 65.3 208.4 67 208.7C68.7 209.1 70.3 209.6 72 210C73.7 210.3 75.3 210.7 77 211C78.7 211.3 80.3 211.6 82 211.8C83.7 212.1 85.3 212.3 87 212.7C88.7 213 90.3 213.4 92 213.8C93.7 214.2 95.3 214.7 97 215.1C98.7 215.4 100.3 215.7 102 215.9C103.7 216.1 105.3 216.2 107 216.4C108.7 216.6 110.3 216.7 112 216.9C113.7 217.1 115.3 217.3 117 217.4C118.7 217.5 120.3 217.5 122 217.4C123.7 217.2 125.3 216.8 127 216.5C128.7 216.3 130.3 216 132 215.7C133.7 215.4 135.3 215.1 137 214.9C138.7 214.6 140.3 214.3 142 214.1C143.7 213.8 145.3 213.7 147 213.5C148.7 213.3 150.3 213.1 152 212.9C153.7 212.7 155.3 212.3 157 212.2C158.7 212.2 160.3 212.3 162 212.5C163.7 212.7 165.3 213.2 167 213.5C168.7 213.8 170.3 214.1 172 214.4C173.7 214.7 175.3 214.9 177 215.2C178.7 215.5 180.3 216.1 182 216.1C183.7 216.2 185.3 215.9 187 215.6C188.7 215.4 190.3 215.1 192 214.8C193.7 214.5 195.3 214.4 197 214C198.7 213.6 200.3 212.8 202 212.1C203.7 211.5 205.3 210.9 207 210.3C208.7 209.8 210.3 209.2 212 208.6C213.7 208 215.3 207.3 217 206.8C218.7 206.4 220.3 206.1 222 205.7C223.7 205.4 225.3 205.1 227 204.8C228.7 204.5 230.5 204.2 232 204C233.5 203.8 234.8 203.6 236 203.5C237.2 203.4 238.5 189.9 239 203.5C239.5 217.1 275.7 271.4 239 285C202.3 298.6 55.7 296.8 19 285Z" fill="#2400d8" />
<path d="M206.5 228C206.8 227 208.2 226.8 209 227C209.8 227.2 211.1 228 211.3 229C211.6 230 211.2 232.3 210.5 233C209.8 233.7 207.7 233.8 207 233C206.3 232.2 206.2 229 206.5 228Z" fill="#181cf7" />
<path d="M213.8 214.2C214.1 213.6 215.3 213.5 216 213.8C216.7 214.1 217.9 215.2 218 216C218.1 216.8 217.2 218.2 216.5 218.5C215.8 218.8 214.4 218.2 214 217.5C213.6 216.8 213.5 214.8 213.8 214.2Z" fill="#181cf7" />
<path d="M179.6 112.6L183.6 120.9L184.4 127.7L189 136L194.4 140.1L199.7 144.2L200.5 146.9L205.1 149.7L213.1 147.8L221.2 145.6L221.7 149.7L215.8 159.3L211.8 166.2L202.4 174.4L195.7 183.4L191.7 189.5L189 196.3L190.3 203.2L193 211.4L193 219.7L183.6 227.3L178.3 233.4L179.6 243L172.9 248.5L172.4 255.3L167.5 260.8L159.5 269.1L152.8 271.8L143.4 272.3L138 274L133.7 271.8L132.7 266.3L128.7 258.1L124.6 251.2L123.3 240.2L116.6 227.9L116.6 222.4L120.6 212.8L119.3 203.2L116.6 193.6L111.2 186.7L108.5 180.7L109.9 174.4L110.4 168.9L107.2 166.2L101.8 166.7L96.5 161.5L89.8 161.2L81.7 164.2L76.4 164.8L71 164.5L64.3 166.4L58.9 162L52.2 157.4L48.7 153L44.2 148.3L39.3 144.2L39.3 138.7L37.5 138.2L40.1 133.2L41 126.4L38.8 120.9L41.5 114L45.5 107.2M216.6 211.4L219.3 221L217.2 226.5L214.5 234.8L211.3 245.7L206.4 248.5L202.4 245.7L201.1 238.9L203.2 232L203.7 223.2L209.1 221L213.1 215.5L216.6 211.4M183.6 109.9L189 119.5L194.4 129.1L198.9 137.3L200.5 143.7L205.1 143.4L213.1 140.1L223.9 134.6L231.9 130.5L237.3 126.4L244.8 116.8" fill="none" stroke="#808080" stroke-width="0.5" stroke-linejoin="round"/>
<path d="M52.2 107.2L52.2 114L49.5 115.4L49.5 120.1L38.8 120.1M67 109.9L69.6 133.2L70.2 136L58.9 136.2L53.6 136L51.7 137.9L45.5 132.9L40.1 134.3M71.5 109.9L87.6 120.9L93 124.2L93 126.4L95.7 125.8L95.7 133.2L93.8 136L85.7 137.3L83.1 137.3L79 139.5L75 142L72.9 143.7L70.2 146.1L69.6 150L62.9 150.2L61.1 148.3L58.9 145L53.8 145L51.7 137.9M93 124.2L100.5 125L104.5 121.4L116.6 114M111.2 111.3L116.6 114L122.5 116.5L124.6 115.4L148.8 125L148.8 123.6L151.4 123.6L151.4 91.8M151.4 118.1L168.9 118.1L173.4 118.1L183.4 118.1M124.6 115.4L126 120.9L126.2 127.7L126 132.1L120.9 138.7L120.6 140.9L122.2 142.8L122.5 144.5M148.8 125L148.8 135.4L145.8 136L144.2 142.8L145.8 148.3L145 148.6M94.1 146.4L95.1 141.5L101.8 140.9L105.9 142.3L111.2 142L117.9 142.3L120.9 140.9M69.6 150L76.9 152.4L76.6 148.3L83.1 148.3L86.8 148.3L88.4 146.9L90.8 145.8L90.3 143.9L86.8 142.3L84.9 137.6M76.9 152.4L75.8 159.8L76.6 164.5M86.8 148.3L85.7 155.2L87.6 161.8M94.1 146.4L91.9 153.8L91.6 160.9M62.9 150.2L62.1 157.6L64.3 162L64.3 166.4M48.7 153.5L54.9 151.1L56.8 155.2L53.6 159.6M39.3 141.2L44.2 140.6L47.4 141.7L44.2 142.3L39.3 142.6M39.6 144.5L47.7 143.7L53.8 145M44.2 148.3L47.7 146.4L47.7 143.7M107.2 165.6L109.3 160.7L113.9 160.1L117.1 155.2L121.4 148.3L122.5 144.5L123.6 143.7M123.6 143.7L124.6 151.1L121.7 151.9L126 157.9L123.3 162L123.6 166.2L127.8 172.5M110.7 172.2L120.1 172.5L127.8 172.5M114.2 189.2L116 185.1L123 184L121.9 174.7L120.1 172.5M117.1 194.4L121.9 191.7L127.3 188.1L131.9 179.9L134.3 168.9L134 166.2L136.7 164.5L144.7 167.2L151.4 164.8L157.9 164.5M126 157.9L134 156.3L140.7 152.4L145 148.6L147.7 153.8L150.1 155.2L157.9 164.5M150.1 155.2L154.1 150.5L159.5 152.7L167.5 151.6L172.9 149.1L173.7 145.6L175.6 152.4L172.9 157.1L180.7 165.9M157.9 164.5L164.9 167.8L167.5 168.6L175.6 167L180.7 165.9M182.3 139.3L181.5 144.2L178 148.9L175.6 152.4M182.3 139.3L186 137.9L191.7 138.7L198.1 144.2L200 143.7M200 146.9L199.2 148.6L202.4 153.8L210.5 156.5L213.1 156.5L205.1 164.8L197 167L194.4 167.8M180.7 165.9L182.3 166.4L186.3 168.6L190.3 168.9L194.4 167.8L194.4 180.7L195.7 183.2M175.6 181.2L185.2 186.7L189.5 191.4M167.5 168.6L168.1 172.5L164.1 176.3L163.8 182.3L166.2 181.5L175.6 181.2L175.6 178L178.3 173.6L175.6 167M163.8 182.3L162.2 185.9L163 190.6L167 187.6L167 184.8L166.2 181.5M163 190.6L164.1 196.3L167 201.3L172.6 204.3L175.6 204.6L177.5 210.1L185.8 210.1L192.8 207.3M172.6 204.3L173.7 212.8L172.1 215.8L176.9 218L180.4 222.4L178.8 225.4L176.7 222.4L176.7 218M167 201.3L160.8 201.8L161.1 208.7L162.2 215.3L157.4 210.9L152.5 209.8L148.8 208.7L148.8 214.2L143.4 214.2L143.4 223L147.2 226.8L152.3 227.3L156.8 227.9L161.9 222.1L165.9 221.3L165.4 219.1L173.4 216.9M117.1 194.4L119.3 194.7L128.9 194.7L131.9 200.7L136.4 200.5L142.9 198.5L143.4 208.7L148.8 208.7M116 226L121.9 226.2L134 226.2L140.7 227.6L147.2 226.8M140.7 227.6L140.7 238.9L138 238.9L138 256.4L130 255.6L128.7 257M152.3 227.3L154.7 232.3L158.7 236.4L163.3 239.4L156.8 243.3L153.1 248.7L146.1 247.9L140.2 252L138 246.6M156.8 227.9L165.9 221.3L172.6 224.3L172.4 232L171.3 236.9L168.3 240L163.3 239.4M168.3 240L170.2 245.7L170 249.3L170.5 252L172.6 252.3M156.8 259.7L160 257.3L163.3 259.2L160.6 262.5L157.9 261.6L156.8 259.7M167.5 249.8L170.2 249.8L170.5 252L168.3 253.4L167 252L167.5 249.8M199.2 133.5L202.4 130.8L210.5 131.9L215.8 127.5L223.9 126.4L226.8 132.7M223.9 126.4L231.9 123.6L233.5 118.1L232.4 116.2L235.4 110.2M222.8 112.1L225.5 115.7L232.4 116.2" fill="none" stroke="#808080" stroke-width="0.42" stroke-linejoin="round"/>
<path d="M84.4 119.0V280.3M218.5 119.0V280.3M22.4 123.6H234.8M22.4 151.1H234.8M22.4 178.5H234.8M22.4 205.9H234.8M22.4 233.4H234.8M22.4 260.8H234.8" fill="none" stroke="#888" stroke-opacity="0.3" stroke-width="0.35" stroke-dasharray="0.5 0.9"/>
</g>
<rect x="22.4" y="119.0" width="212.4" height="161.3" fill="none" stroke="#222" stroke-width="0.6"/>
<g clip-path="url(#cpd)">
<rect x="259" y="146" width="219" height="107" fill="#f72735"/>
<path d="M255.2 141.3C269.5 135.1 326.3 138.9 340.1 141.2C353.9 143.6 338.9 152 337.8 155.5C336.8 159 334.7 160.4 333.8 162.2C332.9 163.9 332.2 165.3 332.5 165.9C332.7 166.4 333.2 165.1 335.3 165.4C337.5 165.8 342 167 345.4 168C348.8 168.9 352.5 169.6 355.6 171C358.8 172.5 363.1 174.5 364.3 176.5C365.4 178.5 364.8 181.5 362.8 182.9C360.8 184.3 356 184.6 352.2 185.1C348.4 185.5 343.3 185.6 340 185.6C336.7 185.6 335.6 185.5 332.6 185.1C329.6 184.7 325 183.1 321.8 183.1C318.6 183.2 316.5 184.8 313.3 185.3C310 185.9 305.9 186 302.2 186.4C298.5 186.8 294.7 187.5 291 187.5C287.3 187.5 283.1 187 279.7 186.4C276.4 185.8 273.7 185.1 270.7 184.2C267.8 183.2 264.7 181.8 261.9 180.9C259.2 179.9 255.4 184.9 254.2 178.3C253.1 171.7 240.9 147.5 255.2 141.3Z" fill="#d8152f" />
<path d="M336 140C338.2 136.7 344 137.3 345.5 140C347 142.7 345.6 151.7 345 156C344.4 160.3 341.8 163.3 342 166C342.2 168.7 343.7 170.3 346 172C348.3 173.7 353.7 174.3 356 176C358.3 177.7 361 180.3 360 182C359 183.7 353.7 185.7 350 186C346.3 186.3 341.3 185.7 338 184C334.7 182.3 331 180 330 176C329 172 331 166 332 160C333 154 333.8 143.3 336 140Z" fill="#d8152f" />
<path d="M255.8 142.8C269.8 136.9 326.4 140.8 339.8 142.8C353.3 144.8 337.6 151.8 336.3 154.9C335.1 158 333.2 159.6 332.4 161.5C331.5 163.4 330.6 165.6 331 166.6C331.5 167.5 332.7 166.5 335 167C337.3 167.5 341.7 168.6 345 169.5C348.3 170.4 352 171.2 355 172.5C358 173.8 361.8 176 363 177.5C364.2 179 363.8 180.5 362 181.5C360.2 182.5 355.7 183.1 352 183.5C348.3 183.9 343.2 184 340 184C336.8 184 335.8 183.9 332.8 183.5C329.8 183.1 325.1 181.5 321.8 181.5C318.5 181.6 316.3 183.2 313 183.7C309.7 184.3 305.7 184.5 302 184.8C298.3 185.2 294.7 185.9 291 185.9C287.3 185.9 283.3 185.4 280 184.8C276.7 184.3 274.1 183.5 271.2 182.6C268.3 181.7 265 180.1 262.4 179.3C259.8 178.6 256.9 184.1 255.8 178C254.7 171.9 241.8 148.7 255.8 142.8Z" fill="#a50021" />
<path d="M467.5 140C469.7 138.7 477.9 133.7 480 140C482.1 146.3 483 170.7 480 178C477 185.3 465.6 183.5 462 184C458.4 184.5 458.4 183 458.5 181C458.6 179 461.4 175.3 462.5 172C463.6 168.7 464.2 165 465 161C465.8 157 466.6 151.5 467 148C467.4 144.5 465.3 141.3 467.5 140Z" fill="#d8152f" />
<path d="M335.4 206.9C337 204.8 342.6 201.9 345.7 202.1C348.9 202.3 351.9 206.7 354.2 208.1C356.4 209.5 357.8 210.5 359.1 210.5C360.3 210.5 361.3 209.3 361.8 208.3C362.3 207.3 361.9 206.2 362 204.7C362.2 203.1 362 201.1 362.7 199.2C363.5 197.4 364.9 195 366.5 193.6C368.1 192.1 370.3 191.3 372.3 190.6C374.3 189.9 376.3 189.8 378.3 189.5C380.3 189.3 382.2 188.9 384.3 189C386.4 189.1 388.7 189.5 390.7 190.2C392.8 190.9 394.4 192.5 396.7 193.2C398.9 193.9 401.8 194.5 404.5 194.6C407.1 194.7 409.2 194.2 412.4 193.5C415.5 192.9 420.1 191.8 423.3 190.8C426.5 189.8 428.6 188.4 431.7 187.3C434.7 186.3 438.1 184.7 441.6 184.5C445.1 184.2 449.4 186.2 452.7 185.9C456 185.5 458.9 183.3 461.2 182.3C463.6 181.4 463.2 181.6 466.8 180.3C470.4 178.9 479.5 175.7 482.9 174C486.3 172.3 486.7 155.6 487.2 169.9C487.7 184.2 509.7 245.4 486.1 259.9C462.6 274.3 371.3 258.6 345.8 256.6C320.4 254.6 336.3 250.5 333.5 247.6C330.6 244.7 329.1 242.4 328.5 239.5C327.8 236.5 328.8 232.8 329.6 229.7C330.3 226.5 331.9 223.1 333 220.5C334.1 218 335.7 216.7 336.1 214.4C336.5 212.2 333.8 209 335.4 206.9Z" fill="#d8152f" />
<path d="M337.2 208.2C338.5 206.4 343.1 204.6 346 204.2C348.9 203.9 352.5 205.3 354.8 206C357.1 206.7 358.6 207.8 360 208.5C361.4 209.2 362.5 210.6 363.2 210C363.9 209.4 363.9 206.7 364.2 205C364.5 203.3 364.2 201.6 364.8 200C365.4 198.4 366.6 196.4 368 195.2C369.4 194 371.2 193.3 373 192.7C374.8 192.1 376.7 191.9 378.6 191.7C380.5 191.4 382.3 191.1 384.2 191.2C386.1 191.3 388 191.6 390 192.3C392 193 393.6 194.6 396 195.3C398.4 196.1 401.6 196.7 404.4 196.8C407.2 196.9 409.5 196.3 412.8 195.7C416.1 195 420.7 193.9 424 192.9C427.3 191.9 429.4 190.5 432.4 189.4C435.4 188.3 438.9 187.5 442.2 186.6C445.5 185.7 449 184.9 452 183.8C455 182.8 458.1 181.2 460.4 180.3C462.7 179.4 462.4 179.6 466 178.2C469.6 176.8 478.8 173.4 482 172C485.2 170.6 484.5 155.7 485 170C485.5 184.3 508.2 243.9 485 258C461.8 272.1 371 256.4 346 254.4C321 252.4 337.6 248.6 335 246C332.4 243.5 331.2 241.6 330.6 239C330.1 236.4 331 233.1 331.7 230.2C332.4 227.3 333.9 224 335 221.4C336.1 218.8 337.9 217 338.3 214.8C338.7 212.6 335.9 210 337.2 208.2Z" fill="#a50021" />
<path d="M330.4 207.9C333.7 205 341.9 206.2 348.1 206.2C354.2 206.2 363.8 205 367.3 207.9C370.8 210.7 375.3 220.5 368.9 223.1C362.5 225.6 335.3 225.6 328.8 223.1C322.4 220.5 327.2 210.7 330.4 207.9Z" fill="#d8152f" />
<path d="M440.6 142.8C445.7 140.2 466.8 140.2 471.4 142.8C476 145.4 469.9 153.8 468.1 158.2C466.3 162.6 463.2 166.3 460.4 169.2C457.7 172.1 454.9 173.8 451.6 175.8C448.3 177.8 444.3 179.8 440.6 181.3C436.9 182.8 430.7 186.3 429.6 184.6C428.5 183 432.2 175.8 434 171.4C435.8 167 439.5 163 440.6 158.2C441.7 153.4 435.5 145.4 440.6 142.8Z" fill="#f72735" />
<path d="M258 253C244.7 252.2 259.9 251.8 262 250.5C264.1 249.2 267.4 246.6 270.4 245.1C273.4 243.6 276.9 243.1 280.2 241.6C283.5 240.1 286.7 237.8 290 236C293.3 234.2 296.8 232.5 299.8 231.1C302.8 229.7 306.1 228.9 308.2 227.6C310.3 226.3 310.8 224.3 312.4 223.4C314 222.5 315.9 221.6 318 222C320.1 222.4 322.7 223.8 325 226C327.3 228.2 330.2 231.7 332 235C333.8 238.3 334.3 242.7 336 246C337.7 249.3 355 253.8 342 255C329 256.2 271.3 253.8 258 253Z" fill="#d8152f" />
<path d="M275 187C278.2 185.7 289.9 185.1 293.2 186.3C296.5 187.5 295.3 191.6 294.6 194C293.9 196.5 291.6 200.1 289 201C286.4 201.9 281.7 200.8 279.2 199.6C276.8 198.4 275 196.1 274.3 194C273.6 191.9 271.9 188.3 275 187Z" fill="#d8152f" />
<path d="M258 188C259.7 179.1 265.2 185.8 268 186.5C270.8 187.2 272.5 189.9 275 192C277.5 194.1 279.7 197.5 283 199C286.3 200.5 292.2 201.5 295 201C297.8 200.5 298.2 197.5 300 196C301.8 194.5 304 192.7 306 192C308 191.3 310 191.3 312 192C314 192.7 317.3 193.8 318 196C318.7 198.2 317 202.2 316 205C315 207.8 313.1 211.1 312 213C310.9 214.9 310.9 215.1 309.6 216.4C308.3 217.7 307.3 218.8 304 220.6C300.7 222.3 294.7 224.8 290 226.9C285.3 229 281.3 231 276 233.2C270.7 235.4 261 247.5 258 240C255 232.5 256.3 196.9 258 188Z" fill="#ff3d3d" />
<path d="M258 214C259.3 210.8 263.7 213 266 212C268.3 211 269.7 208.5 272 208C274.3 207.5 277 209 280 209C283 209 286.7 208.8 290 208C293.3 207.2 297 204.3 300 204C303 203.7 306.3 205 308 206C309.7 207 310.3 208.8 310 210C309.7 211.2 307.9 211.9 306 213C304.1 214.1 301.1 215.1 298.4 216.4C295.7 217.7 293 219.2 290 220.6C287 222 283.5 223.4 280.2 224.8C276.9 226.2 274.1 227.9 270.4 229C266.7 230.1 260.1 234 258 231.5C255.9 229 256.7 217.2 258 214Z" fill="#ff7856" />
<path d="M258 217C259.3 214.7 263.5 215.9 266 215C268.5 214.1 270.3 212 273 211.5C275.7 211 278.8 212.1 282 212C285.2 211.9 289.3 211 292 211C294.7 211 298.3 211 298 212C297.7 213 292.5 215.7 290 217.1C287.5 218.5 286 219.3 283 220.6C280 221.9 276 223.4 271.8 224.8C267.6 226.2 260.3 230.3 258 229C255.7 227.7 256.7 219.3 258 217Z" fill="#ffac75" />
<path d="M258 218.5C259.3 216.8 263.5 217.9 266 218.3C268.5 218.7 271.7 219.9 273 220.8C274.3 221.8 274.6 222.9 273.8 224C273.1 225.1 271.1 226.5 268.5 227.3C265.9 228.1 259.8 230.1 258 228.6C256.2 227.1 256.7 220.2 258 218.5Z" fill="#ffd699" />
<path d="M258 219.5C259.3 218.1 263.7 219.2 266 219.5C268.3 219.8 270.9 220.8 272 221.5C273.1 222.2 273.2 223.2 272.5 224C271.8 224.8 270.4 225.8 268 226.5C265.6 227.2 259.7 229.2 258 228C256.3 226.8 256.7 220.9 258 219.5Z" fill="#fff1bc" />
<path d="M266.6 193.4C267.7 193.1 269.9 194.6 271.6 195.4C273.2 196.3 275 197.8 276.6 198.8C278.2 199.7 279.7 200.5 281.4 201.2C283.2 201.9 285.5 202.5 287.3 203.1C289.2 203.6 291.8 203.7 292.6 204.6C293.5 205.5 293.5 207.8 292.4 208.5C291.3 209.2 288.2 208.9 286 208.8C283.7 208.7 280.9 208.7 278.7 208.2C276.5 207.6 274.6 206.6 272.8 205.5C271.1 204.4 269.5 202.8 268.1 201.3C266.8 199.9 264.9 198.3 264.7 197C264.4 195.6 265.5 193.7 266.6 193.4Z" fill="#ff7856" />
<path d="M266.6 194.6C267.5 194.6 269.4 195.6 271 196.5C272.6 197.4 274.3 198.8 276 199.8C277.7 200.8 279.2 201.6 281 202.3C282.8 203 285.2 203.6 287 204.2C288.8 204.8 291.2 205.1 292 205.6C292.8 206.1 293 207.1 292 207.4C291 207.7 288.2 207.7 286 207.6C283.8 207.5 281.1 207.5 279 207C276.9 206.5 275.2 205.6 273.5 204.5C271.8 203.4 270.3 201.8 269 200.5C267.7 199.2 266.2 197.5 265.8 196.5C265.4 195.5 265.7 194.6 266.6 194.6Z" fill="#ffac75" />
<path d="M271.5 199C271.9 198.5 274.4 199.9 276 200.6C277.6 201.3 279.7 202.5 281 203.3C282.3 204.1 283.8 204.8 284 205.3C284.2 205.9 283.1 206.5 282 206.6C280.9 206.7 278.9 206.5 277.5 206C276.1 205.5 274.8 204.7 273.8 203.5C272.8 202.3 271.1 199.5 271.5 199Z" fill="#ffd699" />
<path d="M273 200.5C273.4 200.1 275.6 200.6 277 201.2C278.4 201.8 280.6 203.2 281.5 204C282.4 204.8 283.1 205.5 282.5 205.8C281.9 206.1 279.3 206.2 278 205.9C276.7 205.6 275.3 204.7 274.5 203.8C273.7 202.9 272.6 200.9 273 200.5Z" fill="#fff1bc" />
<path d="M259.6 188.4C260.5 184.2 263.9 188.4 265.2 189.8C266.5 191.2 267.1 194.2 267.3 196.8C267.5 199.4 266.3 202.6 266.6 205.2C267 207.8 270.6 210.6 269.4 212.2C268.2 213.8 261.2 219 259.6 215C258 211 258.7 192.6 259.6 188.4Z" fill="#ff7856" />
<path d="M339.8 142.8C346.1 140.2 367 138.4 372.4 142.8C377.8 147.2 374.2 165.2 372.4 169.2C370.6 173.2 365.1 167.7 361.4 167C357.7 166.3 353.7 165.7 350.4 164.8C347.1 163.9 344.2 162.6 341.6 161.5C339 160.4 335.3 161.3 335 158.2C334.7 155.1 333.6 145.4 339.8 142.8Z" fill="#f72735" />
<path d="M352.5 140C355.8 137 368.8 136.7 372 140C375.2 143.3 372.5 155.3 372 160C371.5 164.7 370.3 165.8 369 168C367.7 170.2 365.8 172.4 364 173C362.2 173.6 360 172.2 358 171.5C356 170.8 352.9 170.8 352 168.5C351.1 166.2 352.4 162.8 352.5 158C352.6 153.2 349.2 143 352.5 140Z" fill="#ff3d3d" />
<path d="M365.8 142.8C370.2 138.4 388.2 141 392.2 142.8C396.2 144.6 391.8 150.7 390 153.8C388.2 156.9 384.1 159.3 381.2 161.5C378.3 163.7 375 165.7 372.4 167C369.8 168.3 366.9 173.2 365.8 169.2C364.7 165.2 361.4 147.2 365.8 142.8Z" fill="#ff7856" />
<path d="M372.4 145C375.7 141.9 389.5 143.3 392.2 145C395 146.7 390.9 152.2 388.9 154.9C386.9 157.7 382.9 160 380.1 161.5C377.4 163 373.7 166.5 372.4 163.7C371.1 161 369.1 148.1 372.4 145Z" fill="#ffac75" />
<path d="M296.4 198.6C298.3 196.1 304 195.2 308.3 194.7C312.7 194.1 317.9 194.2 322.5 195.4C327.2 196.6 334.1 198.9 336.2 201.9C338.4 204.8 336.9 210 335.4 213C333.9 216 330.5 218.7 327.1 219.9C323.7 221 318.6 220.6 314.7 220C310.9 219.4 306.8 218 303.8 216.3C300.9 214.6 298.4 212.5 297.1 209.5C295.9 206.6 294.5 201.1 296.4 198.6Z" fill="#ff7856" />
<path d="M297.2 199.2C298.9 197 304.2 196.1 308.4 195.6C312.6 195.2 317.8 195.2 322.3 196.4C326.8 197.5 333.4 199.8 335.4 202.5C337.5 205.2 336 209.8 334.5 212.5C333.1 215.2 330.1 217.8 326.8 218.9C323.5 220 318.6 219.6 314.9 219C311.1 218.4 307.1 217.1 304.3 215.4C301.5 213.8 299.2 211.8 298 209.1C296.8 206.4 295.4 201.5 297.2 199.2Z" fill="#ffac75" />
<path d="M297.9 199.9C299.5 197.9 304.5 197.1 308.5 196.6C312.5 196.2 317.7 196.2 322 197.3C326.4 198.4 332.7 200.7 334.7 203.2C336.6 205.6 335 209.5 333.7 212C332.3 214.5 329.6 217 326.5 218C323.4 219 318.7 218.6 315 218C311.4 217.4 307.5 216.1 304.8 214.6C302.1 213 300.1 211.1 298.9 208.6C297.8 206.2 296.3 201.9 297.9 199.9Z" fill="#ffd699" />
<path d="M298.7 200.5C300.2 198.7 304.8 198 308.6 197.6C312.5 197.3 317.6 197.3 321.8 198.3C326 199.3 332.1 201.6 333.9 203.8C335.7 206 334.1 209.3 332.8 211.5C331.5 213.7 329.1 216.1 326.2 217C323.3 217.9 318.7 217.6 315.2 217C311.7 216.5 307.9 215.2 305.3 213.7C302.7 212.2 300.9 210.4 299.8 208.2C298.7 206 297.2 202.3 298.7 200.5Z" fill="#fff1bc" />
<path d="M305.3 202.7C306.8 201.4 311.4 200.3 315.2 200.5C319.1 200.7 326 202.2 328.4 203.8C330.8 205.5 330.6 208.8 329.5 210.4C328.4 212.1 324.9 213.3 321.8 213.7C318.7 214.1 313.4 213.5 310.8 212.6C308.2 211.7 306.9 209.9 306 208.2C305 206.6 303.8 204 305.3 202.7Z" fill="#ffffea" />
<path d="M294.9 192.6C297.1 190.8 303.7 190 306.4 190.9C309.1 191.8 310.9 195.4 311.1 198.1C311.3 200.8 309.8 205.3 307.6 206.9C305.4 208.5 300.5 208.8 298.2 207.9C295.8 206.9 293.8 204 293.3 201.4C292.7 198.9 292.7 194.3 294.9 192.6Z" fill="#ff7856" />
<path d="M295.5 193.3C297.4 191.7 303.6 190.9 306.1 191.7C308.5 192.6 310.1 195.7 310.2 198.2C310.4 200.6 309 204.7 307.1 206.2C305.1 207.7 300.6 207.9 298.5 207C296.3 206.2 294.7 203.5 294.2 201.2C293.7 198.9 293.5 194.9 295.5 193.3Z" fill="#ffac75" />
<path d="M296 194C297.8 192.6 303.6 191.9 305.8 192.6C308 193.3 309.2 196.1 309.3 198.2C309.4 200.4 308.3 204.2 306.5 205.5C304.8 206.8 300.7 206.9 298.8 206.2C296.9 205.4 295.5 203 295 201C294.6 199 294.2 195.4 296 194Z" fill="#fff1bc" />
<path d="M306.9 190.3C308 188.3 314.3 187.1 318.5 185.8C322.6 184.5 325.4 183.3 331.6 182.3C337.8 181.4 349.3 181.2 355.7 180.3C362.1 179.3 367.4 177.3 369.9 176.8C372.3 176.3 369.1 177.7 370.2 177C371.3 176.4 373.9 174.3 376.2 172.7C378.6 171.2 382.5 170.3 384.3 167.8C386.1 165.4 386.9 162 387 157.9C387.2 153.7 379 146 385.1 143C391.2 140.1 416.3 138.3 423.6 140.1C430.9 141.9 428.7 149.9 428.9 153.8C429.1 157.6 426.2 160.6 424.8 163.3C423.3 166 422 167.8 420.1 170C418.1 172.3 415.9 174.7 413.2 176.7C410.5 178.8 407.1 181.1 404.1 182.5C401.1 183.9 397.7 184.2 395.1 184.9C392.6 185.7 390.9 186 388.7 187.1C386.6 188.2 384.5 190 382.3 191.5C380.1 193 377.8 194.8 375.5 195.9C373.2 197 369.7 197.5 368.5 198.1C367.2 198.7 368.5 197.9 368.1 199.5C367.6 201.2 367.8 206 365.8 207.9C363.9 209.8 359 210.8 356.4 210.9C353.9 211 352.4 209.4 350.7 208.5C349 207.6 348.3 205.7 346.3 205.3C344.2 204.9 341.4 206.3 338.4 206.1C335.5 206 331.9 205.2 328.6 204.5C325.4 203.9 321.7 203.2 318.8 202.1C316 201 313.7 200 311.7 198C309.7 196.1 305.7 192.4 306.9 190.3Z" fill="#ff7856" />
<path d="M307.3 190.6C308.4 188.7 314.6 187.7 318.6 186.4C322.7 185.1 325.5 183.8 331.7 182.9C337.9 182 349.4 181.8 355.8 180.8C362.2 179.9 367.5 177.9 370 177.4C372.5 176.8 369.4 178.2 370.5 177.5C371.6 176.8 374.4 174.7 376.6 173.1C378.9 171.5 382.3 170.3 384 167.7C385.7 165.2 386.5 161.8 386.7 157.8C386.9 153.8 379.2 146.5 385.3 143.6C391.4 140.7 416.2 139 423.4 140.7C430.6 142.4 428.3 150 428.5 153.8C428.7 157.5 425.9 160.5 424.5 163.1C423.1 165.8 421.8 167.6 419.9 169.9C417.9 172.1 415.7 174.5 413 176.5C410.4 178.6 407 180.9 404 182.3C401 183.7 397.6 184 395.1 184.7C392.5 185.5 390.8 185.8 388.6 186.9C386.5 188 384.4 189.8 382.2 191.3C379.9 192.8 377.7 194.6 375.4 195.7C373.1 196.8 369.7 197.3 368.4 197.9C367.1 198.5 368.2 197.8 367.7 199.4C367.3 201.1 367.5 205.9 365.7 207.7C363.8 209.6 358.9 210.6 356.4 210.7C354 210.8 352.5 209.2 350.8 208.3C349.2 207.4 348.4 205.5 346.3 205.1C344.3 204.7 341.4 206.1 338.4 205.9C335.5 205.8 331.9 205 328.7 204.3C325.4 203.7 321.7 203 318.9 201.9C316.1 200.8 313.8 199.7 311.8 197.8C309.9 196 306.2 192.6 307.3 190.6Z" fill="#ffac75" />
<path d="M307.7 191C308.8 189.2 314.8 188.2 318.8 186.9C322.8 185.7 325.6 184.4 331.8 183.5C338 182.6 349.5 182.4 355.9 181.4C362.2 180.5 367.6 178.5 370.1 177.9C372.6 177.4 369.7 178.7 370.8 178C372 177.2 374.9 175.2 377 173.5C379.2 171.7 382.2 170.2 383.7 167.6C385.3 165 386 161.7 386.3 157.8C386.6 153.9 379.3 146.9 385.5 144.1C391.7 141.4 416.2 139.6 423.3 141.2C430.4 142.8 427.9 150.1 428.1 153.8C428.2 157.4 425.6 160.3 424.2 163C422.8 165.7 421.5 167.5 419.6 169.7C417.8 171.9 415.5 174.3 412.9 176.4C410.3 178.4 406.9 180.7 403.9 182.1C400.9 183.5 397.6 183.8 395 184.5C392.5 185.3 390.7 185.6 388.5 186.7C386.4 187.8 384.2 189.6 382 191.1C379.8 192.6 377.6 194.4 375.3 195.5C373 196.6 369.6 197.1 368.3 197.7C367 198.4 367.9 197.7 367.4 199.3C366.9 201 367.3 205.7 365.5 207.6C363.6 209.4 358.8 210.4 356.4 210.5C354 210.6 352.6 209 351 208.1C349.3 207.2 348.4 205.3 346.4 204.9C344.3 204.5 341.4 205.9 338.4 205.7C335.5 205.6 332 204.8 328.7 204.1C325.5 203.5 321.8 202.8 319 201.7C316.2 200.6 313.9 199.4 312 197.7C310.1 195.9 306.6 192.7 307.7 191Z" fill="#ffd699" />
<path d="M308.1 191.3C309.2 189.6 315 188.7 319 187.5C322.9 186.3 325.7 185 331.9 184.1C338.1 183.2 349.6 183 355.9 182C362.3 181.1 367.7 179.1 370.3 178.5C372.8 177.9 370 179.2 371.1 178.5C372.3 177.7 375.4 175.7 377.4 173.8C379.5 172 382 170.1 383.4 167.5C384.8 164.8 385.6 161.5 385.9 157.7C386.3 153.9 379.5 147.3 385.7 144.7C391.9 142 416.2 140.3 423.2 141.8C430.2 143.3 427.5 150.3 427.7 153.8C427.8 157.3 425.3 160.2 423.9 162.9C422.6 165.5 421.3 167.3 419.4 169.5C417.6 171.7 415.3 174.1 412.7 176.2C410.1 178.2 406.8 180.5 403.8 181.9C400.9 183.3 397.5 183.6 395 184.3C392.4 185.1 390.6 185.4 388.4 186.5C386.3 187.6 384.1 189.5 381.9 190.9C379.7 192.4 377.5 194.2 375.2 195.3C372.9 196.4 369.5 196.9 368.2 197.5C366.8 198.2 367.6 197.6 367.1 199.2C366.6 200.9 367 205.5 365.3 207.4C363.5 209.2 358.8 210.2 356.4 210.3C354.1 210.4 352.7 208.8 351.1 207.9C349.4 207 348.5 205.1 346.4 204.7C344.3 204.3 341.4 205.7 338.4 205.5C335.5 205.4 332 204.6 328.8 203.9C325.5 203.3 321.8 202.6 319.1 201.5C316.3 200.4 314 199.2 312.2 197.5C310.4 195.8 307 192.9 308.1 191.3Z" fill="#fff1bc" />
<path d="M308.5 191.6C309.6 190 315.2 189.1 319.1 188C323 186.8 325.8 185.5 332 184.6C338.1 183.7 349.6 183.5 356 182.5C362.4 181.6 367.8 179.6 370.4 179C373 178.4 370.2 179.7 371.4 178.9C372.6 178 375.8 176.1 377.7 174.1C379.7 172.2 381.8 170.1 383.2 167.3C384.5 164.6 385.2 161.4 385.6 157.7C386.1 154 379.7 147.7 385.9 145.1C392.2 142.6 416.2 140.9 423.1 142.3C430 143.8 427.2 150.4 427.3 153.8C427.4 157.2 425 160.1 423.7 162.7C422.3 165.3 421.1 167.2 419.2 169.4C417.4 171.6 415.2 173.9 412.6 176C410 178 406.7 180.4 403.7 181.7C400.8 183.1 397.5 183.4 394.9 184.1C392.3 184.9 390.5 185.2 388.3 186.3C386.1 187.4 384 189.3 381.8 190.7C379.6 192.2 377.4 194 375.1 195.1C372.9 196.2 369.5 196.7 368.1 197.3C366.7 198 367.3 197.5 366.8 199.1C366.3 200.8 366.8 205.4 365.1 207.2C363.4 209.1 358.7 210.1 356.4 210.1C354.1 210.2 352.8 208.7 351.2 207.7C349.5 206.8 348.6 204.9 346.4 204.5C344.3 204.1 341.4 205.5 338.5 205.3C335.5 205.2 332 204.4 328.8 203.7C325.6 203.1 321.9 202.4 319.2 201.3C316.4 200.2 314.1 198.9 312.3 197.3C310.6 195.7 307.3 193.1 308.5 191.6Z" fill="#ffffea" />
<path d="M459.5 140C470.8 141.3 459.8 144.5 459.5 148C459.2 151.5 458.2 157.2 457.5 161C456.8 164.8 456 167.8 455 171C454 174.2 453.2 177.2 451.5 180C449.8 182.8 447.9 185.2 445 187.5C442.1 189.8 438.7 192.2 434 193.5C429.3 194.8 422.2 195.2 417 195C411.8 194.8 406.2 194.4 403 192.5C399.8 190.6 399.8 185.8 398 183.5C396.2 181.2 393 186.2 392 179C391 171.8 380.8 146.5 392 140C403.2 133.5 448.2 138.7 459.5 140Z" fill="#ff3d3d" />
<path d="M441 140C449.2 141.3 441.2 144.5 441 148C440.8 151.5 440.2 157.2 440 161C439.8 164.8 440.2 168 440 171C439.8 174 439.7 176.3 439 179C438.3 181.7 437.8 184.8 436 187C434.2 189.2 431.7 191.6 428 192.5C424.3 193.4 418.2 192.9 414 192.5C409.8 192.1 405.7 191.5 403 190C400.3 188.5 399.8 185.3 398 183.5C396.2 181.7 393 186.2 392 179C391 171.8 383.8 146.5 392 140C400.2 133.5 432.8 138.7 441 140Z" fill="#ff7856" />
<path d="M433 140C439.8 141.3 433 144.5 433 148C433 151.5 432.8 157.2 433 161C433.2 164.8 433.8 168.2 434 171C434.2 173.8 434.8 175.5 434.5 178C434.2 180.5 433.6 183.9 432 186C430.4 188.1 428.3 189.8 425 190.5C421.7 191.2 415.7 190.9 412 190.5C408.3 190.1 405.3 189.2 403 188C400.7 186.8 399.8 185 398 183.5C396.2 182 393 186.2 392 179C391 171.8 385.2 146.5 392 140C398.8 133.5 426.2 138.7 433 140Z" fill="#ffac75" />
<path d="M426 140C431.7 141.3 425.8 144.5 426 148C426.2 151.5 426.2 157.2 427 161C427.8 164.8 429.7 168.3 430.5 171C431.3 173.7 432.2 174.7 432 177C431.8 179.3 431 183.1 429.5 185C428 186.9 425.9 187.9 423 188.5C420.1 189.1 415.2 188.9 412 188.5C408.8 188.1 406.3 186.8 404 186C401.7 185.2 400 184.7 398 183.5C396 182.3 393 186.2 392 179C391 171.8 386.3 146.5 392 140C397.7 133.5 420.3 138.7 426 140Z" fill="#ffd699" />
<path d="M422 140C427 141.3 421.8 144.5 422 148C422.2 151.5 421.9 157.2 423 161C424.1 164.8 427.3 168.5 428.5 171C429.7 173.5 430.2 173.8 430 176C429.8 178.2 428.7 182.2 427 184C425.3 185.8 422.8 186.6 420 187C417.2 187.4 412.7 186.9 410 186.5C407.3 186.1 406 185 404 184.5C402 184 400 184.4 398 183.5C396 182.6 393 186.2 392 179C391 171.8 387 146.5 392 140C397 133.5 417 138.7 422 140Z" fill="#fff1bc" />
<path d="M420 140C424.7 141.3 419.8 144.5 420 148C420.2 151.5 420.3 157.2 421 161C421.7 164.8 423.2 168.5 424 171C424.8 173.5 426.2 174.2 426 176C425.8 177.8 424.7 180.6 423 182C421.3 183.4 418.5 184.2 416 184.5C413.5 184.8 410.3 184.3 408 184C405.7 183.7 403.7 182.6 402 182.5C400.3 182.4 399.7 184.1 398 183.5C396.3 182.9 393 186.2 392 179C391 171.8 387.3 146.5 392 140C396.7 133.5 415.3 138.7 420 140Z" fill="#ffffea" />
<path d="M359.5 140C365.4 137.3 389.6 137 395 140C400.4 143 393.2 153.7 392 158C390.8 162.3 390 163.7 388 166C386 168.3 382.7 170.2 380 172C377.3 173.8 374.2 175.9 372 177C369.8 178.1 368.2 178.8 366.5 178.5C364.8 178.2 363.2 176.8 362 175C360.8 173.2 359.9 171.2 359.5 168C359.1 164.8 359.5 160.7 359.5 156C359.5 151.3 353.6 142.7 359.5 140Z" fill="#ff7856" />
<path d="M363.5 140C368.8 137.5 390.2 137 395 140C399.8 143 393.2 153.7 392 158C390.8 162.3 390 163.8 388 166C386 168.2 382.8 169.7 380 171.5C377.2 173.3 373.3 175.8 371 177C368.7 178.2 367.2 179.3 366 179C364.8 178.7 364 177.3 363.5 175C363 172.7 363 168.3 363 165C363 161.7 363.4 159.2 363.5 155C363.6 150.8 358.2 142.5 363.5 140Z" fill="#ffac75" />
<path d="M366 140C370.8 137.7 390.7 137 395 140C399.3 143 393.2 153.7 392 158C390.8 162.3 390 163.8 388 166C386 168.2 382.7 169.4 380 171C377.3 172.6 374.1 174.5 372 175.5C369.9 176.5 368.5 177.6 367.5 177C366.5 176.4 366.3 174.5 366 172C365.7 169.5 365.5 165 365.5 162C365.5 159 365.9 157.7 366 154C366.1 150.3 361.2 142.3 366 140Z" fill="#ffd699" />
<path d="M368.5 140C372.9 138 391.1 137 395 140C398.9 143 393.2 153.8 392 158C390.8 162.2 390 163.4 388 165.5C386 167.6 382.5 169 380 170.5C377.5 172 374.8 173.8 373 174.5C371.2 175.2 370.2 176.1 369.5 175C368.8 173.9 368.8 170.5 368.5 168C368.2 165.5 368 162.7 368 160C368 157.3 368.4 155.3 368.5 152C368.6 148.7 364.1 142 368.5 140Z" fill="#fff1bc" />
<path d="M371.5 140C375.5 137.3 391.6 137 395 140C398.4 143 393.2 153.8 392 158C390.8 162.2 389.8 163.1 388 165C386.2 166.9 383.2 168.2 381 169.5C378.8 170.8 376.5 172.2 375 172.5C373.5 172.8 372.7 172.4 372 171C371.3 169.6 371.2 166.5 371 164C370.8 161.5 370.9 160 371 156C371.1 152 367.5 142.7 371.5 140Z" fill="#ffffea" />
<path d="M308.8 191.8C309.9 190.4 315.4 189.6 319.2 188.5C323.1 187.3 325.9 186 332.1 185.1C338.2 184.2 349.7 183.9 356.1 183C362.5 182.1 367.9 180.1 370.5 179.5C373.1 178.9 370.4 180.1 371.7 179.2C372.9 178.4 376.2 176.4 378.1 174.4C379.9 172.4 381.7 170 382.9 167.2C384.1 164.4 384.8 161.2 385.3 157.6C385.8 154 379.8 148.1 386.1 145.6C392.4 143.1 416.2 141.4 423 142.8C429.8 144.2 426.9 150.5 427 153.8C427 157.1 424.8 160 423.4 162.6C422.1 165.2 420.9 167 419 169.2C417.2 171.4 415 173.7 412.4 175.8C409.9 177.9 406.6 180.2 403.6 181.5C400.7 182.9 397.4 183.2 394.8 183.9C392.3 184.7 390.4 185 388.2 186.1C386 187.2 383.8 189.1 381.6 190.5C379.4 192 377.3 193.8 375 194.9C372.8 196 369.4 196.5 368 197.1C366.6 197.8 367 197.4 366.5 199C366 200.7 366.6 205.2 364.9 207.1C363.2 208.9 358.7 209.9 356.4 209.9C354.1 210 352.9 208.5 351.3 207.5C349.6 206.6 348.6 204.7 346.5 204.3C344.3 203.9 341.4 205.3 338.5 205.1C335.5 205 332.1 204.2 328.8 203.5C325.6 202.9 322 202.2 319.2 201.1C316.5 200.1 314.2 198.7 312.5 197.1C310.8 195.6 307.7 193.3 308.8 191.8Z" fill="#eaffff" />
<path d="M418 140C422.5 141.3 417.8 144.5 418 148C418.2 151.5 419 157.2 419.5 161C420 164.8 420.6 168.7 421 171C421.4 173.3 422.5 173.7 422 175C421.5 176.3 420 177.9 418 179C416 180.1 412.5 181.1 410 181.5C407.5 181.9 405.3 181.1 403 181.5C400.7 181.9 398.5 183.2 396 184C393.5 184.8 390.8 185.8 388 186C385.2 186.2 380.5 188.5 379 185C377.5 181.5 377.2 169.8 379 165C380.8 160.2 388 160.2 390 156C392 151.8 386.3 142.7 391 140C395.7 137.3 413.5 138.7 418 140Z" fill="#eaffff" />
<path d="M392 140C396.1 137.2 412 138.7 416 140C420 141.3 415.5 144.5 416 148C416.5 151.5 419 157.7 419 161C419 164.3 417 166.3 416 168C415 169.7 413.8 169.7 413 171C412.2 172.3 412.2 174.7 411 176C409.8 177.3 407.8 178.1 406 179C404.2 179.9 401.7 180.8 400 181.5C398.3 182.2 398 182.3 396 183C394 183.7 390.7 185.2 388 185.5C385.3 185.8 383.7 182.7 380 185C376.3 187.3 368.6 195.4 366 199C363.4 202.7 366 205.1 364.4 206.7C362.8 208.4 358.5 209 356.4 209C354.3 209 353.2 207.6 351.6 206.7C350 205.9 349 204.2 346.8 203.8C344.6 203.5 341.5 204.6 338.5 204.5C335.5 204.3 332 203.5 328.8 202.9C325.7 202.2 322.1 201.7 319.6 200.6C317 199.6 313.4 198.7 313.6 196.8C313.8 194.9 317.8 191 320.8 189.1C323.9 187.2 327.5 186.4 332.1 185.6C336.6 184.7 342.7 184.4 348.1 184C353.4 183.5 360.1 183.7 364.1 183C368.1 182.3 370.2 180.4 372.1 179.8C374 179.2 373.6 180.5 375.7 179.2C377.7 178 381.9 174.6 384.5 172C387 169.5 389.7 166.6 390.9 164C392.1 161.5 391.4 160.6 391.5 156.6C391.7 152.6 387.9 142.8 392 140Z" fill="#bcf9ff" />
<path d="M360 184C361.3 182.3 365 181.4 368 180C371 178.6 374.3 177.2 378 175.5C381.7 173.8 386.3 171.7 390 170C393.7 168.3 397 166.8 400 165.5C403 164.2 406.3 162.1 408 162C409.7 161.9 410.8 163.7 410 165C409.2 166.3 405.7 168.3 403 170C400.3 171.7 397.2 173.3 394 175C390.8 176.7 387.3 178.3 384 180C380.7 181.7 377 183.5 374 185C371 186.5 368.3 188.2 366 189C363.7 189.8 361 190.8 360 190C359 189.2 358.7 185.7 360 184Z" fill="#99eaff" />
<path d="M380 176.5C381.2 175.2 387 173.3 390 172C393 170.7 396.5 168.7 398 168.5C399.5 168.3 400 169.9 399 171C398 172.1 394.7 173.6 392 175C389.3 176.4 385 179.2 383 179.5C381 179.8 378.8 177.8 380 176.5Z" fill="#75d3ff" />
<path d="M317.6 195.8C317.9 194.4 321.4 192.4 324 191C326.7 189.7 329.6 188.7 333.7 187.8C337.7 187 343.5 186.3 348.1 185.9C352.6 185.5 357.9 184.9 360.9 185.6C363.9 186.2 365.2 187.5 366 189.7C366.8 192 366.1 196.3 365.7 199C365.3 201.8 365.3 204.9 363.8 206.4C362.2 207.9 358.3 208.3 356.4 208C354.5 207.7 354.2 205.8 352.6 204.8C350.9 203.8 348.8 202.5 346.5 202.2C344.1 202 341.2 203.3 338.5 203.2C335.7 203.1 332.8 202.2 330.1 201.6C327.5 201 324.5 200.3 322.4 199.4C320.4 198.4 317.4 197.2 317.6 195.8Z" fill="#75d3ff" />
<path d="M320.8 194.6C321.4 193.1 324.6 191.6 327.2 190.5C329.9 189.5 333.4 188.7 336.9 188.1C340.3 187.6 344.6 187.3 348.1 187.3C351.5 187.3 355 187.5 357.7 188.1C360.4 188.8 363.4 189.2 364.4 191C365.5 192.8 364.6 196.6 364.1 199C363.6 201.5 362.6 204.4 361.2 205.8C359.9 207.1 357.5 207.4 356.1 207.1C354.7 206.7 354.5 204.8 352.9 203.8C351.3 202.9 348.9 201.7 346.5 201.4C344.1 201.2 341.1 202.4 338.5 202.2C335.8 202.1 332.9 201.2 330.4 200.6C328 200.1 325.6 200.1 324 199C322.4 198 320.3 196 320.8 194.6Z" fill="#56b0ff" />
<path d="M325.6 195C326 193.9 329.4 192.6 332.1 191.8C334.7 191 338.2 190.5 341.7 190.2C345.1 190 349.5 189.9 352.9 190.2C356.2 190.6 360.4 190.8 361.7 192.3C363 193.8 361.4 197 360.9 199C360.4 201.1 359.4 203.7 358.5 204.6C357.6 205.6 356.5 205.2 355.3 204.6C354.1 204.1 353 202.2 351.3 201.4C349.5 200.6 347.3 200 344.9 199.8C342.5 199.7 339.4 200.5 336.9 200.3C334.3 200.1 331.5 199.6 329.6 198.7C327.8 197.8 325.2 196.2 325.6 195Z" fill="#3d87ff" />
<path d="M332.9 194.6C334.5 193.9 342.8 193.2 345.2 193.6C347.6 193.9 348.9 195.9 347.3 196.6C345.7 197.3 338 198.1 335.6 197.8C333.2 197.4 331.2 195.2 332.9 194.6Z" fill="#2857ff" />
<path d="M350.3 247.1C351.5 243.6 352.3 242.7 353.8 241.2C355.3 239.8 356.4 239.6 359.4 238.4C362.4 237.2 367.6 235.6 372 234.2C376.4 232.8 381.8 230.9 386 230C390.2 229.1 393.7 228.9 397.2 228.9C400.7 228.9 404 229.1 407 230C410.1 230.9 413.3 232.6 415.4 234.2C417.6 235.8 419 237.1 419.9 239.8C420.8 242.5 420.8 246.6 421 250.3C421.2 254 433.5 260.1 421 262C408.6 263.9 358.1 264.5 346.3 262C334.5 259.5 349 250.6 350.3 247.1Z" fill="#d8152f" />
<path d="M351 246.5C352.2 243.2 352.9 243.1 354.4 241.9C355.9 240.7 357 240.3 360 239.1C362.9 238 367.7 236.4 372 235C376.4 233.7 381.8 231.9 386 231C390.2 230.1 393.8 229.7 397.2 229.7C400.7 229.7 403.9 230 406.7 230.8C409.6 231.7 412.5 233.4 414.4 234.9C416.4 236.4 417.6 237.5 418.5 240.1C419.4 242.7 419.4 246.7 419.6 250.3C419.8 254 431.7 260.1 419.6 262C407.5 263.9 358.4 264.6 347 262C335.6 259.4 349.8 249.9 351 246.5Z" fill="#f72735" />
<path d="M355.2 242.6C356.8 238.9 358 240.9 360.8 239.8C363.6 238.7 367.8 237.2 372 235.9C376.2 234.6 381.8 232.9 386 232C390.2 231.1 393.8 230.6 397.2 230.6C400.6 230.5 403.6 230.8 406.3 231.7C409 232.5 411.6 234.1 413.3 235.6C415.1 237.1 416.1 238.1 416.8 240.5C417.6 243 417.8 246.7 417.9 250.3C418.1 253.9 429.1 260.1 417.9 262C406.8 263.9 361.7 265.2 351.2 262C340.7 258.8 353.6 246.3 355.2 242.6Z" fill="#ff3d3d" />
<path d="M356.6 243.6C358.1 240.1 358.9 242 361.5 240.9C364.1 239.9 367.9 238.5 372 237.3C376.1 236.1 381.8 234.5 386 233.6C390.2 232.8 394.1 232.1 397.2 232C400.4 231.9 402.7 232.3 404.9 233.1C407.1 233.9 409.1 235.4 410.5 236.7C411.9 238.1 412.7 238.9 413.3 241.2C414 243.5 414.1 246.8 414.3 250.3C414.5 253.8 424.6 260.1 414.3 262C404 263.9 362.2 265.1 352.6 262C343 258.9 355.1 247.1 356.6 243.6Z" fill="#ff7856" />
<path d="M357.7 244.4C359.1 241.1 359.8 242.9 362.2 241.9C364.6 240.9 368 239.6 372 238.4C376 237.3 381.9 235.9 386 235C390.1 234.2 393.6 233.5 396.5 233.4C399.4 233.3 401.7 233.8 403.5 234.5C405.4 235.2 406.7 236.5 407.7 237.7C408.8 238.9 409.4 239.8 409.8 241.9C410.3 244 410.4 247 410.5 250.3C410.6 253.7 420 260.1 410.5 262C401.1 263.9 362.5 264.9 353.7 262C344.9 259.1 356.3 247.8 357.7 244.4Z" fill="#ffac75" />
<path d="M358.3 245.1C359.7 241.9 360.6 243.6 362.9 242.6C365.2 241.7 368.2 240.4 372 239.4C375.9 238.3 382 237.1 386 236.3C390 235.5 393.1 234.6 395.8 234.5C398.5 234.4 400.5 234.9 402.1 235.6C403.8 236.3 404.8 237.5 405.6 238.7C406.4 239.9 406.7 240.7 407 242.6C407.3 244.5 407.3 247.1 407.3 250.3C407.3 253.5 416.1 260.1 407.3 262C398.5 263.9 362.5 264.8 354.3 262C346.1 259.2 356.8 248.4 358.3 245.1Z" fill="#fff1bc" />
<path d="M358.7 245.8C360.2 242.7 361.4 244.4 363.6 243.5C365.8 242.5 368.3 241.4 372 240.4C375.7 239.3 382.2 238.1 386 237.3C389.9 236.5 392.7 235.7 395.1 235.6C397.5 235.5 399 236.1 400.3 236.7C401.6 237.4 402.5 238.4 403.1 239.5C403.7 240.6 403.9 241.5 403.9 243.3C404 245.1 403.6 247.2 403.5 250.3C403.5 253.4 411.7 260.1 403.5 262C395.4 263.9 362.2 264.7 354.7 262C347.2 259.3 357.2 248.9 358.7 245.8Z" fill="#eaffff" />
<path d="M359.4 246.5C360.9 243.6 362.2 245.1 364.3 244.3C366.4 243.5 368.6 242.4 372 241.5C375.4 240.6 381.3 239.2 384.6 238.7C387.9 238.2 390.2 238 391.6 238.4C393 238.8 393.1 240 393 241.2C392.9 242.4 391.6 243.9 390.9 245.4C390.2 246.9 389.2 247.5 388.8 250.3C388.5 253.1 394.4 260.1 388.8 262C383.2 263.9 360.3 264.6 355.4 262C350.5 259.4 357.9 249.5 359.4 246.5Z" fill="#bcf9ff" />
<path d="M359.7 247.1C361.2 244.3 363 245.9 365 245.1C367.1 244.4 369.2 243.4 372 242.6C374.8 241.8 379.2 240.7 381.8 240.5C384.4 240.3 386.7 240.5 387.7 241.2C388.7 241.9 388.1 243.2 387.7 244.7C387.3 246.2 385.7 247.4 385.3 250.3C384.9 253.2 390.3 260.1 385.3 262C380.4 263.9 360 264.5 355.7 262C351.4 259.5 358.1 249.9 359.7 247.1Z" fill="#99eaff" />
<path d="M359.7 247.9C361 245.3 362 246.6 363.6 246.1C365.2 245.6 367.1 244.9 369.2 244.7C371.3 244.5 374.5 244.5 376.2 244.7C378 244.9 379.2 245.2 379.7 246.1C380.2 247 379.1 247.7 379 250.3C378.9 253 382.9 260.1 379 262C375.1 263.9 358.9 264.3 355.7 262C352.5 259.7 358.4 250.6 359.7 247.9Z" fill="#75d3ff" />
<path d="M254.4 228L257.9 230.6L258.4 232.4L261.3 234.1L266.5 232.9L271.6 231.5L272 234.1L268.2 240.2L265.6 244.5L259.6 249.7L255.3 255.4L252.7 259.2M254.4 221.1L257.3 226.3L258.4 230.3L261.3 230.1L266.5 228L273.3 224.6L278.5 222L281.9 219.4L286.8 213.3L284.9 211.2L281.1 209.8L280.7 206.9L277.6 210.3L272.7 210.7L272.5 207.2L270.2 206.3L267.3 201.1L270.8 200.3L271.6 203.7L275.1 205.8L280.2 205.5L281.9 208.1L289.7 208.6L298.3 208.4L300 210.7L301.7 212.1L304.3 215.9L308.6 215.9L309.1 219.4L310 224.6L312 229.8L314.6 235L317.2 238.4L318.4 236.7L320.1 234.4L321.5 228.9L321.8 225.4L325.5 223.3L330.1 218.5L333.5 215L337 214.2L339.6 213.3L341.3 213.3L342.7 216.2L346.1 220.2L346.1 224.6L348.2 224.9L351.6 223.7L352.1 227.2L353.3 231.5L353 236.7L353 238.4L356.4 241.9L358.1 247.1L361.7 249.9L363.1 249.7L361.7 245.4L359.7 241.5L356.2 237.6L355.9 230.6L357.4 229.2L360.2 231.5L364.2 234.1L364.8 237.2L367.4 234.4L371.4 232.4L371.9 228.9L371 225.4L367.9 222L365.7 219.4L367.6 216.2L370.2 214.8L373.1 215.4L373.6 217.1L374.1 215.4L379.1 213.6L383.4 212.4L387.7 209.3L390.3 205.5L393.4 201.1L393.4 198.5L391.2 195.9L389.4 192L391.2 189.5L394.6 188.1L392 187.1L388.6 187.8L386.5 185L388.9 183.8L392.9 181.6L392.4 184.7L394.3 182.9L397.7 182.9L399.2 186.4L401.5 188.1L401.1 192.5L404.1 192L406.5 189.9L406.5 187.3L404.1 184.7L403.2 182.9L407 180.3L408.7 178.6L412.7 178.1L417 175.1L421.3 170.8L425.2 165.6L425.6 162.1L426.9 160.1L423 158.7L419.5 158.7L416.6 157.3L420.4 154.3L424.7 150.9L429.9 149.5L435 149.3L441.9 149.1L445.3 150L448.8 149.1L453.1 145.7L459.1 145.1L464.3 143.9L464.8 145.7L466 148.3L462.5 151.7L464.3 155.2L462.5 157.3L459.1 160.1L456 161.3L453.4 163.9L451.9 158.7L451.7 154.3L453.9 151.7L459.1 147.4L466 143.9L476.3 148.3L484.9 144.8M250.1 181.2L255.3 180.3L255.3 178.3L251.8 176.4M268.2 171.7L271.6 170.8L275.1 171.7L275.1 174.3L271.6 175.1L270.4 177.7L273.3 178.6L275.1 181.2L274.5 182.9L276.8 184.7L276.4 188.1L272.5 188.7L269 187.3L268.2 184.7L269 182.1L265.6 177.7L264.7 175.1L268.2 171.7M284.5 171.7L288 171.7L288.8 174.3L286.2 176.4L284.2 175.1L284.5 171.7M310.3 173.4L314.6 171.5L319.8 171.7L316.3 172.5L312 174.3L310.3 173.4M407.8 198L410.1 197.7L410.9 194.2L414.4 192.3L417 192.3L417.5 194.2L419.5 192.1L423 191.6L426.1 190.4L426.4 186.4L428.1 183.8L426.9 180.7L425.2 181.2L424.7 183.3L423.8 186.1L419.9 188.1L417.8 189.9L412.7 190.7L409.2 192.8L407.5 194.6L407.8 198M424.7 180.3L427.3 178.6L430.7 179.5L434.2 177.2L432.1 176L428.1 173.4L427.3 176.9L425 177.7L424.7 180.3M428.1 172.5L430.4 171.7L429.9 167.3L432.4 167.3L429.9 162.1L429.9 158.1L428.5 159.5L428.1 165.6L428.1 172.5M390.6 212.4L392 208.6L393.6 208.9L392.9 211.6L391.7 214.2L390.6 212.4M370.9 219L373.1 217.4L374.8 218.1L373.6 220.2L371.4 220.6L370.9 219M321.2 235.5L323.2 237L324.6 240.2L323.2 241.9L321.5 241.5L321.2 238.4L321.2 235.5M391.2 220.2L394.1 220.2L393.7 223.7L392.9 226.3L394.6 228L397.2 229.8L396.3 230.5L393.7 228.4L391.7 228L390.8 226.3L390.3 224.2L391.2 220.2M393.7 240.2L396.3 237.6L398.9 235.5L401.1 237.6L401.1 241L399.8 242.2L397.2 241L395.5 239.3L393.7 240.2M398 230.6L399.9 231.5L400.1 233.2L398.9 234.6L398 233.2L398 230.6M385.5 237.6L389.4 234.1L389.4 232.7L386.9 235.8L385.5 237.6M393.7 231.8L395.5 232.4L396 235.8L394.6 235.8L393.7 234.1L393.7 231.8M371.4 249.2L374.8 249.4L378.3 246.8L381.7 243.6L384.6 240.2L386.9 241.9L388.6 243.6L386.9 245.4L386.5 248.8L388.2 250.6L386 252.3L384.3 255.8L383.4 259.2M375.7 257.5L373.1 254.9L371.4 252.3L371.4 249.2M347.8 242.6L351.6 243.3L355.9 248L358.5 249.4L361.9 252.3L363.6 255.8L366.2 257.5M359.3 259.2L356.8 255.8L354.2 251.4L351.6 248L347.8 242.6M389.4 253.7L390.3 250.9L392 250L395.5 250.7L398.9 249.5L398 251.6L392 251.6L390.8 253.9L392.9 254L396 253.9L393.7 255.4L393.4 257.5M388.2 257.2L389.4 253.7M409.2 253.7L414.4 253.7L416.1 258L420.4 255.1L426.4 256.8M410.9 257.2L414 256.3L410.9 255.8L409.2 253.7M403.2 248.8L404.1 250.6L405.3 251.8L403.7 253.2L403.2 248.8M435 175.1L438.5 173.4L441.9 172L445.3 169.9L448.8 167.3L452.2 164.7" fill="none" stroke="#979797" stroke-width="0.7" stroke-linejoin="round"/>
<path d="M252.7 227.2L256.8 230.6L258 230.3M258 232.4L257.5 233.4L259.6 236.7L264.7 238.4L266.5 238.4L261.3 243.6L256.1 245L254.4 245.5M254.4 253.7L255.3 255.2M249.3 188.5L256.7 187.8L261 187.8L259.9 184L258.9 181L255.3 180.3M256.7 187.8L254.4 192.7M251.3 196.5L256.1 198.4L260.8 201.7L263.9 201.8L266.5 200.3L267.3 200.5M261 187.8L263 190.2L262.2 193.3L266.1 197.2L266.5 200.3M257.5 223.9L259.6 222.1L264.7 222.8L268.2 220L273.3 219.4L275.2 223.3M273.3 219.4L278.5 217.6L279.5 214.2L278.8 212.9L280.7 209.1M272.7 210.3L274.4 212.6L278.8 212.9M289.7 208.6L292.6 205.1L288.8 200.6L288.6 194.2L289.2 190.6L288 188.8L282.3 186.1L276.8 187.4M288.8 200.6L297.9 200.5L303.1 196.8L304.3 193.3L306.9 189L312.7 187.8M289.2 190.6L294.8 189.4L298.3 187.4L303.4 187.3L307.1 185.9L306.9 188.5L312.7 187.8M301.2 211L306 209.8L303.4 205.5L308.6 202L312 198.5L311.5 195.1L317.7 190.7L312.7 187.8M317.7 190.7L319.8 195.9L323.2 199.9L321.7 202.4M321.7 202.4L326.7 204.6L335.4 206.5L335.4 203.9L331 203.2L324.9 199.9L323.2 199.9M336.8 205L338.4 206L342.1 205.8L341.6 204.1L338.7 203.2L336.8 205M335.4 203.9L336.8 205M341.6 204.1L346.4 201.5L349.4 201.3L351.3 203.2M335.4 206.5L335.6 209.8L337 214.2L342.7 216.2L342.7 211.2L340.9 210.5L342.8 208.9L338.4 208.4L338.4 206.5L335.4 206.5M342.7 216.2L344.4 210.7L347.3 206.2L351.3 203.2L353.7 204.6L353.7 208.9L351.8 210.7L355 212.6L358 215L356.1 217.1L352.5 218.1L352.1 221.1L353.7 224L352.8 226.3L354.5 230.6L353.7 234.6M358 215L359.5 213.5L361.1 215.9L363.8 216.9L362.6 218.8L365.7 221.6L369 226.3L368.8 227.2L366.2 227.5L364.8 227.5L365.5 225.1L364 222L359.5 220.7L357.6 222L358 218.5L356.1 217.1M364.8 227.5L360.2 227.7L360.9 232M368.8 227.2L368.8 231L365.9 232.2L363.6 234.3M359.5 213.5L364.2 212.8L367.4 212.8L369.7 215M356.1 241.2L357.8 242.4L359.5 241.5M372.4 248.8L376.2 250.6L380.8 249.9L383.1 244.8L386 245M334.9 167L340.4 173.9L348.2 175.7L349.7 178.3L358.5 178.6L364.5 180.2L373.1 178.3L376.4 176.5L376.2 174.3L382.7 173.6L384.5 172L390.1 171.1L386.5 169.6L382.6 169.2L384.6 165.9M334.9 167L342.1 164.2L352.5 165.6L353 162.7L359.7 163.3L359.9 164.7L367.9 165.6L380.5 165.1L384.6 165.9M384.6 165.9L390.1 162.1L391.7 159.9L396.5 159.5L400.6 161.1L403.4 165.9L408.7 167.5L408.5 169.6L415.6 168.4L412.8 174.1L409.7 174.4L409.6 176.9L408.7 178.6M397.7 182.9L402.2 179.8L404.4 180.5L407 178.8L408.7 178.6M400.8 186.9L404.7 185.4M268.2 171.7L266.5 169.4L263.9 168.4L264.7 167L264.7 165.1L272.5 163L278.5 164.4L284.9 163.9L289.7 163.9L289.7 159.5L297.4 157.6L302.6 156.4L306 158.3L310.3 159.5L315.5 158.3L321.5 163.9L327.5 163.9L331 166.3L334.1 167L334.9 167M334.1 167L331.3 170.5L326.7 170.5L325.5 173.4L321.3 174.4L322 179.1L318.9 180.3L316.2 181.2L310.7 183.8L310.8 185.4L312.7 187.8M274.2 179.8L280.2 180.7L280.2 174.3L284.7 173.2L288.8 175.5L294 176.7L297.4 178.8L298.5 180.9L302.6 180.5L306 179.1L310.3 178.6L311.7 177.4L316.3 177.9L322 179.1M274.9 179.6L278 179.5L280.2 180.7L281.9 180.7L284.7 178.3L287.1 179.1L290.4 181L294.8 184.8L298.5 187.4M298.5 180.9L300.9 182.8L305.2 182.6L305.3 183.6L299.8 184.2L301.5 186.1L300.9 188.1M305.3 183.6L310.7 183.8M306 179.1L304.6 180.7L309.5 181.6L307.1 182.6L305.2 182.6M252.7 176.9L257.9 178.4L263.9 179.8L267.5 179.8M263.9 179.8L261.3 180.9L258.7 181L261 183.5L263.9 184.8L268 185.7" fill="none" stroke="#979797" stroke-width="0.5" stroke-linejoin="round"/>
<path d="M269.9 148.0V250.4M355.9 148.0V250.4M441.9 148.0V250.4M261.0 165.6H475.6M261.0 182.9H475.6M261.0 200.3H475.6M261.0 217.6H475.6M261.0 235H475.6" fill="none" stroke="#888" stroke-opacity="0.3" stroke-width="0.35" stroke-dasharray="0.5 0.9"/>
</g>
<rect x="261.0" y="148.0" width="214.6" height="102.4" fill="none" stroke="#222" stroke-width="0.6"/>
<text x="67.2" y="13.4" font-size="10.4" font-weight="bold" fill="#111" textLength="123.6" lengthAdjust="spacingAndGlyphs">(a) MOPITT EOF1 Global</text>
<text x="284.5" y="18.2" font-size="10.4" font-weight="bold" fill="#111" textLength="165.4" lengthAdjust="spacingAndGlyphs">(b) MOPITT EOF1 North America</text>
<text x="68.3" y="114.9" font-size="10.4" font-weight="bold" fill="#111" textLength="121.5" lengthAdjust="spacingAndGlyphs">(c) MOPITT EOF1 Africa</text>
<text x="311.9" y="144.5" font-size="10.4" font-weight="bold" fill="#111" textLength="113.9" lengthAdjust="spacingAndGlyphs">(d) MOPITT EOF1 Asia</text>
<text x="18.8" y="31.8" text-anchor="end" font-size="5.6" fill="#6a6a6a">40°N</text>
<text x="18.8" y="43.7" text-anchor="end" font-size="5.6" fill="#6a6a6a">20°N</text>
<text x="18.8" y="55.6" text-anchor="end" font-size="5.6" fill="#6a6a6a">0°</text>
<text x="18.8" y="67.5" text-anchor="end" font-size="5.6" fill="#6a6a6a">20°S</text>
<text x="18.8" y="79.4" text-anchor="end" font-size="5.6" fill="#6a6a6a">40°S</text>
<text x="39.3" y="98" text-anchor="middle" font-size="5.6" fill="#6a6a6a">150°W</text>
<text x="69.1" y="98" text-anchor="middle" font-size="5.6" fill="#6a6a6a">100°W</text>
<text x="98.8" y="98" text-anchor="middle" font-size="5.6" fill="#6a6a6a">50°W</text>
<text x="128.6" y="98" text-anchor="middle" font-size="5.6" fill="#6a6a6a">0°</text>
<text x="158.3" y="98" text-anchor="middle" font-size="5.6" fill="#6a6a6a">50°E</text>
<text x="188.1" y="98" text-anchor="middle" font-size="5.6" fill="#6a6a6a">100°E</text>
<text x="217.8" y="98" text-anchor="middle" font-size="5.6" fill="#6a6a6a">150°E</text>
<text x="257.8" y="38.7" text-anchor="end" font-size="5.6" fill="#6a6a6a">50°N</text>
<text x="257.8" y="53" text-anchor="end" font-size="5.6" fill="#6a6a6a">40°N</text>
<text x="257.8" y="67.3" text-anchor="end" font-size="5.6" fill="#6a6a6a">30°N</text>
<text x="257.8" y="81.6" text-anchor="end" font-size="5.6" fill="#6a6a6a">20°N</text>
<text x="281.5" y="93" text-anchor="middle" font-size="5.6" fill="#6a6a6a">150°W</text>
<text x="353" y="93" text-anchor="middle" font-size="5.6" fill="#6a6a6a">100°W</text>
<text x="424.5" y="93" text-anchor="middle" font-size="5.6" fill="#6a6a6a">50°W</text>
<text x="19.2" y="125.6" text-anchor="end" font-size="5.6" fill="#6a6a6a">20°N</text>
<text x="19.2" y="153.1" text-anchor="end" font-size="5.6" fill="#6a6a6a">10°N</text>
<text x="19.2" y="180.5" text-anchor="end" font-size="5.6" fill="#6a6a6a">0°</text>
<text x="19.2" y="207.9" text-anchor="end" font-size="5.6" fill="#6a6a6a">10°S</text>
<text x="19.2" y="235.4" text-anchor="end" font-size="5.6" fill="#6a6a6a">20°S</text>
<text x="19.2" y="262.8" text-anchor="end" font-size="5.6" fill="#6a6a6a">30°S</text>
<text x="84.4" y="288" text-anchor="middle" font-size="5.6" fill="#6a6a6a">0°</text>
<text x="218.5" y="288" text-anchor="middle" font-size="5.6" fill="#6a6a6a">50°E</text>
<text x="257.8" y="167.6" text-anchor="end" font-size="5.6" fill="#6a6a6a">50°N</text>
<text x="257.8" y="184.9" text-anchor="end" font-size="5.6" fill="#6a6a6a">40°N</text>
<text x="257.8" y="202.3" text-anchor="end" font-size="5.6" fill="#6a6a6a">30°N</text>
<text x="257.8" y="219.6" text-anchor="end" font-size="5.6" fill="#6a6a6a">20°N</text>
<text x="257.8" y="237" text-anchor="end" font-size="5.6" fill="#6a6a6a">10°N</text>
<text x="269.9" y="258.1" text-anchor="middle" font-size="5.6" fill="#6a6a6a">50°E</text>
<text x="355.9" y="258.1" text-anchor="middle" font-size="5.6" fill="#6a6a6a">100°E</text>
<text x="441.9" y="258.1" text-anchor="middle" font-size="5.6" fill="#6a6a6a">150°E</text>
<rect x="270.8" y="100.8" width="11.1" height="7.6" fill="#2400d8"/>
<rect x="281.6" y="100.8" width="11.1" height="7.6" fill="#181cf7"/>
<rect x="292.4" y="100.8" width="11.1" height="7.6" fill="#2857ff"/>
<rect x="303.2" y="100.8" width="11.1" height="7.6" fill="#3d87ff"/>
<rect x="314" y="100.8" width="11.1" height="7.6" fill="#56b0ff"/>
<rect x="324.9" y="100.8" width="11.1" height="7.6" fill="#75d3ff"/>
<rect x="335.7" y="100.8" width="11.1" height="7.6" fill="#99eaff"/>
<rect x="346.5" y="100.8" width="11.1" height="7.6" fill="#bcf9ff"/>
<rect x="357.3" y="100.8" width="11.1" height="7.6" fill="#eaffff"/>
<rect x="368.1" y="100.8" width="11.1" height="7.6" fill="#ffffea"/>
<rect x="378.9" y="100.8" width="11.1" height="7.6" fill="#fff1bc"/>
<rect x="389.7" y="100.8" width="11.1" height="7.6" fill="#ffd699"/>
<rect x="400.5" y="100.8" width="11.1" height="7.6" fill="#ffac75"/>
<rect x="411.3" y="100.8" width="11.1" height="7.6" fill="#ff7856"/>
<rect x="422.1" y="100.8" width="11.1" height="7.6" fill="#ff3d3d"/>
<rect x="433" y="100.8" width="11.1" height="7.6" fill="#f72735"/>
<rect x="443.8" y="100.8" width="11.1" height="7.6" fill="#d8152f"/>
<rect x="454.6" y="100.8" width="11.1" height="7.6" fill="#a50021"/>
<path d="M271.0 100.8L261.1 104.6L271.0 108.4Z" fill="#2400d8"/>
<path d="M465.2 100.8L474.9 104.6L465.2 108.4Z" fill="#a50021"/>
<path d="M270.8 100.8L261.1 104.6L270.8 108.4L465.4 108.4L474.9 104.6L465.4 100.8Z" fill="none" stroke="#777" stroke-width="0.35"/>
<path d="M270.8 108.4v2.1" stroke="#222" stroke-width="0.5"/>
<text x="262.7" y="121.6" font-size="10.3" fill="#1a1a1a" textLength="16.3" lengthAdjust="spacingAndGlyphs">−20</text>
<path d="M295.3 108.4v2.1" stroke="#222" stroke-width="0.5"/>
<text x="288" y="121.6" font-size="10.3" fill="#1a1a1a" textLength="14.6" lengthAdjust="spacingAndGlyphs">−15</text>
<path d="M319.6 108.4v2.1" stroke="#222" stroke-width="0.5"/>
<text x="312.3" y="121.6" font-size="10.3" fill="#1a1a1a" textLength="14.6" lengthAdjust="spacingAndGlyphs">−10</text>
<path d="M344 108.4v2.1" stroke="#222" stroke-width="0.5"/>
<text x="338.6" y="121.6" font-size="10.3" fill="#1a1a1a" textLength="10.7" lengthAdjust="spacingAndGlyphs">−5</text>
<path d="M368.2 108.4v2.1" stroke="#222" stroke-width="0.5"/>
<text x="364.9" y="121.6" font-size="10.3" fill="#1a1a1a" textLength="6.5" lengthAdjust="spacingAndGlyphs">0</text>
<path d="M400.6 108.4v2.1" stroke="#222" stroke-width="0.5"/>
<text x="397.5" y="121.6" font-size="10.3" fill="#1a1a1a" textLength="6.2" lengthAdjust="spacingAndGlyphs">5</text>
<path d="M433.2 108.4v2.1" stroke="#222" stroke-width="0.5"/>
<text x="427.9" y="121.6" font-size="10.3" fill="#1a1a1a" textLength="10.6" lengthAdjust="spacingAndGlyphs">10</text>
<path d="M465.7 108.4v2.1" stroke="#222" stroke-width="0.5"/>
<text x="460.8" y="121.6" font-size="10.3" fill="#1a1a1a" textLength="9.8" lengthAdjust="spacingAndGlyphs">15</text>
<text x="347.9" y="130.5" font-size="8.4" font-style="italic" fill="#222" textLength="40" lengthAdjust="spacingAndGlyphs">Magnitude</text>
<text x="478.5" y="108.5" font-size="8.8" font-style="italic" fill="#222">10<tspan dy="-4" dx="0.6" font-size="4.8">−3</tspan></text>
</svg></body></html>
